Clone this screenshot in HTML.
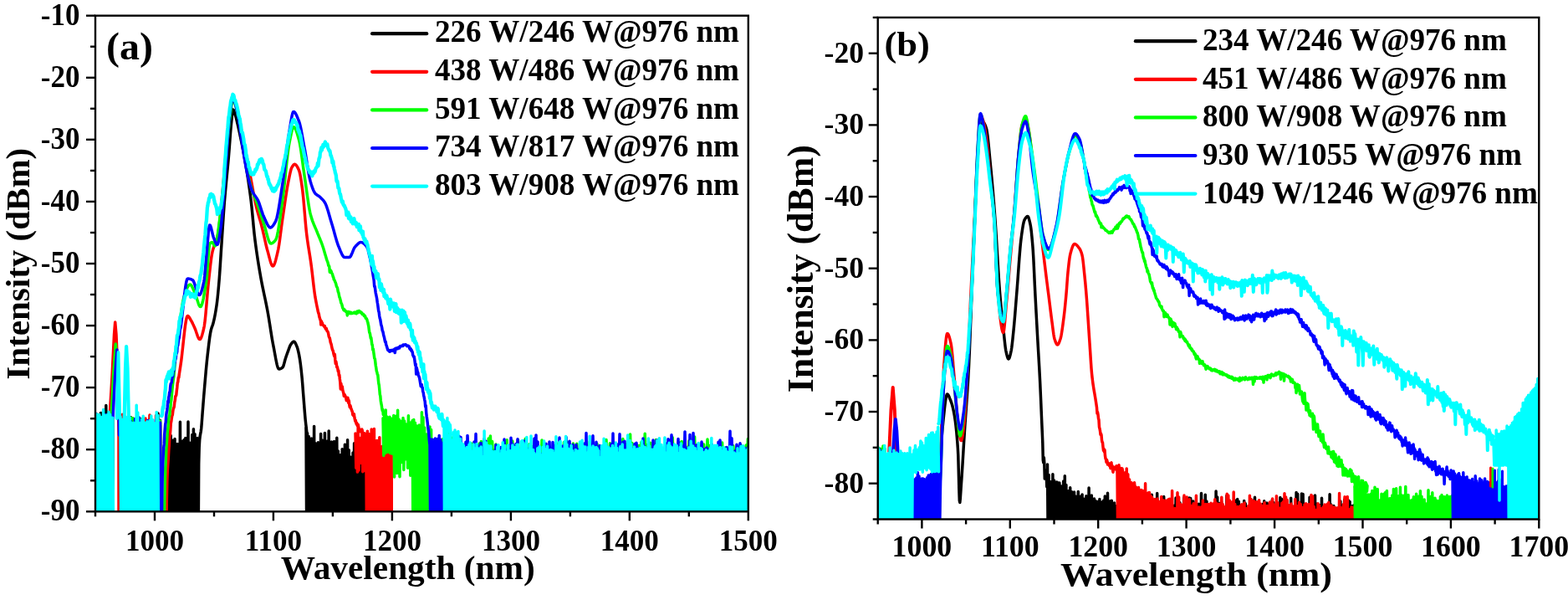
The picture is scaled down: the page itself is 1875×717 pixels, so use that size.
<!DOCTYPE html><html><head><meta charset="utf-8"><title>Spectra</title><style>html,body{margin:0;padding:0;background:#fff;width:1875px;height:717px;overflow:hidden}svg{display:block}</style></head><body><svg width="1875" height="717" viewBox="0 0 1875 717" font-family="'Liberation Serif','Times New Roman',serif" font-weight="bold">
<defs><clipPath id="ca"><rect x="114.0" y="18.7" width="780.8" height="592.5999999999999"/></clipPath><clipPath id="cb"><rect x="1049.7" y="20.9" width="790.5999999999999" height="599.6"/></clipPath></defs>
<rect width="1875" height="717" fill="#fff"/>
<g clip-path="url(#ca)"><polyline points="114.0,501.0 114.8,660.0 115.6,495.0 116.4,660.0 117.2,496.3 118.0,660.0 118.8,497.7 119.6,660.0 120.4,493.5 121.2,660.0 122.0,496.5 122.8,660.0 123.6,491.3 124.4,660.0 125.2,491.7 126.0,660.0 126.8,484.6 127.6,660.0 128.4,492.9 129.2,660.0 130.0,495.2 130.8,660.0 131.6,495.8 132.4,660.0 133.2,500.4 134.0,660.0 134.8,500.3 135.5,660.0" fill="none" stroke="#000000" stroke-width="3.5" stroke-linejoin="round" stroke-linecap="round"/>
<polyline points="144.0,502.7 145.2,660.0 146.5,510.0 147.8,660.0 149.0,501.8 150.2,660.0 151.5,500.3 152.8,660.0 154.0,506.1 155.2,660.0 156.5,498.8 157.8,660.0 159.0,506.2 160.2,660.0 161.5,511.3 162.8,660.0 164.0,500.4 165.2,660.0 166.5,502.2 167.8,660.0 169.0,501.1 170.2,660.0 171.5,506.0 172.8,535.2 174.0,503.0 175.2,660.0 176.5,513.2 177.8,660.0 179.0,500.7 180.2,660.0 181.5,506.1 182.8,536.9 184.0,513.0 185.2,660.0 186.5,509.0 187.8,660.0 189.0,494.0 190.2,660.0 191.5,502.2 192.0,660.0" fill="none" stroke="#000000" stroke-width="3.5" stroke-linejoin="round" stroke-linecap="round"/>
<polyline points="201.0,515.2 201.8,660.0 202.6,538.8 203.4,660.0 204.2,520.5 205.0,660.0 205.8,526.1 206.6,660.0 207.4,530.7 208.2,660.0 209.0,524.4 209.8,660.0 210.6,533.0 211.4,660.0 212.2,530.5 213.0,660.0 213.8,540.3 214.6,660.0 215.4,504.3 216.2,660.0 217.0,532.3 217.8,660.0 218.6,527.0 219.4,660.0 220.2,525.5 221.0,660.0 221.8,523.4 222.6,660.0 223.4,533.8 224.2,660.0 225.0,504.1 225.8,660.0 226.6,528.9 227.4,660.0 228.2,534.0 229.0,660.0 229.8,519.6 230.6,660.0 231.4,512.8 232.2,660.0 233.0,518.8 233.8,660.0 234.6,528.4 235.4,660.0 236.2,523.5 236.8,660.0" fill="none" stroke="#000000" stroke-width="3.5" stroke-linejoin="round" stroke-linecap="round"/>
<polyline points="237.2,640.0 237.7,554.1 238.2,534.4 238.7,525.8 239.2,521.3 239.7,518.4 240.2,515.7 240.7,512.0 241.2,506.1 241.7,499.1 242.2,492.4 242.7,486.0 243.2,479.7 243.7,473.4 244.2,467.4 244.7,461.5 245.2,455.7 245.7,449.9 246.2,444.2 246.7,438.7 247.2,433.5 247.7,428.6 248.2,424.1 248.7,419.8 249.2,415.5 249.7,411.3 250.2,407.3 250.7,403.6 251.2,400.3 251.7,397.3 252.2,394.8 252.7,392.9 253.2,391.3 253.7,389.9 254.2,388.6 254.7,387.1 255.2,385.2 255.7,383.2 256.2,381.0 256.7,378.6 257.2,376.0 257.7,373.3 258.2,370.3 258.7,367.1 259.2,363.7 259.7,359.8 260.2,355.4 260.7,350.4 261.2,345.1 261.7,339.3 262.2,333.3 262.7,326.5 263.2,319.0 263.7,311.2 264.2,303.2 264.7,295.5 265.2,288.0 265.7,280.2 266.2,272.5 266.7,264.8 267.2,257.4 267.7,250.3 268.2,243.7 268.7,237.6 269.2,231.8 269.7,226.3 270.2,221.0 270.7,215.8 271.2,210.7 271.7,205.5 272.2,200.3 272.7,195.0 273.2,189.5 273.7,183.7 274.2,177.4 274.7,170.6 275.2,163.7 275.7,157.0 276.2,151.1 276.7,146.0 277.2,140.8 277.7,136.0 278.2,132.4 278.7,131.0 279.2,131.4 279.7,132.3 280.2,133.7 280.7,135.4 281.2,137.0 281.7,138.6 282.2,140.4 282.7,142.3 283.2,144.3 283.7,146.5 284.2,148.7 284.7,150.9 285.2,153.1 285.7,155.3 286.2,157.6 286.7,159.9 287.2,162.3 287.7,164.6 288.2,167.1 288.7,169.5 289.2,172.0 289.7,174.5 290.2,177.1 290.7,179.7 291.2,182.4 291.7,185.1 292.2,187.8 292.7,190.6 293.2,193.5 293.7,196.3 294.2,199.3 294.7,202.2 295.2,205.2 295.7,208.3 296.2,211.5 296.7,214.7 297.2,218.0 297.7,221.4 298.2,224.9 298.7,228.5 299.2,232.2 299.7,236.1 300.2,240.1 300.7,244.6 301.2,249.4 301.7,254.6 302.2,260.0 302.7,265.4 303.2,270.8 303.7,275.9 304.2,280.6 304.7,284.8 305.2,288.7 305.7,292.5 306.2,296.2 306.7,299.8 307.2,303.2 307.7,306.6 308.2,309.9 308.7,313.0 309.2,316.2 309.7,319.2 310.2,322.2 310.7,325.1 311.2,328.0 311.7,330.9 312.2,333.6 312.7,336.3 313.2,338.8 313.7,341.4 314.2,343.8 314.7,346.2 315.2,348.6 315.7,351.0 316.2,353.3 316.7,355.7 317.2,358.0 317.7,360.4 318.2,362.9 318.7,365.3 319.2,367.9 319.7,370.5 320.2,373.2 320.7,376.0 321.2,379.0 321.7,382.0 322.2,385.2 322.7,388.3 323.2,391.6 323.7,394.8 324.2,397.9 324.7,401.1 325.2,404.1 325.7,407.0 326.2,409.8 326.7,412.4 327.2,414.9 327.7,417.5 328.2,420.2 328.7,423.0 329.2,425.8 329.7,428.5 330.2,431.0 330.7,433.4 331.2,435.6 331.7,437.5 332.2,439.0 332.7,440.2 333.2,440.8 333.7,441.0 334.2,441.0 334.7,440.9 335.2,440.7 335.7,440.5 336.2,440.2 336.7,439.9 337.2,439.6 337.7,439.2 338.2,438.8 338.7,437.8 339.2,436.4 339.7,434.6 340.2,432.7 340.7,430.8 341.2,429.0 341.7,427.4 342.2,425.9 342.7,424.5 343.2,423.1 343.7,421.7 344.2,420.3 344.7,419.0 345.2,417.6 345.7,416.2 346.2,414.8 346.7,413.5 347.2,412.5 347.7,411.7 348.2,411.0 348.7,410.3 349.2,409.7 349.7,409.1 350.2,408.7 350.7,408.4 351.2,408.2 351.7,408.3 352.2,408.6 352.7,409.2 353.2,410.0 353.7,411.0 354.2,412.1 354.7,413.3 355.2,414.5 355.7,416.0 356.2,417.8 356.7,419.8 357.2,422.1 357.7,424.7 358.2,427.4 358.7,430.5 359.2,434.0 359.7,438.0 360.2,442.4 360.7,447.1 361.2,452.1 361.7,458.2 362.2,464.8 362.7,471.3 363.2,477.7 363.7,484.1 364.2,490.5 364.7,496.6 365.2,502.1 365.7,506.6 366.2,510.6 366.7,515.1 367.2,521.1 367.7,531.0" fill="none" stroke="#000000" stroke-width="3.5" stroke-linejoin="round" stroke-linecap="round"/>
<polyline points="366.0,511.3 366.8,660.0 367.6,517.8 368.4,660.0 369.2,521.6 370.0,660.0 370.8,526.8 371.6,660.0 372.4,523.9 373.2,660.0 374.0,533.3 374.8,660.0 375.6,509.4 376.4,660.0 377.2,529.8 378.0,660.0 378.8,545.1 379.6,573.4 380.4,528.8 381.2,660.0 382.0,538.3 382.8,660.0 383.6,518.5 384.4,660.0 385.2,526.1 386.0,660.0 386.8,534.1 387.6,660.0 388.4,517.4 389.2,660.0 390.0,527.3 390.8,660.0 391.6,526.9 392.4,660.0 393.2,514.9 394.0,660.0 394.8,540.3 395.6,660.0 396.4,528.0 397.2,660.0 398.0,547.3 398.8,660.0 399.6,527.6 400.4,660.0 401.2,537.1 402.0,660.0 402.8,523.2 403.6,660.0 404.4,538.9 405.2,660.0 406.0,545.8 406.8,660.0 407.6,543.6 408.4,660.0 409.2,536.8 410.0,660.0 410.8,538.3 411.6,660.0 412.4,531.2 413.2,660.0 414.0,549.5 414.8,660.0 415.6,525.8 416.4,660.0 417.2,537.8 418.0,660.0 418.8,546.0 419.6,660.0 420.4,551.9 421.2,660.0 422.0,541.1 422.8,660.0 423.6,529.7 424.4,660.0 425.2,535.7 426.0,660.0 426.8,544.0 427.6,660.0 428.4,542.7 429.2,660.0 430.0,554.6 430.8,660.0 431.6,537.8 432.4,660.0 433.2,539.0 434.0,660.0 434.8,547.5 435.6,660.0 436.4,538.8 437.2,660.0 438.0,523.1 438.0,660.0" fill="none" stroke="#000000" stroke-width="3.5" stroke-linejoin="round" stroke-linecap="round"/>
<polyline points="114.0,499.7 115.2,660.0 116.5,502.6 117.8,660.0 119.0,500.0 120.2,660.0 121.5,501.7 122.8,660.0 124.0,496.5 125.2,660.0 126.5,498.8 127.8,660.0 129.0,507.0 130.0,660.0" fill="none" stroke="#ff0000" stroke-width="3.5" stroke-linejoin="round" stroke-linecap="round"/>
<polyline points="144.0,505.4 145.2,660.0 146.5,495.2 147.8,660.0 149.0,510.1 150.2,660.0 151.5,503.6 152.8,660.0 154.0,505.3 155.2,660.0 156.5,506.1 157.8,660.0 159.0,500.1 160.2,660.0 161.5,504.4 162.8,660.0 164.0,502.8 165.2,660.0 166.5,519.6 167.8,660.0 169.0,508.1 170.2,660.0 171.5,503.4 172.8,660.0 174.0,499.9 175.2,660.0 176.5,505.4 177.8,660.0 179.0,495.9 180.2,660.0 181.5,508.4 182.8,660.0 184.0,511.1 185.2,660.0 186.5,496.5 187.8,660.0 189.0,513.3 190.2,660.0 191.5,508.6 192.0,660.0" fill="none" stroke="#ff0000" stroke-width="3.5" stroke-linejoin="round" stroke-linecap="round"/>
<polyline points="131.0,500.0 134.0,450.0 136.5,400.0 137.7,385.0 139.0,400.0 141.0,450.0 142.0,520.0 142.0,640.0" fill="none" stroke="#ff0000" stroke-width="3.5" stroke-linejoin="round" stroke-linecap="round"/>
<polyline points="198.8,640.8 199.3,598.8 199.8,575.1 200.3,561.9 200.8,554.3 201.3,547.5 201.8,538.2 202.3,532.0 202.8,521.1 203.3,519.7 203.8,514.1 204.3,505.8 204.8,503.4 205.3,499.6 205.8,496.8 206.3,495.7 206.8,491.3 207.3,488.2 207.8,487.6 208.3,485.7 208.8,480.7 209.3,478.6 209.8,473.4 210.3,473.3 210.8,471.9 211.3,466.7 211.8,462.9 212.3,457.4 212.8,456.4 213.3,451.1 213.8,451.4 214.3,447.2 214.8,444.0 215.3,440.8 215.8,437.5 216.3,434.1 216.8,430.4 217.3,426.3 217.8,421.9 218.3,417.4 218.8,412.8 219.3,408.1 219.8,403.5 220.3,399.0 220.8,394.8 221.3,390.8 221.8,387.2 222.3,384.1 222.8,381.5 223.3,379.4 223.8,378.1 224.3,377.5 224.8,377.6 225.3,377.9 225.8,378.5 226.3,379.2 226.8,380.0 227.3,380.9 227.8,381.8 228.3,382.7 228.8,383.5 229.3,384.4 229.8,385.4 230.3,386.4 230.8,387.5 231.3,388.5 231.8,389.6 232.3,390.7 232.8,391.8 233.3,393.0 233.8,394.3 234.3,395.8 234.8,397.3 235.3,398.8 235.8,400.2 236.3,401.6 236.8,402.8 237.3,403.9 237.8,404.7 238.3,405.2 238.8,405.5 239.3,405.4 239.8,404.9 240.3,404.1 240.8,402.9 241.3,401.5 241.8,399.9 242.3,398.1 242.8,396.2 243.3,394.2 243.8,392.0 244.3,389.5 244.8,386.1 245.3,381.8 245.8,376.9 246.3,371.4 246.8,365.7 247.3,359.8 247.8,353.8 248.3,348.0 248.8,342.6 249.3,337.6 249.8,333.1 250.3,328.6 250.8,324.0 251.3,319.5 251.8,315.2 252.3,311.2 252.8,307.6 253.3,304.4 253.8,301.8 254.3,299.7 254.8,297.8 255.3,296.2 255.8,294.7 256.3,293.4 256.8,292.1 257.3,290.9 257.8,289.7 258.3,288.3 258.8,286.9 259.3,285.3 259.8,283.5 260.3,281.4 260.8,279.0 261.3,275.9 261.8,272.2 262.3,268.0 262.8,263.4 263.3,258.5 263.8,253.3 264.3,248.0 264.8,242.6 265.3,237.3 265.8,232.0 266.3,226.9 266.8,221.7 267.3,216.2 267.8,210.7 268.3,205.0 268.8,199.3 269.3,193.7 269.8,188.0 270.3,182.5 270.8,177.1 271.3,171.8 271.8,166.3 272.3,160.7 272.8,155.1 273.3,149.8 273.8,144.8 274.3,140.2 274.8,136.3 275.3,133.1 275.8,129.8 276.3,126.6 276.8,123.6 277.3,121.1 277.8,119.3 278.3,118.2 278.8,118.0 279.3,118.4 279.8,119.1 280.3,120.2 280.8,121.5 281.3,122.9 281.8,124.6 282.3,126.3 282.8,128.0 283.3,129.7 283.8,131.4 284.3,133.3 284.8,135.4 285.3,137.8 285.8,140.2 286.3,142.8 286.8,145.4 287.3,148.2 287.8,150.9 288.3,153.7 288.8,156.5 289.3,159.2 289.8,161.9 290.3,164.5 290.8,167.0 291.3,169.5 291.8,172.0 292.3,174.4 292.8,176.9 293.3,179.4 293.8,181.9 294.3,184.3 294.8,186.8 295.3,189.3 295.8,191.8 296.3,194.4 296.8,196.9 297.3,199.5 297.8,202.1 298.3,204.7 298.8,207.4 299.3,210.1 299.8,212.8 300.3,215.4 300.8,218.1 301.3,220.8 301.8,223.5 302.3,226.2 302.8,229.0 303.3,231.7 303.8,234.3 304.3,236.9 304.8,239.4 305.3,241.8 305.8,244.1 306.3,246.3 306.8,248.3 307.3,250.3 307.8,252.2 308.3,254.0 308.8,255.8 309.3,257.5 309.8,259.2 310.3,260.9 310.8,262.6 311.3,264.4 311.8,266.1 312.3,267.9 312.8,269.8 313.3,271.7 313.8,273.7 314.3,275.8 314.8,278.0 315.3,280.2 315.8,282.4 316.3,284.7 316.8,287.0 317.3,289.2 317.8,291.4 318.3,293.5 318.8,295.5 319.3,297.5 319.8,299.3 320.3,301.0 320.8,302.9 321.3,304.8 321.8,306.7 322.3,308.6 322.8,310.4 323.3,312.2 323.8,313.8 324.3,315.2 324.8,316.4 325.3,317.2 325.8,317.8 326.3,318.0 326.8,317.8 327.3,317.3 327.8,316.4 328.3,315.2 328.8,313.8 329.3,312.2 329.8,310.4 330.3,308.4 330.8,306.4 331.3,304.3 331.8,302.1 332.3,300.0 332.8,297.6 333.3,294.8 333.8,291.7 334.3,288.2 334.8,284.5 335.3,280.6 335.8,276.7 336.3,272.8 336.8,269.0 337.3,265.3 337.8,261.8 338.3,258.4 338.8,255.0 339.3,251.6 339.8,248.2 340.3,244.7 340.8,241.3 341.3,238.0 341.8,234.7 342.3,231.4 342.8,228.3 343.3,225.3 343.8,222.5 344.3,219.7 344.8,217.2 345.3,214.7 345.8,212.2 346.3,209.7 346.8,207.4 347.3,205.2 347.8,203.3 348.3,201.6 348.8,200.4 349.3,199.5 349.8,198.7 350.3,197.9 350.8,197.3 351.3,196.7 351.8,196.4 352.3,196.3 352.8,196.4 353.3,196.6 353.8,197.0 354.3,197.6 354.8,198.3 355.3,199.0 355.8,199.9 356.3,200.9 356.8,201.9 357.3,203.0 357.8,204.3 358.3,206.1 358.8,208.3 359.3,211.0 359.8,214.0 360.3,217.2 360.8,220.6 361.3,224.1 361.8,227.8 362.3,232.2 362.8,237.2 363.3,242.7 363.8,248.5 364.3,254.4 364.8,260.3 365.3,266.1 365.8,271.5 366.3,276.5 366.8,280.8 367.3,284.7 367.8,288.3 368.3,291.7 368.8,294.9 369.3,298.1 369.8,301.1 370.3,304.3 370.8,307.4 371.3,310.7 371.8,314.2 372.3,317.9 372.8,321.9 373.3,326.1 373.8,330.5 374.3,334.8 374.8,339.2 375.3,343.4 375.8,347.4 376.3,351.0 376.8,354.4 377.3,357.2 377.8,359.9 378.3,362.5 378.8,365.0 379.3,367.4 379.8,369.7 380.3,372.3 380.8,374.0 381.3,375.3 381.8,378.4 382.3,379.9 382.8,381.8 383.3,382.5 383.8,388.0 384.3,383.7 384.8,386.3 385.3,385.9 385.8,387.3 386.3,388.6 386.8,389.0 387.3,389.5 387.8,390.4 388.3,389.6 388.8,391.4 389.3,392.8 389.8,393.5 390.3,392.6 390.8,395.0 391.3,395.8 391.8,396.1 392.3,397.2 392.8,399.5 393.3,402.1 393.8,403.3 394.3,404.2 394.8,406.7 395.3,409.3 395.8,410.5 396.3,412.3 396.8,414.8 397.3,417.1 397.8,418.6 398.3,419.3 398.8,422.0 399.3,424.1 399.8,425.6 400.3,423.4 400.8,429.9 401.3,434.6 401.8,432.0 402.3,434.7 402.8,438.7 403.3,438.4 403.8,440.4 404.3,443.7 404.8,443.0 405.3,448.6 405.8,448.0 406.3,452.7 406.8,456.4 407.3,465.0 407.8,458.2 408.3,461.9 408.8,463.7 409.3,461.9 409.8,466.1 410.3,468.0 410.8,469.8 411.3,473.3 411.8,471.3 412.3,472.1 412.8,473.1 413.3,474.3 413.8,476.1 414.3,478.8 414.8,475.5 415.3,478.2 415.8,475.2 416.3,477.4 416.8,481.5 417.3,478.8 417.8,484.0 418.3,486.8 418.8,484.5 419.3,486.1 419.8,488.6 420.3,489.1 420.8,491.2 421.3,491.6 421.8,495.6 422.3,496.0 422.8,496.8 423.3,494.6 423.8,498.4 424.3,501.0 424.8,503.3 425.3,502.3 425.8,505.5 426.3,506.9 426.8,505.6 427.3,508.8 427.8,508.3 428.3,507.7 428.8,510.4 429.3,513.5 429.8,512.9 430.3,513.1 430.8,515.3 431.3,515.9 431.8,515.9 432.3,513.4 432.8,513.1 433.3,515.3 433.8,521.4 434.3,520.6 434.8,517.6 435.3,522.2 435.8,519.3" fill="none" stroke="#ff0000" stroke-width="3.5" stroke-linejoin="round" stroke-linecap="round"/>
<polyline points="425.0,518.1 425.8,559.3 426.6,524.4 427.4,564.1 428.2,508.1 429.0,562.0 429.8,523.3 430.6,552.1 431.4,525.0 432.2,553.4 433.0,514.5 433.8,563.7 434.6,519.6 435.4,548.1 436.2,517.9 437.0,562.8 437.8,524.4 438.6,660.0 439.4,515.3 440.2,660.0 441.0,518.6 441.8,660.0 442.6,530.2 443.4,660.0 444.2,513.1 445.0,660.0 445.8,529.9 446.6,660.0 447.4,512.6 448.2,660.0 449.0,526.8 449.8,660.0 450.6,526.5 451.4,660.0 452.2,526.6 453.0,660.0 453.8,522.8 454.6,660.0 455.4,534.4 456.2,660.0 457.0,533.6 457.8,660.0 458.6,531.2 459.4,660.0 460.2,516.3 461.0,660.0 461.8,540.9 462.6,660.0 463.4,540.6 464.2,660.0 465.0,529.1 465.8,660.0 466.6,524.9 467.4,660.0 468.2,537.6 468.3,660.0" fill="none" stroke="#ff0000" stroke-width="3.5" stroke-linejoin="round" stroke-linecap="round"/>
<polyline points="114.0,499.1 115.2,660.0 116.5,505.0 117.8,660.0 119.0,503.2 120.2,660.0 121.5,512.5 122.8,660.0 124.0,499.8 125.2,660.0 126.5,496.6 127.8,660.0 129.0,505.3 130.2,660.0 131.5,503.5 132.0,660.0" fill="none" stroke="#00ff00" stroke-width="3.5" stroke-linejoin="round" stroke-linecap="round"/>
<polyline points="144.0,508.4 145.2,660.0 146.5,510.8 147.8,660.0 149.0,511.0 150.2,660.0 151.5,512.6 152.8,660.0 154.0,504.4 155.2,660.0 156.5,499.2 157.8,660.0 159.0,499.8 160.2,660.0 161.5,501.2 162.8,660.0 164.0,500.4 165.2,660.0 166.5,510.1 167.8,660.0 169.0,501.0 170.2,660.0 171.5,510.1 172.8,660.0 174.0,505.7 175.2,660.0 176.5,509.6 177.8,660.0 179.0,507.6 180.2,660.0 181.5,506.9 182.8,660.0 184.0,505.6 185.2,660.0 186.5,506.8 187.8,660.0 189.0,506.6 190.2,660.0 191.5,502.9 192.0,660.0" fill="none" stroke="#00ff00" stroke-width="3.5" stroke-linejoin="round" stroke-linecap="round"/>
<polyline points="133.0,500.0 135.5,450.0 138.3,411.0 140.0,440.0 141.5,500.0" fill="none" stroke="#00ff00" stroke-width="3.5" stroke-linejoin="round" stroke-linecap="round"/>
<polyline points="196.3,641.3 196.8,600.2 197.3,577.0 197.8,559.2 198.3,550.3 198.8,537.5 199.3,530.1 199.8,523.0 200.3,514.8 200.8,512.7 201.3,504.6 201.8,500.2 202.3,496.7 202.8,496.9 203.3,488.2 203.8,487.5 204.3,481.0 204.8,478.3 205.3,472.8 205.8,467.4 206.3,461.6 206.8,457.4 207.3,453.4 207.8,450.2 208.3,443.8 208.8,439.2 209.3,431.1 209.8,428.8 210.3,424.5 210.8,422.2 211.3,417.7 211.8,411.7 212.3,408.2 212.8,403.5 213.3,398.6 213.8,395.3 214.3,391.2 214.8,387.1 215.3,383.1 215.8,379.3 216.3,375.5 216.8,371.9 217.3,368.5 217.8,365.4 218.3,362.5 218.8,359.9 219.3,357.6 219.8,355.7 220.3,354.1 220.8,352.5 221.3,350.9 221.8,349.4 222.3,348.0 222.8,346.6 223.3,345.4 223.8,344.2 224.3,343.1 224.8,342.2 225.3,341.4 225.8,340.8 226.3,340.3 226.8,340.1 227.3,340.0 227.8,340.2 228.3,340.6 228.8,341.2 229.3,342.0 229.8,342.9 230.3,344.0 230.8,345.1 231.3,346.2 231.8,347.4 232.3,348.5 232.8,349.6 233.3,350.6 233.8,351.9 234.3,353.3 234.8,354.9 235.3,356.5 235.8,358.2 236.3,359.8 236.8,361.3 237.3,362.8 237.8,364.1 238.3,365.1 238.8,365.9 239.3,366.4 239.8,366.5 240.3,366.2 240.8,365.4 241.3,364.2 241.8,362.7 242.3,360.8 242.8,358.7 243.3,356.3 243.8,353.6 244.3,350.8 244.8,347.8 245.3,344.8 245.8,341.6 246.3,338.4 246.8,335.1 247.3,330.6 247.8,324.6 248.3,317.8 248.8,310.7 249.3,303.9 249.8,298.1 250.3,293.7 250.8,291.4 251.3,290.8 251.8,290.3 252.3,290.0 252.8,289.7 253.3,289.5 253.8,289.5 254.3,289.9 254.8,290.7 255.3,291.6 255.8,292.6 256.3,293.5 256.8,294.0 257.3,293.9 257.8,293.0 258.3,291.5 258.8,289.4 259.3,286.7 259.8,283.7 260.3,280.3 260.8,276.7 261.3,272.9 261.8,269.1 262.3,265.2 262.8,261.5 263.3,257.8 263.8,253.8 264.3,249.4 264.8,244.8 265.3,239.9 265.8,234.8 266.3,229.6 266.8,224.2 267.3,218.8 267.8,213.3 268.3,207.9 268.8,202.5 269.3,197.2 269.8,192.0 270.3,187.0 270.8,181.7 271.3,176.3 271.8,170.9 272.3,165.5 272.8,160.2 273.3,155.1 273.8,150.2 274.3,145.6 274.8,141.5 275.3,137.7 275.8,133.7 276.3,129.7 276.8,125.9 277.3,122.7 277.8,120.4 278.3,119.1 278.8,119.1 279.3,119.5 279.8,120.3 280.3,121.5 280.8,122.9 281.3,124.5 281.8,126.3 282.3,128.3 282.8,130.5 283.3,132.6 283.8,134.8 284.3,137.0 284.8,139.2 285.3,141.3 285.8,143.6 286.3,146.0 286.8,148.7 287.3,151.5 287.8,154.3 288.3,157.3 288.8,160.4 289.3,163.5 289.8,166.6 290.3,169.7 290.8,172.8 291.3,175.9 291.8,178.8 292.3,181.8 292.8,184.8 293.3,187.9 293.8,191.0 294.3,194.2 294.8,197.4 295.3,200.5 295.8,203.5 296.3,206.4 296.8,209.2 297.3,211.8 297.8,214.1 298.3,216.3 298.8,218.3 299.3,220.2 299.8,222.0 300.3,223.7 300.8,225.4 301.3,227.0 301.8,228.5 302.3,230.0 302.8,231.4 303.3,232.8 303.8,234.1 304.3,235.4 304.8,236.5 305.3,237.7 305.8,238.8 306.3,240.0 306.8,241.3 307.3,242.6 307.8,243.9 308.3,245.4 308.8,246.8 309.3,248.3 309.8,249.8 310.3,251.3 310.8,252.9 311.3,254.4 311.8,256.0 312.3,257.6 312.8,259.2 313.3,260.7 313.8,262.3 314.3,263.8 314.8,265.3 315.3,266.8 315.8,268.3 316.3,269.9 316.8,271.6 317.3,273.4 317.8,275.3 318.3,277.1 318.8,279.0 319.3,280.8 319.8,282.6 320.3,284.3 320.8,285.8 321.3,287.2 321.8,288.5 322.3,289.5 322.8,290.3 323.3,290.8 323.8,291.0 324.3,291.0 324.8,290.9 325.3,290.7 325.8,290.4 326.3,290.1 326.8,289.7 327.3,289.3 327.8,288.8 328.3,288.3 328.8,287.7 329.3,287.1 329.8,286.4 330.3,285.3 330.8,283.8 331.3,281.9 331.8,279.6 332.3,277.1 332.8,274.2 333.3,271.2 333.8,267.9 334.3,264.5 334.8,261.0 335.3,257.4 335.8,253.8 336.3,250.1 336.8,246.5 337.3,242.9 337.8,239.5 338.3,235.9 338.8,232.0 339.3,227.8 339.8,223.4 340.3,218.8 340.8,214.1 341.3,209.3 341.8,204.5 342.3,199.7 342.8,195.1 343.3,190.5 343.8,186.2 344.3,182.1 344.8,178.3 345.3,174.8 345.8,171.8 346.3,169.2 346.8,166.7 347.3,164.2 347.8,161.8 348.3,159.4 348.8,157.2 349.3,155.3 349.8,153.8 350.3,152.6 350.8,151.9 351.3,151.7 351.8,151.9 352.3,152.4 352.8,153.1 353.3,154.1 353.8,155.2 354.3,156.6 354.8,158.0 355.3,159.6 355.8,161.3 356.3,163.0 356.8,164.8 357.3,166.5 357.8,168.4 358.3,170.7 358.8,173.4 359.3,176.3 359.8,179.5 360.3,182.9 360.8,186.4 361.3,190.0 361.8,193.8 362.3,197.5 362.8,201.2 363.3,204.8 363.8,208.3 364.3,211.6 364.8,214.9 365.3,218.3 365.8,221.9 366.3,225.4 366.8,229.1 367.3,232.7 367.8,236.2 368.3,239.6 368.8,243.0 369.3,246.1 369.8,249.0 370.3,251.7 370.8,254.1 371.3,256.2 371.8,258.0 372.3,259.7 372.8,261.4 373.3,262.9 373.8,264.3 374.3,265.6 374.8,266.9 375.3,268.2 375.8,269.3 376.3,270.5 376.8,271.7 377.3,272.8 377.8,273.9 378.3,275.1 378.8,276.3 379.3,277.5 379.8,278.8 380.3,280.0 380.8,281.2 381.3,282.5 381.8,283.6 382.3,284.8 382.8,286.0 383.3,287.3 383.8,288.5 384.3,289.8 384.8,291.1 385.3,292.5 385.8,294.0 386.3,295.5 386.8,297.1 387.3,298.8 387.8,300.5 388.3,302.2 388.8,303.9 389.3,305.6 389.8,307.3 390.3,309.0 390.8,310.6 391.3,311.9 391.8,313.2 392.3,314.8 392.8,317.3 393.3,317.4 393.8,318.8 394.3,325.2 394.8,322.4 395.3,323.1 395.8,323.5 396.3,325.4 396.8,326.7 397.3,327.1 397.8,328.8 398.3,330.7 398.8,331.5 399.3,334.1 399.8,334.6 400.3,335.4 400.8,337.0 401.3,337.9 401.8,339.5 402.3,341.9 402.8,343.0 403.3,343.6 403.8,345.7 404.3,348.7 404.8,349.6 405.3,352.0 405.8,354.7 406.3,355.8 406.8,357.6 407.3,359.4 407.8,362.0 408.3,362.6 408.8,363.8 409.3,366.0 409.8,368.2 410.3,368.6 410.8,370.2 411.3,370.8 411.8,369.9 412.3,371.0 412.8,371.2 413.3,371.6 413.8,372.6 414.3,373.0 414.8,372.9 415.3,376.9 415.8,372.6 416.3,373.6 416.8,372.7 417.3,373.3 417.8,372.9 418.3,374.6 418.8,373.7 419.3,374.5 419.8,373.3 420.3,374.3 420.8,374.6 421.3,374.2 421.8,374.2 422.3,374.1 422.8,373.9 423.3,373.6 423.8,373.2 424.3,374.2 424.8,373.5 425.3,373.4 425.8,373.4 426.3,374.8 426.8,372.1 427.3,372.0 427.8,373.8 428.3,372.5 428.8,373.0 429.3,371.5 429.8,372.3 430.3,372.7 430.8,372.5 431.3,373.7 431.8,373.1 432.3,373.6 432.8,374.7 433.3,375.5 433.8,375.2 434.3,375.3 434.8,376.0 435.3,377.5 435.8,376.8 436.3,377.6 436.8,378.3 437.3,380.3 437.8,380.7 438.3,380.8 438.8,381.9 439.3,383.8 439.8,385.1 440.3,387.8 440.8,389.7 441.3,394.1 441.8,397.5 442.3,398.1 442.8,400.9 443.3,404.2 443.8,403.6 444.3,407.6 444.8,411.8 445.3,412.3 445.8,418.2 446.3,417.0 446.8,421.0 447.3,424.4 447.8,428.2 448.3,428.8 448.8,432.7 449.3,437.0 449.8,439.7 450.3,443.6 450.8,444.7 451.3,447.5 451.8,448.0 452.3,453.5 452.8,458.1 453.3,460.3 453.8,465.7 454.3,471.4 454.8,473.2 455.3,479.0 455.8,482.2 456.3,484.4 456.8,488.2 457.3,490.9 457.8,489.3 458.3,495.6 458.8,492.1 459.3,496.8 459.8,496.8 460.3,498.1 460.8,500.3 461.3,500.2 461.8,504.3" fill="none" stroke="#00ff00" stroke-width="3.5" stroke-linejoin="round" stroke-linecap="round"/>
<polyline points="458.0,499.8 458.8,544.4 459.6,499.0 460.4,541.7 461.2,489.9 462.0,540.4 462.8,498.1 463.6,540.2 464.4,503.8 465.2,540.0 466.0,498.3 466.8,541.6 467.6,500.1 468.4,542.0 469.2,500.6 470.0,542.4 470.8,496.5 471.6,569.9 472.4,502.5 473.2,526.1 474.0,496.9 474.8,565.4 475.6,490.2 476.4,561.7 477.2,501.3 478.0,569.8 478.8,504.0 479.6,552.7 480.4,503.1 481.2,551.5 482.0,499.5 482.8,561.5 483.6,503.0 484.4,549.0 485.2,506.8 486.0,548.8 486.8,508.1 487.6,559.3 488.4,496.7 489.2,558.3 490.0,504.9 490.8,568.2 491.6,504.8 492.4,561.8 493.2,502.4 494.0,660.0 494.8,501.5 495.6,660.0 496.4,505.3 497.2,660.0 498.0,508.8 498.8,660.0 499.6,510.0 500.4,660.0 501.2,508.0 502.0,660.0 502.8,513.8 503.6,660.0 504.4,492.7 505.2,660.0 506.0,498.7 506.8,660.0 507.6,511.1 508.4,660.0 509.2,518.9 510.0,660.0 510.8,519.1 511.6,660.0 512.4,512.3 513.2,660.0 514.0,509.9 514.8,660.0 515.6,513.5 516.2,660.0" fill="none" stroke="#00ff00" stroke-width="3.5" stroke-linejoin="round" stroke-linecap="round"/>
<polyline points="516.0,532.4 517.1,557.9 518.2,542.2 519.3,574.3 520.4,530.9 521.5,557.4 522.6,531.8 523.7,551.2 524.8,534.9 525.9,545.3 527.0,539.4 528.1,549.8 529.2,524.8 530.3,562.3 531.4,537.3 532.5,550.0 533.6,537.5 534.7,554.2 535.8,516.9 536.9,545.1 538.0,532.9 539.1,565.8 540.2,523.0 541.3,548.9 542.4,541.4 543.5,551.7 544.6,539.1 545.7,567.0 546.8,536.4 547.9,557.7 549.0,540.0 550.1,566.2 551.2,533.9 552.3,561.0 553.4,532.1 554.5,563.5 555.6,539.2 556.7,547.3 557.8,540.5 558.9,558.5 560.0,536.1 561.1,557.7 562.2,529.5 563.3,566.8 564.4,530.2 565.5,554.0 566.6,537.0 567.7,560.0 568.8,547.3 569.9,546.5 571.0,544.2 572.1,554.7 573.2,530.1 574.3,553.1 575.4,527.6 576.5,548.8 577.6,535.9 578.7,565.4 579.8,539.8 580.9,554.5 582.0,550.4 583.1,569.5 584.2,524.0 585.3,559.7 586.4,520.9 587.5,560.1 588.6,527.6 589.7,560.9 590.8,538.0 591.9,561.9 593.0,531.0 594.1,548.8 595.2,533.9 596.3,556.0 597.4,539.2 598.5,551.0 599.6,538.6 600.7,555.1 601.8,529.3 602.9,547.4 604.0,529.9 605.1,561.3 606.2,525.8 607.3,569.2 608.4,537.9 609.5,550.4 610.6,549.6 611.7,561.8 612.8,527.1 613.9,552.5 615.0,532.8 616.1,566.9 617.2,534.5 618.3,561.6 619.4,525.7 620.5,548.3 621.6,540.2 622.7,566.1 623.8,528.7 624.9,568.6 626.0,535.5 627.1,567.6 628.2,524.2 629.3,559.2 630.4,531.9 631.5,548.6 632.6,531.0 633.7,549.8 634.8,536.5 635.9,568.2 637.0,533.5 638.1,558.8 639.2,538.4 640.3,549.5 641.4,536.1 642.5,567.1 643.6,543.1 644.7,561.0 645.8,535.9 646.9,559.2 648.0,526.1 649.1,554.4 650.2,544.6 651.3,555.3 652.4,538.0 653.5,551.0 654.6,543.1 655.7,546.0 656.8,534.4 657.9,566.9 659.0,545.3 660.1,556.7 661.2,544.5 662.3,558.7 663.4,532.2 664.5,553.1 665.6,532.5 666.7,563.8 667.8,529.5 668.9,547.1 670.0,536.0 671.1,545.6 672.2,534.0 673.3,554.3 674.4,528.6 675.5,545.8 676.6,533.7 677.7,548.1 678.8,528.2 679.9,569.2 681.0,541.4 682.1,561.4 683.2,533.9 684.3,555.7 685.4,530.1 686.5,558.1 687.6,532.4 688.7,566.8 689.8,530.2 690.9,553.6 692.0,537.4 693.1,559.8 694.2,537.2 695.3,562.1 696.4,541.8 697.5,553.9 698.6,537.8 699.7,558.0 700.8,533.8 701.9,564.1 703.0,538.2 704.1,567.7 705.2,527.8 706.3,548.8 707.4,537.0 708.5,568.3 709.6,543.9 710.7,545.1 711.8,540.4 712.9,563.8 714.0,530.5 715.1,565.3 716.2,533.6 717.3,548.4 718.4,542.9 719.5,555.5 720.6,540.0 721.7,565.4 722.8,540.2 723.9,545.4 725.0,525.5 726.1,560.7 727.2,535.8 728.3,564.8 729.4,529.7 730.5,557.8 731.6,537.0 732.7,563.1 733.8,529.0 734.9,550.7 736.0,542.0 737.1,550.0 738.2,537.6 739.3,554.1 740.4,530.7 741.5,549.5 742.6,533.4 743.7,553.7 744.8,524.5 745.9,568.7 747.0,549.3 748.1,559.3 749.2,530.7 750.3,553.5 751.4,527.8 752.5,551.8 753.6,519.1 754.7,568.8 755.8,529.4 756.9,556.1 758.0,534.7 759.1,556.6 760.2,534.9 761.3,569.5 762.4,532.2 763.5,557.9 764.6,532.5 765.7,558.0 766.8,528.6 767.9,567.4 769.0,537.9 770.1,563.6 771.2,518.2 772.3,559.5 773.4,531.8 774.5,555.7 775.6,536.7 776.7,567.0 777.8,529.3 778.9,555.3 780.0,538.6 781.1,568.1 782.2,535.7 783.3,546.7 784.4,525.4 785.5,555.7 786.6,529.6 787.7,558.0 788.8,533.1 789.9,568.8 791.0,539.7 792.1,551.3 793.2,540.9 794.3,565.2 795.4,541.2 796.5,561.9 797.6,536.3 798.7,562.9 799.8,533.0 800.9,560.7 802.0,528.9 803.1,569.3 804.2,522.8 805.3,553.3 806.4,552.9 807.5,555.0 808.6,536.6 809.7,550.1 810.8,529.1 811.9,546.3 813.0,529.1 814.1,550.3 815.2,527.4 816.3,567.9 817.4,543.7 818.5,566.0 819.6,532.5 820.7,547.8 821.8,535.0 822.9,560.1 824.0,526.8 825.1,557.0 826.2,534.8 827.3,559.9 828.4,532.1 829.5,553.3 830.6,521.9 831.7,561.5 832.8,540.9 833.9,552.7 835.0,533.3 836.1,569.0 837.2,544.1 838.3,556.6 839.4,530.2 840.5,560.7 841.6,530.9 842.7,560.9 843.8,536.2 844.9,549.6 846.0,525.1 847.1,546.5 848.2,532.4 849.3,555.3 850.4,534.7 851.5,564.1 852.6,539.1 853.7,565.4 854.8,538.1 855.9,563.2 857.0,539.2 858.1,547.8 859.2,536.0 860.3,567.8 861.4,537.6 862.5,561.3 863.6,529.0 864.7,565.1 865.8,536.0 866.9,566.9 868.0,534.7 869.1,558.1 870.2,537.8 871.3,567.9 872.4,535.6 873.5,546.2 874.6,534.2 875.7,545.8 876.8,532.8 877.9,545.5 879.0,541.9 880.1,551.3 881.2,533.5 882.3,552.2 883.4,537.3 884.5,551.2 885.6,531.5 886.7,549.7 887.8,538.5 888.9,559.2 890.0,539.9 891.1,546.0 892.2,532.0 893.3,559.8 894.4,524.5 895.0,549.2" fill="none" stroke="#00ff00" stroke-width="3.5" stroke-linejoin="round" stroke-linecap="round"/>
<polyline points="114.0,493.7 115.2,660.0 116.5,506.5 117.8,660.0 119.0,513.3 120.2,660.0 121.5,507.2 122.8,660.0 124.0,500.8 125.2,660.0 126.5,495.4 127.8,660.0 129.0,501.0 130.2,660.0 131.5,506.1 132.8,660.0 134.0,509.6 134.0,660.0" fill="none" stroke="#0000ff" stroke-width="3.5" stroke-linejoin="round" stroke-linecap="round"/>
<polyline points="144.0,507.3 145.2,660.0 146.5,511.3 147.8,660.0 149.0,501.3 150.2,660.0 151.5,509.1 152.8,660.0 154.0,508.1 155.2,660.0 156.5,503.5 157.8,660.0 159.0,510.1 160.2,660.0 161.5,500.6 162.8,660.0 164.0,508.7 165.2,660.0 166.5,499.0 167.8,660.0 169.0,507.4 170.2,660.0 171.5,512.0 172.8,660.0 174.0,511.0 175.2,660.0 176.5,502.4 177.8,660.0 179.0,507.7 180.2,660.0 181.5,502.8 182.8,660.0 184.0,507.0 185.2,660.0 186.5,501.6 187.8,660.0 189.0,506.4 190.2,660.0 191.5,504.9 192.0,660.0" fill="none" stroke="#0000ff" stroke-width="3.5" stroke-linejoin="round" stroke-linecap="round"/>
<polyline points="135.0,500.0 137.5,450.0 139.9,418.0 141.5,450.0 142.5,520.0" fill="none" stroke="#0000ff" stroke-width="3.5" stroke-linejoin="round" stroke-linecap="round"/>
<polyline points="193.2,641.0 193.7,599.6 194.2,568.9 194.7,554.8 195.2,543.6 195.7,534.9 196.2,530.9 196.7,519.3 197.2,513.0 197.7,507.0 198.2,504.5 198.7,497.0 199.2,493.0 199.7,490.5 200.2,486.4 200.7,479.5 201.2,481.1 201.7,474.9 202.2,472.9 202.7,468.8 203.2,468.3 203.7,461.8 204.2,458.7 204.7,457.9 205.2,457.1 205.7,452.0 206.2,451.0 206.7,449.6 207.2,441.5 207.7,443.7 208.2,440.5 208.7,434.7 209.2,432.6 209.7,428.9 210.2,428.4 210.7,422.9 211.2,422.2 211.7,420.6 212.2,412.0 212.7,412.9 213.2,409.0 213.7,405.2 214.2,403.8 214.7,399.7 215.2,393.9 215.7,392.5 216.2,390.3 216.7,386.7 217.2,382.7 217.7,378.4 218.2,373.9 218.7,369.3 219.2,364.7 219.7,360.1 220.2,355.5 220.7,351.2 221.2,347.2 221.7,343.5 222.2,340.2 222.7,337.5 223.2,335.3 223.7,333.8 224.2,333.1 224.7,333.0 225.2,333.0 225.7,333.1 226.2,333.2 226.7,333.3 227.2,333.4 227.7,333.5 228.2,333.7 228.7,333.9 229.2,334.1 229.7,334.3 230.2,334.5 230.7,335.0 231.2,335.8 231.7,336.8 232.2,338.0 232.7,339.4 233.2,340.9 233.7,342.5 234.2,344.1 234.7,345.6 235.2,347.1 235.7,348.5 236.2,349.8 236.7,350.8 237.2,351.7 237.7,352.2 238.2,352.5 238.7,352.4 239.2,351.9 239.7,351.2 240.2,350.1 240.7,348.8 241.2,347.2 241.7,345.5 242.2,343.5 242.7,341.4 243.2,339.1 243.7,336.8 244.2,334.0 244.7,329.9 245.2,324.7 245.7,318.9 246.2,313.2 246.7,307.9 247.2,302.6 247.7,296.5 248.2,290.2 248.7,284.1 249.2,278.4 249.7,273.8 250.2,270.5 250.7,269.0 251.2,269.2 251.7,270.1 252.2,271.5 252.7,273.3 253.2,275.3 253.7,277.5 254.2,279.6 254.7,281.6 255.2,283.3 255.7,284.6 256.2,285.9 256.7,287.3 257.2,288.6 257.7,289.8 258.2,290.9 258.7,291.7 259.2,292.3 259.7,292.5 260.2,292.1 260.7,290.9 261.2,289.0 261.7,286.7 262.2,283.9 262.7,280.8 263.2,277.5 263.7,274.2 264.2,270.8 264.7,266.7 265.2,261.8 265.7,256.4 266.2,250.5 266.7,244.2 267.2,237.7 267.7,230.9 268.2,224.0 268.7,217.1 269.2,210.4 269.7,203.8 270.2,197.5 270.7,190.7 271.2,183.5 271.7,176.0 272.2,168.5 272.7,161.2 273.2,154.2 273.7,147.8 274.2,142.1 274.7,137.3 275.2,133.6 275.7,130.0 276.2,126.6 276.7,123.5 277.2,120.8 277.7,118.8 278.2,117.7 278.7,117.5 279.2,117.9 279.7,118.8 280.2,119.9 280.7,121.4 281.2,123.1 281.7,125.0 282.2,127.1 282.7,129.3 283.2,131.5 283.7,133.7 284.2,135.9 284.7,138.4 285.2,141.3 285.7,144.4 286.2,147.9 286.7,151.4 287.2,155.1 287.7,158.9 288.2,162.6 288.7,166.3 289.2,169.8 289.7,173.1 290.2,176.2 290.7,179.3 291.2,182.4 291.7,185.5 292.2,188.5 292.7,191.5 293.2,194.4 293.7,197.3 294.2,200.0 294.7,202.7 295.2,205.1 295.7,207.5 296.2,209.7 296.7,211.8 297.2,213.8 297.7,215.8 298.2,217.8 298.7,219.6 299.2,221.4 299.7,223.1 300.2,224.6 300.7,226.1 301.2,227.4 301.7,228.5 302.2,229.6 302.7,230.5 303.2,231.4 303.7,232.1 304.2,232.9 304.7,233.6 305.2,234.3 305.7,235.0 306.2,235.6 306.7,236.4 307.2,237.1 307.7,238.0 308.2,238.9 308.7,239.9 309.2,241.1 309.7,242.4 310.2,243.7 310.7,245.2 311.2,246.7 311.7,248.3 312.2,249.8 312.7,251.4 313.2,252.9 313.7,254.4 314.2,255.8 314.7,257.1 315.2,258.3 315.7,259.4 316.2,260.5 316.7,261.6 317.2,262.8 317.7,263.9 318.2,265.0 318.7,266.1 319.2,267.1 319.7,268.1 320.2,269.0 320.7,269.8 321.2,270.5 321.7,271.1 322.2,271.6 322.7,271.9 323.2,272.0 323.7,272.0 324.2,271.8 324.7,271.5 325.2,271.1 325.7,270.6 326.2,270.0 326.7,269.4 327.2,268.6 327.7,267.8 328.2,267.0 328.7,266.1 329.2,265.2 329.7,264.2 330.2,262.9 330.7,261.3 331.2,259.5 331.7,257.3 332.2,254.9 332.7,252.3 333.2,249.5 333.7,246.6 334.2,243.5 334.7,240.3 335.2,237.1 335.7,233.8 336.2,230.4 336.7,227.1 337.2,223.8 337.7,220.6 338.2,217.4 338.7,213.9 339.2,210.2 339.7,206.3 340.2,202.3 340.7,198.2 341.2,194.0 341.7,189.8 342.2,185.5 342.7,181.3 343.2,177.2 343.7,173.2 344.2,169.3 344.7,165.5 345.2,162.0 345.7,158.8 346.2,155.8 346.7,152.9 347.2,149.8 347.7,146.6 348.2,143.6 348.7,140.7 349.2,138.2 349.7,136.1 350.2,134.5 350.7,133.7 351.2,133.5 351.7,133.7 352.2,134.1 352.7,134.6 353.2,135.3 353.7,136.1 354.2,137.0 354.7,138.0 355.2,139.2 355.7,140.3 356.2,141.6 356.7,142.8 357.2,144.1 357.7,145.4 358.2,147.0 358.7,148.9 359.2,150.9 359.7,153.2 360.2,155.7 360.7,158.3 361.2,161.0 361.7,163.7 362.2,166.5 362.7,169.4 363.2,172.2 363.7,174.9 364.2,177.6 364.7,180.2 365.2,183.1 365.7,186.1 366.2,189.1 366.7,192.3 367.2,195.5 367.7,198.6 368.2,201.7 368.7,204.7 369.2,207.6 369.7,210.2 370.2,212.7 370.7,214.9 371.2,216.9 371.7,218.5 372.2,220.2 372.7,221.7 373.2,223.2 373.7,224.6 374.2,226.0 374.7,227.2 375.2,228.3 375.7,229.3 376.2,230.1 376.7,230.9 377.2,231.4 377.7,231.9 378.2,232.3 378.7,232.7 379.2,233.1 379.7,233.4 380.2,233.7 380.7,234.0 381.2,234.3 381.7,234.7 382.2,235.0 382.7,235.5 383.2,235.9 383.7,236.4 384.2,236.9 384.7,237.4 385.2,237.9 385.7,238.4 386.2,239.0 386.7,239.6 387.2,240.2 387.7,240.9 388.2,241.7 388.7,242.5 389.2,243.5 389.7,244.6 390.2,245.9 390.7,247.2 391.2,248.7 391.7,250.2 392.2,251.8 392.7,253.5 393.2,255.2 393.7,256.9 394.2,258.7 394.7,260.5 395.2,262.2 395.7,263.9 396.2,265.6 396.7,267.2 397.2,268.8 397.7,270.5 398.2,272.2 398.7,274.0 399.2,275.8 399.7,277.6 400.2,279.5 400.7,281.3 401.2,283.1 401.7,284.8 402.2,286.6 402.7,288.2 403.2,289.8 403.7,291.3 404.2,292.7 404.7,294.0 405.2,295.2 405.7,296.4 406.2,297.6 406.7,298.8 407.2,300.1 407.7,301.3 408.2,302.4 408.7,303.5 409.2,304.5 409.7,305.3 410.2,306.1 410.7,306.7 411.2,307.2 411.7,307.4 412.2,307.5 412.7,307.5 413.2,307.5 413.7,307.5 414.2,307.5 414.7,307.5 415.2,307.5 415.7,307.5 416.2,307.5 416.7,307.5 417.2,307.5 417.7,307.5 418.2,307.3 418.7,306.9 419.2,306.3 419.7,305.4 420.2,304.4 420.7,303.3 421.2,302.1 421.7,300.8 422.2,299.6 422.7,298.4 423.2,297.3 423.7,296.3 424.2,295.5 424.7,294.9 425.2,294.3 425.7,293.8 426.2,293.2 426.7,292.7 427.2,292.2 427.7,291.7 428.2,291.2 428.7,290.8 429.2,290.4 429.7,290.1 430.2,289.8 430.7,289.6 431.2,289.5 431.7,289.5 432.2,289.6 432.7,289.7 433.2,289.9 433.7,290.1 434.2,290.4 434.7,290.8 435.2,291.2 435.7,291.6 436.2,292.1 436.7,292.6 437.2,293.2 437.7,293.8 438.2,294.5 438.7,295.1 439.2,296.1 439.7,297.4 440.2,298.0 440.7,301.6 441.2,302.9 441.7,305.6 442.2,307.6 442.7,309.3 443.2,312.4 443.7,313.4 444.2,317.9 444.7,320.0 445.2,322.9 445.7,325.9 446.2,329.4 446.7,332.1 447.2,335.6 447.7,342.4 448.2,342.3 448.7,346.1 449.2,349.8 449.7,352.1 450.2,354.5 450.7,357.2 451.2,361.3 451.7,364.0 452.2,368.0 452.7,371.7 453.2,373.1 453.7,377.5 454.2,380.3 454.7,381.6 455.2,384.7 455.7,388.1 456.2,389.4 456.7,391.6 457.2,394.9 457.7,395.8 458.2,397.7 458.7,400.6 459.2,402.2 459.7,404.2 460.2,407.0 460.7,408.8 461.2,408.5 461.7,412.1 462.2,413.0 462.7,414.7 463.2,416.4 463.7,418.3 464.2,418.6 464.7,418.7 465.2,419.7 465.7,418.6 466.2,420.2 466.7,419.9 467.2,418.8 467.7,418.5 468.2,418.4 468.7,418.6 469.2,419.3 469.7,418.6 470.2,418.0 470.7,418.0 471.2,418.8 471.7,417.4 472.2,421.6 472.7,418.6 473.2,416.2 473.7,416.9 474.2,416.9 474.7,416.2 475.2,415.7 475.7,416.6 476.2,415.5 476.7,415.7 477.2,415.0 477.7,415.9 478.2,413.9 478.7,413.4 479.2,413.5 479.7,413.7 480.2,413.4 480.7,413.5 481.2,412.8 481.7,413.4 482.2,411.9 482.7,411.9 483.2,412.4 483.7,412.0 484.2,411.8 484.7,411.9 485.2,411.8 485.7,412.5 486.2,413.0 486.7,413.6 487.2,413.2 487.7,413.0 488.2,413.2 488.7,413.7 489.2,414.0 489.7,416.2 490.2,417.2 490.7,416.3 491.2,416.9 491.7,419.0 492.2,418.3 492.7,420.1 493.2,420.7 493.7,424.3 494.2,425.4 494.7,426.3 495.2,426.2 495.7,429.1 496.2,433.0 496.7,436.6 497.2,435.2 497.7,447.1 498.2,439.4 498.7,441.4 499.2,444.4 499.7,444.8 500.2,447.6 500.7,449.5 501.2,450.4 501.7,452.3 502.2,455.3 502.7,458.1 503.2,461.4 503.7,460.1 504.2,459.6 504.7,463.0 505.2,463.3 505.7,468.0 506.2,469.1 506.7,473.0 507.2,474.6 507.7,477.6 508.2,479.9 508.7,486.1 509.2,484.6 509.7,493.1 510.2,497.4 510.7,501.0 511.2,505.0 511.7,509.7 512.2,513.0 512.7,516.8 513.2,524.7 513.7,529.7" fill="none" stroke="#0000ff" stroke-width="3.5" stroke-linejoin="round" stroke-linecap="round"/>
<polyline points="514.0,529.2 514.8,660.0 515.6,524.9 516.4,660.0 517.2,525.2 518.0,660.0 518.8,527.1 519.6,660.0 520.4,523.9 521.2,660.0 522.0,534.5 522.8,660.0 523.6,524.2 524.4,660.0 525.2,520.4 526.0,660.0 526.8,525.3 527.6,660.0 528.4,530.5 529.2,660.0 530.0,529.1 530.8,660.0" fill="none" stroke="#0000ff" stroke-width="3.5" stroke-linejoin="round" stroke-linecap="round"/>
<polyline points="531.0,541.6 532.0,570.3 533.0,527.4 534.0,550.6 535.0,532.7 536.0,559.3 537.0,533.7 538.0,578.2 539.0,540.6 540.0,566.2 541.0,538.5 542.0,574.3 543.0,535.1 544.0,569.7 545.0,541.6 546.0,568.3 547.0,531.3 548.0,555.7 549.0,521.3 550.0,567.2 551.0,522.5 552.0,551.2 553.0,545.8 554.0,574.0 555.0,536.0 556.0,578.8 557.0,528.2 558.0,575.6 559.0,520.4 560.0,539.5 561.0,530.1 562.0,551.5 563.0,538.3 564.0,560.2 565.0,541.9 566.0,559.5 567.0,528.0 568.0,553.4 569.0,518.5 570.0,568.8 571.0,532.1 572.0,573.9 573.0,535.5 574.0,559.4 575.0,529.4 576.0,575.9 577.0,542.4 578.0,573.9 579.0,524.6 580.0,553.9 581.0,527.2 582.0,573.0 583.0,535.6 584.0,576.5 585.0,539.3 586.0,555.9 587.0,538.2 588.0,567.2 589.0,539.3 590.0,569.2 591.0,540.5 592.0,568.3 593.0,531.7 594.0,552.9 595.0,548.7 596.0,569.8 597.0,544.9 598.0,569.0 599.0,534.5 600.0,574.7 601.0,537.5 602.0,574.1 603.0,525.0 604.0,559.8 605.0,537.5 606.0,571.7 607.0,536.3 608.0,576.0 609.0,538.1 610.0,576.8 611.0,523.2 612.0,554.8 613.0,531.1 614.0,550.8 615.0,533.8 616.0,569.5 617.0,530.6 618.0,556.4 619.0,524.7 620.0,566.9 621.0,537.6 622.0,578.3 623.0,547.4 624.0,561.4 625.0,542.5 626.0,557.6 627.0,527.0 628.0,563.7 629.0,534.1 630.0,568.2 631.0,537.3 632.0,569.7 633.0,535.5 634.0,553.0 635.0,537.4 636.0,561.4 637.0,537.7 638.0,554.0 639.0,524.0 640.0,569.9 641.0,519.9 642.0,574.9 643.0,527.9 644.0,561.3 645.0,537.7 646.0,561.2 647.0,542.5 648.0,566.2 649.0,542.4 650.0,556.5 651.0,530.7 652.0,557.4 653.0,530.2 654.0,559.9 655.0,548.1 656.0,563.7 657.0,527.9 658.0,552.4 659.0,540.2 660.0,572.6 661.0,528.5 662.0,567.4 663.0,532.7 664.0,559.0 665.0,534.9 666.0,552.3 667.0,533.7 668.0,572.9 669.0,523.1 670.0,553.9 671.0,533.6 672.0,554.0 673.0,533.1 674.0,553.9 675.0,532.3 676.0,552.4 677.0,522.5 678.0,577.2 679.0,533.4 680.0,558.1 681.0,527.2 682.0,559.2 683.0,536.7 684.0,575.0 685.0,531.6 686.0,568.6 687.0,541.5 688.0,555.6 689.0,531.6 690.0,563.0 691.0,536.9 692.0,576.5 693.0,537.4 694.0,561.3 695.0,533.9 696.0,571.3 697.0,543.9 698.0,552.9 699.0,529.9 700.0,571.8 701.0,517.6 702.0,573.3 703.0,538.5 704.0,574.8 705.0,533.0 706.0,570.2 707.0,531.4 708.0,561.1 709.0,520.7 710.0,551.9 711.0,539.7 712.0,565.6 713.0,528.2 714.0,572.7 715.0,539.4 716.0,555.7 717.0,532.6 718.0,558.0 719.0,534.8 720.0,566.1 721.0,532.9 722.0,572.4 723.0,535.3 724.0,576.9 725.0,539.8 726.0,553.8 727.0,542.9 728.0,555.5 729.0,537.0 730.0,574.0 731.0,530.8 732.0,569.3 733.0,518.1 734.0,571.6 735.0,540.2 736.0,579.9 737.0,544.5 738.0,578.2 739.0,531.1 740.0,556.6 741.0,518.7 742.0,575.3 743.0,533.7 744.0,573.3 745.0,528.3 746.0,561.9 747.0,527.2 748.0,569.2 749.0,535.2 750.0,555.5 751.0,535.5 752.0,572.8 753.0,530.2 754.0,572.7 755.0,538.5 756.0,571.6 757.0,535.8 758.0,563.3 759.0,530.4 760.0,561.3 761.0,529.3 762.0,562.6 763.0,535.5 764.0,551.0 765.0,546.1 766.0,575.3 767.0,546.0 768.0,566.3 769.0,524.0 770.0,561.6 771.0,533.6 772.0,566.4 773.0,540.5 774.0,571.6 775.0,542.7 776.0,565.8 777.0,540.8 778.0,561.4 779.0,544.4 780.0,574.9 781.0,526.1 782.0,577.6 783.0,539.4 784.0,561.6 785.0,526.3 786.0,554.1 787.0,526.0 788.0,551.3 789.0,533.6 790.0,572.8 791.0,545.6 792.0,579.8 793.0,541.5 794.0,554.4 795.0,543.0 796.0,571.4 797.0,530.1 798.0,574.8 799.0,524.8 800.0,577.6 801.0,526.0 802.0,553.7 803.0,519.8 804.0,552.8 805.0,531.9 806.0,579.6 807.0,534.6 808.0,553.5 809.0,544.7 810.0,555.3 811.0,524.5 812.0,567.2 813.0,530.0 814.0,563.4 815.0,543.1 816.0,572.5 817.0,532.7 818.0,555.7 819.0,515.9 820.0,577.4 821.0,537.6 822.0,556.5 823.0,535.0 824.0,573.1 825.0,519.5 826.0,552.0 827.0,540.1 828.0,564.2 829.0,517.5 830.0,551.0 831.0,537.6 832.0,559.4 833.0,531.8 834.0,559.4 835.0,538.4 836.0,571.6 837.0,537.4 838.0,563.7 839.0,528.1 840.0,551.7 841.0,536.6 842.0,579.9 843.0,537.2 844.0,576.7 845.0,535.1 846.0,577.5 847.0,537.0 848.0,557.4 849.0,541.1 850.0,561.8 851.0,530.8 852.0,556.8 853.0,535.8 854.0,553.7 855.0,541.5 856.0,551.0 857.0,537.8 858.0,565.1 859.0,528.3 860.0,553.7 861.0,526.0 862.0,555.3 863.0,538.3 864.0,575.8 865.0,536.6 866.0,564.5 867.0,538.3 868.0,555.5 869.0,534.6 870.0,570.1 871.0,536.5 872.0,558.0 873.0,515.3 874.0,565.8 875.0,523.8 876.0,558.5 877.0,542.4 878.0,565.5 879.0,539.1 880.0,568.9 881.0,531.3 882.0,566.1 883.0,534.5 884.0,561.9 885.0,529.7 886.0,573.7 887.0,534.4 888.0,576.2 889.0,538.7 890.0,555.4 891.0,535.4 892.0,554.1 893.0,539.2 894.0,553.4 895.0,534.0 895.0,579.4" fill="none" stroke="#0000ff" stroke-width="3.5" stroke-linejoin="round" stroke-linecap="round"/>
<polyline points="114.0,499.0 114.8,660.0 115.6,495.1 116.4,660.0 117.2,498.7 118.0,660.0 118.8,495.6 119.6,660.0 120.4,498.3 121.2,660.0 122.0,500.3 122.8,660.0 123.6,489.6 124.4,660.0 125.2,496.1 126.0,660.0 126.8,498.1 127.6,660.0 128.4,495.8 129.2,660.0 130.0,492.3 130.8,508.7 131.6,495.6 132.4,660.0 133.2,499.1 134.0,660.0 134.8,499.3 135.6,660.0" fill="none" stroke="#00ffff" stroke-width="3.5" stroke-linejoin="round" stroke-linecap="round"/>
<polyline points="139.6,500.0 141.5,421.0 143.3,500.0" fill="none" stroke="#00ffff" stroke-width="3.8" stroke-linejoin="round" stroke-linecap="round"/>
<polyline points="148.5,505.0 150.0,440.0 151.1,414.0 152.5,440.0 154.0,505.0" fill="none" stroke="#00ffff" stroke-width="4.2" stroke-linejoin="round" stroke-linecap="round"/>
<polyline points="144.0,498.0 144.8,660.0 145.6,503.7 146.4,660.0 147.2,501.3 148.0,660.0 148.8,510.8 149.6,660.0 150.4,498.2 151.2,660.0 152.0,505.1 152.8,660.0 153.6,504.2 154.4,660.0 155.2,498.9 156.0,515.0 156.8,504.9 157.6,660.0 158.4,511.8 159.2,660.0 160.0,505.3 160.8,660.0 161.6,511.9 162.4,660.0 163.2,484.2 164.0,660.0 164.8,493.0 165.6,660.0 166.4,509.3 167.2,660.0 168.0,505.3 168.8,660.0 169.6,501.4 170.4,660.0 171.2,497.2 172.0,660.0 172.8,505.1 173.6,660.0 174.4,509.7 175.2,660.0 176.0,503.7 176.8,660.0 177.6,507.3 178.4,660.0 179.2,502.4 180.0,660.0 180.8,496.9 181.6,660.0 182.4,501.6 183.2,660.0 184.0,505.6 184.8,660.0 185.6,510.9 186.4,660.0 187.2,492.5 188.0,660.0 188.8,496.6 189.5,660.0" fill="none" stroke="#00ffff" stroke-width="3.5" stroke-linejoin="round" stroke-linecap="round"/>
<polyline points="192.9,496.9 193.4,497.0 193.9,495.9 194.4,489.6 194.9,486.4 195.4,487.9 195.9,480.8 196.4,478.5 196.9,475.4 197.4,468.5 197.9,464.5 198.4,454.0 198.9,456.6 199.4,452.4 199.9,449.7 200.4,450.1 200.9,447.3 201.4,446.6 201.9,444.4 202.4,452.3 202.9,444.6 203.4,445.1 203.9,447.4 204.4,445.4 204.9,442.3 205.4,448.2 205.9,444.4 206.4,441.2 206.9,439.2 207.4,441.2 207.9,431.5 208.4,431.6 208.9,426.7 209.4,421.8 209.9,423.6 210.4,413.9 210.9,413.3 211.4,406.8 211.9,400.7 212.4,400.5 212.9,398.4 213.4,394.5 213.9,392.0 214.4,383.6 214.9,387.2 215.4,378.8 215.9,378.2 216.4,378.1 216.9,374.8 217.4,370.9 217.9,369.0 218.4,364.9 218.9,364.6 219.4,361.2 219.9,359.6 220.4,357.7 220.9,355.5 221.4,353.4 221.9,353.0 222.4,351.8 222.9,347.4 223.4,351.8 223.9,348.5 224.4,347.9 224.9,348.7 225.4,349.6 225.9,349.1 226.4,349.1 226.9,350.8 227.4,350.5 227.9,354.8 228.4,353.3 228.9,352.8 229.4,351.1 229.9,354.0 230.4,352.3 230.9,353.6 231.4,351.8 231.9,354.9 232.4,352.3 232.9,354.4 233.4,355.7 233.9,353.3 234.4,351.5 234.9,348.9 235.4,347.8 235.9,347.0 236.4,341.6 236.9,344.2 237.4,340.8 237.9,336.9 238.4,336.4 238.9,333.8 239.4,330.0 239.9,328.4 240.4,327.3 240.9,322.6 241.4,319.5 241.9,316.1 242.4,310.3 242.9,305.7 243.4,301.4 243.9,295.5 244.4,290.1 244.9,285.0 245.4,280.7 245.9,272.9 246.4,266.2 246.9,263.7 247.4,256.0 247.9,248.1 248.4,245.7 248.9,241.8 249.4,241.8 249.9,237.5 250.4,236.1 250.9,236.4 251.4,232.5 251.9,232.1 252.4,231.8 252.9,232.3 253.4,232.7 253.9,234.0 254.4,233.0 254.9,235.6 255.4,235.0 255.9,238.5 256.4,240.0 256.9,243.5 257.4,243.6 257.9,244.8 258.4,246.8 258.9,248.3 259.4,250.7 259.9,256.0 260.4,253.9 260.9,253.8 261.4,254.3 261.9,254.6 262.4,251.2 262.9,250.0 263.4,247.5 263.9,248.7 264.4,245.9 264.9,242.1 265.4,239.0 265.9,234.3 266.4,231.6 266.9,225.0 267.4,218.9 267.9,211.6 268.4,201.3 268.9,195.1 269.4,188.9 269.9,182.8 270.4,174.6 270.9,169.8 271.4,163.6 271.9,157.0 272.4,152.9 272.9,145.4 273.4,139.8 273.9,138.0 274.4,133.5 274.9,128.7 275.4,126.8 275.9,122.0 276.4,119.8 276.9,118.1 277.4,116.2 277.9,115.2 278.4,112.8 278.9,115.4 279.4,113.9 279.9,116.0 280.4,120.0 280.9,119.9 281.4,120.1 281.9,122.8 282.4,123.6 282.9,125.5 283.4,127.1 283.9,129.4 284.4,131.8 284.9,134.5 285.4,138.4 285.9,139.0 286.4,141.2 286.9,142.2 287.4,147.3 287.9,148.7 288.4,152.8 288.9,157.6 289.4,158.2 289.9,158.4 290.4,161.1 290.9,163.9 291.4,166.5 291.9,171.6 292.4,172.5 292.9,173.2 293.4,176.9 293.9,180.1 294.4,186.5 294.9,186.0 295.4,189.7 295.9,192.1 296.4,193.9 296.9,193.7 297.4,199.6 297.9,199.9 298.4,200.7 298.9,203.4 299.4,204.3 299.9,206.3 300.4,208.2 300.9,208.1 301.4,208.6 301.9,207.5 302.4,208.3 302.9,207.5 303.4,208.2 303.9,206.1 304.4,205.2 304.9,205.4 305.4,202.3 305.9,202.3 306.4,202.9 306.9,200.8 307.4,200.8 307.9,196.3 308.4,197.1 308.9,196.2 309.4,193.7 309.9,194.4 310.4,191.2 310.9,190.9 311.4,190.9 311.9,190.3 312.4,189.9 312.9,189.8 313.4,191.6 313.9,192.0 314.4,195.5 314.9,195.7 315.4,196.8 315.9,200.5 316.4,202.8 316.9,203.2 317.4,203.8 317.9,204.5 318.4,206.9 318.9,209.9 319.4,211.4 319.9,210.9 320.4,214.4 320.9,214.2 321.4,217.7 321.9,220.0 322.4,219.5 322.9,221.7 323.4,221.4 323.9,222.8 324.4,224.8 324.9,226.0 325.4,225.7 325.9,228.0 326.4,227.5 326.9,225.1 327.4,228.6 327.9,228.6 328.4,225.1 328.9,227.1 329.4,227.3 329.9,226.0 330.4,224.3 330.9,223.1 331.4,222.8 331.9,221.3 332.4,221.0 332.9,219.4 333.4,219.3 333.9,216.2 334.4,215.8 334.9,214.2 335.4,212.1 335.9,210.9 336.4,206.9 336.9,206.0 337.4,205.8 337.9,202.5 338.4,199.7 338.9,198.3 339.4,194.9 339.9,191.6 340.4,190.4 340.9,188.7 341.4,185.0 341.9,183.9 342.4,179.7 342.9,176.4 343.4,172.9 343.9,172.3 344.4,169.6 344.9,163.7 345.4,164.8 345.9,159.2 346.4,158.9 346.9,155.7 347.4,154.5 347.9,151.5 348.4,148.8 348.9,149.2 349.4,146.4 349.9,144.8 350.4,143.2 350.9,143.7 351.4,144.4 351.9,143.3 352.4,146.1 352.9,146.2 353.4,145.7 353.9,147.1 354.4,147.4 354.9,149.4 355.4,149.2 355.9,150.7 356.4,155.2 356.9,154.7 357.4,157.9 357.9,156.7 358.4,159.7 358.9,161.2 359.4,161.6 359.9,165.7 360.4,168.4 360.9,170.8 361.4,174.4 361.9,176.4 362.4,177.0 362.9,179.8 363.4,182.5 363.9,185.0 364.4,187.4 364.9,188.6 365.4,192.4 365.9,194.3 366.4,194.8 366.9,196.7 367.4,199.1 367.9,201.1 368.4,201.7 368.9,202.8 369.4,203.2 369.9,204.7 370.4,206.2 370.9,206.7 371.4,205.2 371.9,207.8 372.4,208.5 372.9,206.6 373.4,210.3 373.9,206.9 374.4,205.5 374.9,207.4 375.4,205.3 375.9,204.3 376.4,205.7 376.9,204.5 377.4,202.0 377.9,200.7 378.4,200.3 378.9,199.5 379.4,199.0 379.9,194.8 380.4,198.4 380.9,195.4 381.4,190.1 381.9,188.3 382.4,188.2 382.9,182.0 383.4,181.6 383.9,178.3 384.4,176.2 384.9,179.4 385.4,175.8 385.9,176.7 386.4,172.9 386.9,175.4 387.4,172.6 387.9,172.4 388.4,171.0 388.9,169.5 389.4,173.0 389.9,172.2 390.4,174.0 390.9,174.2 391.4,172.4 391.9,175.5 392.4,177.2 392.9,178.3 393.4,179.5 393.9,180.4 394.4,180.3 394.9,182.7 395.4,186.0 395.9,186.0 396.4,187.9 396.9,189.6 397.4,194.5 397.9,192.1 398.4,193.0 398.9,198.5 399.4,198.9 399.9,202.1 400.4,203.6 400.9,206.6 401.4,207.7 401.9,210.0 402.4,216.0 402.9,217.3 403.4,216.4 403.9,219.7 404.4,224.4 404.9,224.9 405.4,225.2 405.9,229.4 406.4,231.8 406.9,231.8 407.4,234.2 407.9,237.0 408.4,239.0 408.9,241.7 409.4,240.4 409.9,240.8 410.4,244.3 410.9,244.8 411.4,246.1 411.9,245.8 412.4,247.5 412.9,248.3 413.4,249.8 413.9,251.7 414.4,257.0 414.9,256.7 415.4,257.1 415.9,253.9 416.4,253.7 416.9,260.8 417.4,256.1 417.9,261.5 418.4,260.9 418.9,260.0 419.4,259.2 419.9,265.0 420.4,265.2 420.9,263.2 421.4,263.4 421.9,267.3 422.4,263.6 422.9,264.9 423.4,261.2 423.9,264.1 424.4,264.9 424.9,266.6 425.4,268.3 425.9,266.2 426.4,269.3 426.9,271.1 427.4,268.2 427.9,270.2 428.4,271.8 428.9,267.9 429.4,275.0 429.9,271.6 430.4,273.9 430.9,270.4 431.4,276.7 431.9,277.6 432.4,277.0 432.9,276.1 433.4,280.4 433.9,276.6 434.4,283.3 434.9,284.3 435.4,285.4 435.9,287.8 436.4,285.4 436.9,287.8 437.4,290.1 437.9,290.8 438.4,288.5 438.9,291.5 439.4,292.1 439.9,295.4 440.4,296.7 440.9,300.3 441.4,301.5 441.9,304.0 442.4,305.4 442.9,308.1 443.4,308.3 443.9,315.7 444.4,311.0 444.9,305.8 445.4,317.3 445.9,311.9 446.4,316.3 446.9,323.0 447.4,318.8 447.9,324.7 448.4,324.1 448.9,324.7 449.4,324.0 449.9,331.8 450.4,331.1 450.9,330.0 451.4,330.1 451.9,327.2 452.4,333.9 452.9,334.3 453.4,333.5 453.9,343.4 454.4,340.0 454.9,338.7 455.4,346.9 455.9,339.4 456.4,342.6 456.9,344.5 457.4,345.5 457.9,349.0 458.4,345.6 458.9,346.0 459.4,354.1 459.9,350.5 460.4,352.9 460.9,354.5 461.4,356.4 461.9,356.2 462.4,353.4 462.9,356.1 463.4,357.9 463.9,360.2 464.4,363.2 464.9,357.8 465.4,361.9 465.9,362.0 466.4,369.5 466.9,357.7 467.4,360.1 467.9,363.0 468.4,362.0 468.9,363.3 469.4,364.1 469.9,366.6 470.4,366.8 470.9,362.3 471.4,365.5 471.9,371.8 472.4,370.0 472.9,366.8 473.4,363.2 473.9,373.2 474.4,373.0 474.9,367.8 475.4,368.5 475.9,372.6 476.4,374.1 476.9,374.7 477.4,372.2 477.9,370.8 478.4,372.0 478.9,371.0 479.4,374.1 479.9,385.6 480.4,372.0 480.9,370.8 481.4,374.1 481.9,384.2 482.4,371.7 482.9,383.9 483.4,373.8 483.9,373.3 484.4,382.4 484.9,382.7 485.4,377.4 485.9,380.3 486.4,385.6 486.9,383.5 487.4,387.1 487.9,382.6 488.4,389.5 488.9,390.8 489.4,389.7 489.9,386.3 490.4,387.7 490.9,393.7 491.4,394.4 491.9,394.4 492.4,402.2 492.9,394.6 493.4,403.0 493.9,406.6 494.4,402.3 494.9,405.4 495.4,403.9 495.9,409.0 496.4,407.5 496.9,408.0 497.4,410.9 497.9,410.2 498.4,413.4 498.9,417.1 499.4,414.1 499.9,420.8 500.4,419.2 500.9,423.7 501.4,420.3 501.9,421.6 502.4,429.0 502.9,427.6 503.4,432.1 503.9,438.2 504.4,437.6 504.9,435.2 505.4,444.4 505.9,443.3 506.4,435.4 506.9,452.1 507.4,444.0 507.9,450.6 508.4,447.3 508.9,454.5 509.4,460.8 509.9,465.1 510.4,457.1 510.9,465.4 511.4,464.0 511.9,468.4 512.4,468.4 512.9,470.1 513.4,467.0 513.9,475.8 514.4,469.9 514.9,477.6 515.4,482.0 515.9,480.6 516.4,484.3 516.9,487.4 517.4,487.5 517.9,485.1 518.4,485.6 518.9,489.5 519.4,487.6 519.9,487.0 520.4,485.6 520.9,488.4 521.4,489.2 521.9,487.6 522.4,492.1 522.9,492.6 523.4,487.8 523.9,489.2 524.4,496.6 524.9,498.1 525.4,499.7 525.9,497.9 526.4,498.0 526.9,496.2 527.4,501.1 527.9,496.1 528.4,494.9 528.9,502.6 529.4,502.9 529.9,509.0 530.4,502.0 530.9,503.3 531.4,503.9 531.9,503.9 532.4,510.5 532.9,510.2 533.4,512.6 533.9,508.2 534.4,511.2 534.9,515.1 535.4,510.2 535.9,508.6 536.4,505.2 536.9,514.6 537.4,513.2 537.9,507.9 538.4,515.1 538.9,519.5" fill="none" stroke="#00ffff" stroke-width="4.3" stroke-linejoin="round" stroke-linecap="round"/>
<polyline points="531.0,505.6 531.6,660.0 532.3,515.1 532.9,660.0 533.6,515.3 534.2,537.3 534.9,499.5 535.5,660.0 536.2,520.3 536.8,660.0 537.5,524.9 538.1,660.0 538.8,516.5 539.4,660.0 540.1,533.0 540.7,660.0 541.4,525.9 542.0,660.0 542.7,516.3 543.3,660.0 544.0,513.9 544.6,660.0 545.3,516.7 545.9,660.0 546.6,524.7 547.2,660.0 547.9,515.5 548.5,660.0 549.2,525.1 549.8,660.0 550.5,524.4 551.1,660.0 551.8,529.8 552.4,660.0 553.1,530.2 553.7,660.0 554.4,532.6 555.0,660.0 555.7,536.2 556.3,660.0 557.0,535.9 557.6,660.0 558.3,534.4 558.9,549.3 559.6,539.4 560.2,660.0 560.9,531.5 561.5,660.0 562.2,528.9 562.8,660.0 563.5,542.0 564.1,660.0 564.8,538.9 565.4,660.0 566.1,530.9 566.7,560.9 567.4,536.1 568.0,660.0 568.7,542.0 569.3,660.0 570.0,530.6 570.6,660.0 571.3,549.3 571.9,660.0 572.6,536.1 573.2,660.0 573.9,547.2 574.5,660.0 575.2,533.9 575.8,660.0 576.5,547.5 577.1,660.0 577.8,545.5 578.4,660.0 579.1,515.1 579.7,660.0 580.4,531.0 581.0,660.0 581.7,529.0 582.3,660.0 583.0,538.4 583.6,660.0 584.3,532.7 584.9,660.0 585.6,537.0 586.2,660.0 586.9,532.9 587.5,660.0 588.2,539.3 588.8,660.0 589.5,539.7 590.1,660.0 590.8,542.5 591.4,660.0 592.1,539.5 592.7,660.0 593.4,543.9 594.0,660.0 594.7,534.3 595.3,660.0 596.0,531.7 596.6,660.0 597.3,542.2 597.9,660.0 598.6,544.6 599.2,660.0 599.9,538.3 600.5,660.0 601.2,528.7 601.8,660.0 602.5,534.1 603.1,660.0 603.8,532.4 604.4,660.0 605.1,548.3 605.7,660.0 606.4,540.3 607.0,660.0 607.7,531.9 608.3,660.0 609.0,541.1 609.6,660.0 610.3,538.8 610.9,660.0 611.6,542.4 612.2,660.0 612.9,531.9 613.5,660.0 614.2,539.8 614.8,660.0 615.5,534.5 616.1,660.0 616.8,540.3 617.4,660.0 618.1,531.3 618.7,660.0 619.4,531.2 620.0,660.0 620.7,537.3 621.3,660.0 622.0,543.7 622.6,660.0 623.3,527.5 623.9,660.0 624.6,526.4 625.2,660.0 625.9,528.9 626.5,660.0 627.2,540.5 627.8,660.0 628.5,531.3 629.1,660.0 629.8,522.6 630.4,660.0 631.1,538.0 631.7,660.0 632.4,540.3 633.0,660.0 633.7,531.4 634.3,660.0 635.0,521.0 635.6,660.0 636.3,544.9 636.9,660.0 637.6,537.6 638.2,660.0 638.9,541.5 639.5,660.0 640.2,544.4 640.8,568.0 641.5,543.3 642.1,660.0 642.8,535.8 643.4,660.0 644.1,535.0 644.7,660.0 645.4,533.4 646.0,660.0 646.7,544.0 647.3,660.0 648.0,543.4 648.6,660.0 649.3,534.2 649.9,660.0 650.6,527.0 651.2,660.0 651.9,541.6 652.5,660.0 653.2,536.8 653.8,660.0 654.5,533.3 655.1,660.0 655.8,540.7 656.4,660.0 657.1,538.0 657.7,660.0 658.4,537.6 659.0,660.0 659.7,537.9 660.3,660.0 661.0,538.4 661.6,660.0 662.3,541.9 662.9,660.0 663.6,541.8 664.2,660.0 664.9,521.7 665.5,660.0 666.2,542.9 666.8,660.0 667.5,533.1 668.1,660.0 668.8,528.4 669.4,660.0 670.1,527.3 670.7,660.0 671.4,538.0 672.0,660.0 672.7,536.6 673.3,660.0 674.0,542.7 674.6,660.0 675.3,527.4 675.9,660.0 676.6,521.4 677.2,660.0 677.9,531.3 678.5,660.0 679.2,535.9 679.8,660.0 680.5,539.3 681.1,660.0 681.8,536.8 682.4,660.0 683.1,532.6 683.7,660.0 684.4,538.6 685.0,660.0 685.7,541.6 686.3,660.0 687.0,541.2 687.6,660.0 688.3,537.6 688.9,660.0 689.6,547.5 690.2,660.0 690.9,539.0 691.5,660.0 692.2,543.2 692.8,660.0 693.5,528.0 694.1,660.0 694.8,534.0 695.4,550.2 696.1,526.2 696.7,660.0 697.4,533.2 698.0,660.0 698.7,541.1 699.3,660.0 700.0,534.1 700.6,660.0 701.3,541.0 701.9,660.0 702.6,543.6 703.2,573.8 703.9,534.1 704.5,660.0 705.2,521.2 705.8,660.0 706.5,535.3 707.1,660.0 707.8,535.7 708.4,660.0 709.1,533.1 709.7,660.0 710.4,534.8 711.0,660.0 711.7,538.2 712.3,557.2 713.0,534.6 713.6,660.0 714.3,536.0 714.9,660.0 715.6,538.4 716.2,660.0 716.9,546.8 717.5,660.0 718.2,547.5 718.8,660.0 719.5,532.7 720.1,660.0 720.8,543.5 721.4,660.0 722.1,524.2 722.7,660.0 723.4,532.4 724.0,660.0 724.7,530.1 725.3,660.0 726.0,540.9 726.6,660.0 727.3,534.2 727.9,660.0 728.6,540.6 729.2,660.0 729.9,536.1 730.5,660.0 731.2,540.5 731.8,660.0 732.5,532.5 733.1,660.0 733.8,535.6 734.4,660.0 735.1,543.1 735.7,660.0 736.4,528.9 737.0,660.0 737.7,535.5 738.3,660.0 739.0,548.1 739.6,660.0 740.3,541.2 740.9,660.0 741.6,533.7 742.2,660.0 742.9,544.2 743.5,660.0 744.2,531.0 744.8,660.0 745.5,548.8 746.1,660.0 746.8,537.9 747.4,660.0 748.1,538.0 748.7,660.0 749.4,549.1 750.0,660.0 750.7,520.1 751.3,660.0 752.0,544.6 752.6,660.0 753.3,526.6 753.9,559.1 754.6,530.7 755.2,660.0 755.9,537.1 756.5,660.0 757.2,544.4 757.8,660.0 758.5,534.1 759.1,660.0 759.8,537.0 760.4,660.0 761.1,540.5 761.7,660.0 762.4,536.4 763.0,660.0 763.7,545.7 764.3,660.0 765.0,535.4 765.6,660.0 766.3,540.6 766.9,660.0 767.6,527.1 768.2,660.0 768.9,532.8 769.5,660.0 770.2,542.6 770.8,660.0 771.5,534.5 772.1,660.0 772.8,537.0 773.4,660.0 774.1,540.8 774.7,557.5 775.4,524.0 776.0,660.0 776.7,533.1 777.3,660.0 778.0,542.6 778.6,660.0 779.3,537.3 779.9,660.0 780.6,550.1 781.2,660.0 781.9,536.8 782.5,660.0 783.2,533.8 783.8,660.0 784.5,532.2 785.1,660.0 785.8,526.6 786.4,660.0 787.1,541.9 787.7,660.0 788.4,523.7 789.0,660.0 789.7,538.0 790.3,660.0 791.0,531.4 791.6,660.0 792.3,538.4 792.9,660.0 793.6,534.9 794.2,660.0 794.9,522.9 795.5,660.0 796.2,541.1 796.8,562.5 797.5,544.8 798.1,660.0 798.8,531.9 799.4,660.0 800.1,529.2 800.7,660.0 801.4,533.1 802.0,660.0 802.7,534.8 803.3,660.0 804.0,540.7 804.6,555.1 805.3,534.8 805.9,660.0 806.6,531.1 807.2,660.0 807.9,533.6 808.5,660.0 809.2,532.6 809.8,660.0 810.5,541.6 811.1,660.0 811.8,542.3 812.4,660.0 813.1,534.6 813.7,660.0 814.4,530.0 815.0,660.0 815.7,536.5 816.3,660.0 817.0,552.1 817.6,660.0 818.3,537.2 818.9,660.0 819.6,541.5 820.2,660.0 820.9,538.8 821.5,660.0 822.2,539.1 822.8,660.0 823.5,535.1 824.1,660.0 824.8,548.5 825.4,660.0 826.1,527.2 826.7,539.9 827.4,534.6 828.0,660.0 828.7,533.0 829.3,660.0 830.0,544.3 830.6,660.0 831.3,535.8 831.9,660.0 832.6,539.4 833.2,660.0 833.9,540.0 834.5,660.0 835.2,529.5 835.8,660.0 836.5,544.5 837.1,660.0 837.8,535.6 838.4,660.0 839.1,536.2 839.7,660.0 840.4,541.9 841.0,660.0 841.7,540.8 842.3,660.0 843.0,539.9 843.6,660.0 844.3,537.7 844.9,660.0 845.6,539.5 846.2,660.0 846.9,539.9 847.5,660.0 848.2,537.9 848.8,660.0 849.5,535.8 850.1,660.0 850.8,523.4 851.4,660.0 852.1,542.7 852.7,660.0 853.4,533.0 854.0,660.0 854.7,532.2 855.3,660.0 856.0,540.9 856.6,660.0 857.3,532.3 857.9,660.0 858.6,535.3 859.2,660.0 859.9,541.7 860.5,660.0 861.2,534.4 861.8,560.0 862.5,538.9 863.1,660.0 863.8,538.7 864.4,660.0 865.1,534.3 865.7,660.0 866.4,539.6 867.0,660.0 867.7,536.4 868.3,660.0 869.0,539.4 869.6,660.0 870.3,540.6 870.9,660.0 871.6,541.9 872.2,660.0 872.9,533.8 873.5,660.0 874.2,538.1 874.8,660.0 875.5,534.3 876.1,660.0 876.8,542.2 877.4,660.0 878.1,540.9 878.7,660.0 879.4,552.7 880.0,660.0 880.7,542.5 881.3,660.0 882.0,535.7 882.6,660.0 883.3,541.7 883.9,660.0 884.6,549.3 885.2,660.0 885.9,533.6 886.5,660.0 887.2,549.1 887.8,660.0 888.5,532.7 889.1,660.0 889.8,535.6 890.4,660.0 891.1,539.0 891.7,660.0 892.4,538.5 893.0,560.7 893.7,537.4 894.3,660.0 895.0,535.4 895.6,660.0" fill="none" stroke="#00ffff" stroke-width="3.5" stroke-linejoin="round" stroke-linecap="round"/></g>
<g clip-path="url(#cb)"><polyline points="1122.3,640.0 1122.8,607.6 1123.3,580.0 1123.8,563.7 1124.3,552.0 1124.8,541.9 1125.3,533.4 1125.8,526.1 1126.3,519.7 1126.8,514.1 1127.3,509.0 1127.8,504.0 1128.3,499.1 1128.8,494.2 1129.3,489.5 1129.8,485.1 1130.3,481.1 1130.8,477.6 1131.3,474.7 1131.8,472.6 1132.3,471.3 1132.8,471.0 1133.3,471.3 1133.8,471.9 1134.3,472.7 1134.8,473.8 1135.3,475.0 1135.8,476.3 1136.3,477.5 1136.8,478.7 1137.3,480.1 1137.8,481.5 1138.3,483.1 1138.8,484.8 1139.3,486.7 1139.8,488.8 1140.3,491.1 1140.8,493.7 1141.3,496.5 1141.8,499.6 1142.3,503.1 1142.8,507.1 1143.3,511.5 1143.8,516.4 1144.3,522.0 1144.8,528.2 1145.3,535.0 1145.8,544.8 1146.3,563.1 1146.8,583.4 1147.3,598.1 1147.8,600.5 1148.3,595.9 1148.8,588.5 1149.3,580.6 1149.8,573.6 1150.3,566.1 1150.8,558.2 1151.3,550.1 1151.8,541.7 1152.3,533.4 1152.8,525.2 1153.3,517.3 1153.8,509.7 1154.3,502.5 1154.8,495.5 1155.3,488.6 1155.8,481.7 1156.3,474.5 1156.8,467.1 1157.3,459.3 1157.8,450.9 1158.3,441.9 1158.8,431.8 1159.3,420.4 1159.8,407.9 1160.3,394.8 1160.8,381.4 1161.3,368.0 1161.8,355.0 1162.3,342.6 1162.8,330.1 1163.3,317.7 1163.8,305.3 1164.3,293.0 1164.8,281.0 1165.3,269.2 1165.8,257.7 1166.3,246.2 1166.8,234.5 1167.3,223.0 1167.8,212.1 1168.3,202.1 1168.8,193.2 1169.3,185.4 1169.8,177.6 1170.3,170.1 1170.8,163.2 1171.3,157.4 1171.8,152.9 1172.3,150.3 1172.8,149.1 1173.3,148.1 1173.8,147.3 1174.3,146.7 1174.8,146.2 1175.3,146.0 1175.8,146.1 1176.3,146.4 1176.8,147.0 1177.3,147.9 1177.8,149.0 1178.3,150.2 1178.8,151.6 1179.3,153.0 1179.8,154.9 1180.3,157.7 1180.8,161.2 1181.3,165.3 1181.8,169.9 1182.3,174.9 1182.8,180.1 1183.3,185.4 1183.8,190.7 1184.3,195.9 1184.8,200.9 1185.3,206.1 1185.8,211.4 1186.3,216.9 1186.8,222.6 1187.3,228.5 1187.8,234.5 1188.3,240.6 1188.8,247.0 1189.3,253.4 1189.8,260.0 1190.3,267.0 1190.8,274.5 1191.3,282.4 1191.8,290.6 1192.3,299.0 1192.8,307.5 1193.3,315.9 1193.8,324.1 1194.3,331.9 1194.8,339.3 1195.3,346.2 1195.8,352.4 1196.3,358.2 1196.8,363.8 1197.3,369.1 1197.8,374.2 1198.3,379.1 1198.8,383.9 1199.3,388.6 1199.8,393.2 1200.3,397.8 1200.8,402.6 1201.3,407.4 1201.8,411.9 1202.3,415.9 1202.8,419.0 1203.3,421.3 1203.8,423.5 1204.3,425.4 1204.8,427.1 1205.3,428.3 1205.8,428.9 1206.3,428.9 1206.8,428.1 1207.3,426.8 1207.8,425.1 1208.3,423.1 1208.8,420.9 1209.3,418.5 1209.8,415.2 1210.3,411.2 1210.8,406.7 1211.3,401.9 1211.8,397.0 1212.3,392.0 1212.8,386.6 1213.3,380.9 1213.8,374.8 1214.3,368.6 1214.8,362.4 1215.3,356.1 1215.8,350.0 1216.3,343.7 1216.8,337.1 1217.3,330.3 1217.8,323.4 1218.3,316.5 1218.8,309.7 1219.3,303.3 1219.8,297.3 1220.3,291.9 1220.8,287.2 1221.3,283.3 1221.8,279.6 1222.3,276.0 1222.8,272.7 1223.3,269.7 1223.8,267.1 1224.3,265.0 1224.8,263.4 1225.3,262.4 1225.8,261.5 1226.3,260.7 1226.8,260.0 1227.3,259.4 1227.8,258.9 1228.3,258.6 1228.8,258.5 1229.3,258.8 1229.8,259.7 1230.3,261.1 1230.8,262.9 1231.3,264.9 1231.8,267.1 1232.3,269.5 1232.8,272.8 1233.3,276.8 1233.8,281.6 1234.3,287.0 1234.8,292.8 1235.3,299.5 1235.8,308.1 1236.3,318.2 1236.8,329.1 1237.3,339.9 1237.8,350.0 1238.3,359.4 1238.8,368.8 1239.3,378.0 1239.8,387.2 1240.3,396.4 1240.8,405.4 1241.3,414.1 1241.8,422.7 1242.3,431.3 1242.8,440.2 1243.3,449.5 1243.8,459.5 1244.3,470.6 1244.8,482.2 1245.3,494.1 1245.8,505.6 1246.3,516.9 1246.8,528.9 1247.3,549.9 1247.8,552.9 1248.3,546.7 1248.8,553.4 1249.3,572.1 1249.8,561.7 1250.3,562.9 1250.8,566.6 1251.3,569.2 1251.8,581.6 1252.3,579.6 1252.8,577.7" fill="none" stroke="#000000" stroke-width="3.5" stroke-linejoin="round" stroke-linecap="round"/>
<polyline points="1252.5,554.9 1253.3,660.0 1254.1,567.4 1254.9,660.0 1255.7,575.6 1256.5,660.0 1257.3,576.9 1258.1,660.0 1258.9,566.8 1259.7,660.0 1260.5,574.0 1261.3,660.0 1262.1,576.2 1262.9,660.0 1263.7,576.1 1264.5,660.0 1265.3,576.9 1266.1,660.0 1266.9,577.1 1267.7,660.0 1268.5,580.8 1269.3,660.0 1270.1,583.6 1270.9,660.0 1271.7,575.1 1272.5,660.0 1273.3,568.8 1274.1,660.0 1274.9,579.5 1275.7,660.0 1276.5,587.3 1277.3,660.0 1278.1,586.4 1278.9,660.0 1279.7,582.8 1280.5,660.0 1281.3,587.4 1282.1,660.0 1282.9,588.9 1283.7,660.0 1284.5,588.0 1285.3,660.0 1286.1,593.0 1286.9,660.0 1287.7,597.4 1288.5,660.0 1289.3,587.4 1290.1,660.0 1290.9,599.3 1291.7,660.0 1292.5,593.1 1293.3,660.0 1294.1,591.0 1294.9,660.0 1295.7,596.0 1296.5,660.0 1297.3,598.3 1298.1,660.0 1298.9,592.7 1299.7,660.0 1300.5,597.6 1301.3,660.0 1302.1,582.9 1302.9,660.0 1303.7,592.6 1304.5,626.4 1305.3,591.9 1306.1,660.0 1306.9,600.6 1307.7,660.0 1308.5,596.1 1309.3,626.7 1310.1,598.5 1310.9,660.0 1311.7,600.1 1312.5,660.0 1313.3,599.3 1314.1,660.0 1314.9,596.6 1315.7,660.0 1316.5,606.8 1317.3,660.0 1318.1,599.8 1318.9,660.0 1319.7,598.1 1320.5,660.0 1321.3,593.0 1322.1,626.0 1322.9,598.3 1323.7,660.0 1324.5,589.3 1325.3,660.0 1326.1,606.0 1326.9,660.0 1327.7,598.8 1328.5,660.0 1329.3,598.3 1330.1,660.0 1330.9,601.5 1331.7,660.0 1332.5,601.0 1333.3,660.0 1334.1,604.5 1334.9,660.0 1335.7,606.2 1336.5,660.0 1337.3,582.3 1338.1,660.0 1338.9,592.7 1339.7,660.0 1340.5,596.0 1341.3,660.0 1342.1,593.2 1342.9,660.0 1343.7,602.0 1344.5,660.0 1345.3,598.7 1346.1,660.0 1346.9,597.8 1347.7,660.0 1348.5,603.9 1349.3,660.0 1350.1,603.7 1350.9,660.0 1351.7,601.9 1352.5,660.0 1353.3,601.3 1354.1,660.0 1354.9,583.9 1355.7,660.0 1356.5,589.9 1357.3,660.0 1358.1,606.9 1358.9,660.0 1359.7,590.8 1360.5,660.0 1361.3,599.0 1362.1,660.0 1362.9,602.9 1363.7,660.0 1364.5,604.5 1365.3,660.0 1366.1,596.1 1366.9,660.0 1367.7,604.3 1368.5,660.0 1369.3,596.4 1370.1,660.0 1370.9,598.8 1371.7,660.0 1372.5,604.0 1373.3,660.0 1374.1,605.6 1374.9,660.0 1375.7,601.3 1376.5,660.0 1377.3,591.3 1378.1,660.0 1378.9,602.1 1379.7,660.0 1380.5,599.6 1381.3,660.0 1382.1,605.5 1382.9,660.0 1383.7,589.4 1384.5,660.0 1385.3,604.0 1386.1,660.0 1386.9,604.0 1387.7,660.0 1388.5,600.9 1389.3,660.0 1390.1,604.1 1390.9,660.0 1391.7,593.5 1392.5,660.0 1393.3,607.1 1394.1,660.0 1394.9,604.5 1395.7,660.0 1396.5,601.7 1397.3,660.0 1398.1,601.0 1398.9,660.0 1399.7,596.5 1400.5,660.0 1401.3,603.3 1402.1,660.0 1402.9,608.2 1403.7,636.5 1404.5,604.1 1405.3,660.0 1406.1,595.0 1406.9,660.0 1407.7,601.4 1408.5,660.0 1409.3,601.1 1410.1,660.0 1410.9,600.7 1411.7,660.0 1412.5,606.4 1413.3,660.0 1414.1,603.6 1414.9,660.0 1415.7,594.4 1416.5,660.0 1417.3,604.7 1418.1,660.0 1418.9,608.9 1419.7,660.0 1420.5,607.6 1421.3,660.0 1422.1,595.0 1422.9,660.0 1423.7,595.4 1424.5,660.0 1425.3,599.0 1426.1,660.0 1426.9,598.9 1427.7,613.1 1428.5,605.0 1429.3,660.0 1430.1,607.4 1430.9,660.0 1431.7,607.7 1432.5,660.0 1433.3,602.2 1434.1,660.0 1434.9,604.3 1435.7,660.0 1436.5,589.5 1437.3,660.0 1438.1,598.9 1438.9,660.0 1439.7,605.3 1440.5,660.0 1441.3,591.2 1442.1,660.0 1442.9,599.1 1443.7,660.0 1444.5,602.8 1445.3,660.0 1446.1,608.5 1446.9,660.0 1447.7,603.7 1448.5,660.0 1449.3,602.7 1450.1,660.0 1450.9,607.4 1451.7,660.0 1452.5,601.1 1453.3,660.0 1454.1,587.0 1454.9,660.0 1455.7,594.1 1456.5,660.0 1457.3,601.5 1458.1,660.0 1458.9,601.6 1459.7,660.0 1460.5,599.0 1461.3,660.0 1462.1,604.4 1462.9,660.0 1463.7,606.3 1464.5,660.0 1465.3,610.7 1466.1,660.0 1466.9,592.2 1467.7,660.0 1468.5,608.8 1469.3,660.0 1470.1,603.9 1470.9,660.0 1471.7,601.1 1472.5,660.0 1473.3,605.9 1474.1,660.0 1474.9,607.7 1475.7,660.0 1476.5,608.3 1477.3,660.0 1478.1,598.0 1478.9,660.0 1479.7,596.5 1480.5,660.0 1481.3,599.2 1482.1,660.0 1482.9,605.5 1483.7,660.0 1484.5,608.0 1485.3,660.0 1486.1,607.2 1486.9,660.0 1487.7,598.6 1488.5,660.0 1489.3,601.8 1490.1,660.0 1490.9,609.6 1491.7,660.0 1492.5,607.7 1493.3,660.0 1494.1,606.2 1494.9,660.0 1495.7,603.8 1496.5,660.0 1497.3,607.0 1498.1,660.0 1498.9,598.1 1499.7,660.0 1500.5,594.2 1501.3,660.0 1502.1,610.9 1502.9,660.0 1503.7,610.3 1504.5,631.6 1505.3,598.8 1506.1,660.0 1506.9,608.0 1507.7,660.0 1508.5,608.3 1509.3,660.0 1510.1,602.3 1510.9,660.0 1511.7,598.7 1512.5,660.0 1513.3,613.6 1514.1,660.0 1514.9,601.1 1515.7,660.0 1516.5,602.3 1517.3,660.0 1518.1,607.1 1518.9,660.0 1519.7,606.4 1520.5,660.0 1521.3,597.6 1522.1,660.0 1522.9,600.4 1523.7,630.9 1524.5,609.2 1525.3,660.0 1526.1,603.9 1526.9,660.0 1527.7,602.4 1528.5,660.0 1529.3,606.6 1530.1,660.0 1530.9,594.6 1531.7,660.0 1532.5,596.2 1533.3,660.0 1534.1,598.6 1534.9,660.0 1535.7,597.3 1536.5,660.0 1537.3,595.0 1538.1,660.0 1538.9,609.0 1539.7,660.0 1540.5,604.4 1541.3,660.0 1542.1,603.9 1542.9,660.0 1543.7,595.3 1544.5,660.0 1545.3,605.1 1546.1,660.0 1546.9,607.4 1547.7,660.0 1548.5,607.3 1549.3,660.0 1550.1,588.5 1550.9,660.0 1551.7,590.3 1552.5,660.0 1553.3,603.8 1554.1,660.0 1554.9,609.0 1555.7,660.0 1556.5,590.0 1557.3,660.0 1558.1,590.5 1558.9,660.0 1559.7,605.9 1560.5,660.0 1561.3,604.7 1562.1,660.0 1562.9,612.2 1563.7,660.0 1564.5,604.1 1565.3,660.0 1566.1,594.2 1566.9,660.0 1567.7,607.4 1568.5,660.0 1569.3,610.1 1570.1,660.0 1570.9,606.0 1571.7,660.0 1572.5,591.9 1573.3,660.0 1574.1,602.0 1574.9,660.0 1575.7,603.0 1576.5,660.0 1577.3,603.4 1578.1,629.7 1578.9,606.1 1579.7,660.0 1580.5,595.2 1581.3,660.0 1582.1,605.5 1582.9,660.0 1583.7,607.8 1584.5,660.0 1585.3,607.9 1586.1,660.0 1586.9,604.3 1587.7,660.0 1588.5,609.2 1589.3,660.0 1590.1,590.8 1590.9,660.0 1591.7,603.0 1592.5,660.0 1593.3,604.9 1594.1,660.0 1594.9,604.5 1595.7,660.0 1596.5,607.0 1597.3,660.0 1598.1,609.3 1598.9,660.0 1599.7,607.5 1600.5,660.0 1601.3,606.7 1602.1,660.0 1602.9,599.1 1603.7,660.0 1604.5,603.4 1605.3,660.0 1606.1,610.7 1606.9,632.8 1607.7,597.0 1608.5,660.0 1609.3,607.7 1610.1,660.0 1610.9,602.8 1611.7,660.0 1612.5,598.0 1613.3,660.0 1614.1,599.5 1614.9,660.0 1615.7,606.7 1616.5,660.0 1617.3,604.5 1618.1,660.0 1618.9,603.9 1619.7,660.0 1620.5,604.9 1621.3,660.0 1622.1,599.8 1622.9,660.0 1623.7,610.2 1624.5,660.0" fill="none" stroke="#000000" stroke-width="3.5" stroke-linejoin="round" stroke-linecap="round"/>
<polyline points="1063.0,545.0 1065.5,490.0 1067.7,463.0 1069.8,490.0 1072.0,545.0" fill="none" stroke="#ff0000" stroke-width="4" stroke-linejoin="round" stroke-linecap="round"/>
<polyline points="1123.0,640.0 1123.5,607.2 1124.0,580.0 1124.5,558.4 1125.0,540.0 1125.5,522.3 1126.0,504.7 1126.5,488.0 1127.0,472.8 1127.5,459.9 1128.0,450.0 1128.5,441.9 1129.0,433.9 1129.5,426.4 1130.0,419.5 1130.5,413.2 1131.0,407.9 1131.5,403.6 1132.0,400.5 1132.5,398.8 1133.0,398.5 1133.5,398.9 1134.0,399.7 1134.5,400.9 1135.0,402.3 1135.5,404.0 1136.0,405.8 1136.5,407.9 1137.0,410.0 1137.5,412.8 1138.0,416.6 1138.5,421.3 1139.0,426.6 1139.5,432.4 1140.0,438.3 1140.5,444.3 1141.0,450.0 1141.5,456.0 1142.0,462.5 1142.5,469.5 1143.0,476.5 1143.5,483.3 1144.0,489.7 1144.5,495.3 1145.0,500.0 1145.5,504.2 1146.0,508.4 1146.5,512.5 1147.0,516.3 1147.5,519.8 1148.0,522.6 1148.5,524.8 1149.0,526.2 1149.5,526.5 1150.0,525.6 1150.5,523.7 1151.0,521.0 1151.5,517.5 1152.0,513.6 1152.5,509.3 1153.0,505.0 1153.5,499.9 1154.0,493.5 1154.5,486.0 1155.0,477.6 1155.5,468.6 1156.0,459.1 1156.5,449.5 1157.0,440.0 1157.5,430.1 1158.0,419.3 1158.5,408.0 1159.0,396.2 1159.5,384.3 1160.0,372.5 1160.5,361.0 1161.0,350.0 1161.5,339.5 1162.0,329.2 1162.5,319.1 1163.0,309.1 1163.5,299.2 1164.0,289.3 1164.5,279.3 1165.0,269.3 1165.5,259.1 1166.0,248.6 1166.5,237.6 1167.0,226.3 1167.5,215.1 1168.0,204.2 1168.5,194.1 1169.0,185.0 1169.5,176.1 1170.0,166.7 1170.5,157.5 1171.0,149.3 1171.5,142.8 1172.0,138.6 1172.5,137.5 1173.0,137.8 1173.5,138.4 1174.0,139.4 1174.5,140.6 1175.0,142.0 1175.5,143.5 1176.0,145.0 1176.5,146.8 1177.0,149.2 1177.5,152.0 1178.0,155.1 1178.5,158.6 1179.0,162.3 1179.5,166.1 1180.0,170.0 1180.5,174.2 1181.0,179.0 1181.5,184.2 1182.0,189.7 1182.5,195.4 1183.0,201.1 1183.5,206.7 1184.0,212.0 1184.5,217.0 1185.0,221.7 1185.5,226.3 1186.0,230.9 1186.5,235.5 1187.0,240.4 1187.5,245.6 1188.0,251.2 1188.5,257.3 1189.0,264.5 1189.5,273.6 1190.0,284.2 1190.5,295.7 1191.0,307.6 1191.5,319.3 1192.0,330.3 1192.5,339.9 1193.0,347.6 1193.5,353.3 1194.0,358.8 1194.5,364.1 1195.0,369.3 1195.5,374.2 1196.0,378.8 1196.5,383.1 1197.0,386.9 1197.5,390.3 1198.0,393.1 1198.5,395.2 1199.0,396.7 1199.5,397.4 1200.0,397.1 1200.5,394.8 1201.0,390.8 1201.5,385.6 1202.0,379.5 1202.5,373.2 1203.0,366.9 1203.5,361.1 1204.0,355.8 1204.5,350.3 1205.0,344.7 1205.5,339.0 1206.0,333.2 1206.5,327.4 1207.0,321.6 1207.5,315.7 1208.0,310.0 1208.5,304.3 1209.0,298.7 1209.5,293.1 1210.0,287.6 1210.5,281.9 1211.0,276.3 1211.5,270.5 1212.0,264.7 1212.5,258.7 1213.0,252.5 1213.5,245.9 1214.0,239.0 1214.5,231.9 1215.0,224.6 1215.5,217.3 1216.0,210.2 1216.5,203.3 1217.0,196.7 1217.5,190.6 1218.0,185.0 1218.5,179.6 1219.0,174.2 1219.5,168.9 1220.0,163.8 1220.5,159.3 1221.0,155.3 1221.5,152.2 1222.0,150.0 1222.5,148.4 1223.0,147.0 1223.5,145.6 1224.0,144.4 1224.5,143.4 1225.0,142.6 1225.5,142.0 1226.0,141.6 1226.5,141.5 1227.0,142.1 1227.5,143.3 1228.0,145.1 1228.5,147.4 1229.0,149.8 1229.5,152.4 1230.0,155.0 1230.5,157.8 1231.0,161.2 1231.5,164.9 1232.0,169.0 1232.5,173.2 1233.0,177.5 1233.5,181.7 1234.0,185.7 1234.5,189.9 1235.0,194.1 1235.5,198.4 1236.0,202.7 1236.5,207.0 1237.0,211.4 1237.5,215.7 1238.0,220.0 1238.5,224.3 1239.0,228.5 1239.5,232.8 1240.0,237.1 1240.5,241.3 1241.0,245.6 1241.5,249.9 1242.0,254.1 1242.5,258.4 1243.0,262.7 1243.5,267.0 1244.0,271.3 1244.5,275.7 1245.0,280.0 1245.5,284.3 1246.0,288.5 1246.5,292.8 1247.0,297.0 1247.5,301.2 1248.0,305.4 1248.5,309.6 1249.0,313.7 1249.5,317.8 1250.0,321.9 1250.5,326.0 1251.0,330.0 1251.5,334.0 1252.0,337.9 1252.5,341.8 1253.0,345.7 1253.5,349.5 1254.0,353.4 1254.5,357.4 1255.0,361.4 1255.5,365.4 1256.0,369.5 1256.5,373.5 1257.0,377.5 1257.5,381.3 1258.0,385.0 1258.5,388.8 1259.0,392.7 1259.5,396.5 1260.0,400.0 1260.5,402.9 1261.0,405.0 1261.5,406.5 1262.0,408.0 1262.5,409.3 1263.0,410.4 1263.5,411.2 1264.0,411.8 1264.5,412.0 1265.0,411.8 1265.5,411.2 1266.0,410.3 1266.5,409.2 1267.0,407.9 1267.5,406.5 1268.0,405.0 1268.5,403.2 1269.0,400.8 1269.5,398.0 1270.0,394.8 1270.5,391.3 1271.0,387.7 1271.5,383.8 1272.0,380.0 1272.5,376.0 1273.0,371.6 1273.5,366.9 1274.0,361.9 1274.5,356.6 1275.0,351.1 1275.5,345.0 1276.0,338.0 1276.5,331.2 1277.0,325.6 1277.5,320.8 1278.0,316.2 1278.5,312.0 1279.0,308.3 1279.5,305.3 1280.0,303.0 1280.5,301.2 1281.0,299.4 1281.5,297.7 1282.0,296.2 1282.5,294.8 1283.0,293.7 1283.5,292.7 1284.0,292.0 1284.5,291.6 1285.0,291.5 1285.5,291.6 1286.0,291.8 1286.5,292.0 1287.0,292.4 1287.5,292.9 1288.0,293.4 1288.5,293.9 1289.0,294.5 1289.5,295.2 1290.0,295.9 1290.5,296.6 1291.0,297.3 1291.5,298.1 1292.0,299.1 1292.5,300.3 1293.0,301.6 1293.5,303.2 1294.0,305.0 1294.5,307.5 1295.0,311.1 1295.5,315.4 1296.0,320.1 1296.5,325.1 1297.0,330.0 1297.5,335.0 1298.0,340.2 1298.5,345.9 1299.0,351.8 1299.5,358.2 1300.0,365.2 1300.5,372.6 1301.0,380.0 1301.5,387.4 1302.0,395.0 1302.5,402.6 1303.0,410.0 1303.5,417.6 1304.0,425.4 1304.5,433.1 1305.0,440.1 1305.5,446.1 1306.0,450.8 1306.5,454.9 1307.0,458.7 1307.5,462.0 1308.0,465.2 1308.5,468.1 1309.0,471.0 1309.5,474.0 1310.0,477.0 1310.5,480.2 1311.0,483.6 1311.5,487.0 1312.0,494.1 1312.5,492.5 1313.0,495.2 1313.5,500.0 1314.0,501.8 1314.5,510.4 1315.0,512.2 1315.5,514.8 1316.0,519.3 1316.5,518.2 1317.0,519.7 1317.5,525.8 1318.0,528.5 1318.5,528.8 1319.0,534.1 1319.5,538.3 1320.0,536.5 1320.5,540.0 1321.0,537.8 1321.5,544.8 1322.0,547.9 1322.5,548.9 1323.0,552.3 1323.5,549.4 1324.0,551.4 1324.5,555.0 1325.0,553.2 1325.5,553.6 1326.0,555.1 1326.5,556.4 1327.0,555.1 1327.5,557.7 1328.0,559.6 1328.5,553.6 1329.0,552.9 1329.5,559.3 1330.0,556.4 1330.5,561.2 1331.0,564.3 1331.5,558.5 1332.0,558.3 1332.5,559.3 1333.0,560.1 1333.5,559.7 1334.0,558.3 1334.5,561.3 1335.0,556.7 1335.5,561.9 1336.0,561.6 1336.5,564.3 1337.0,562.3 1337.5,563.2 1338.0,555.8 1338.5,563.2 1339.0,564.7 1339.5,565.5 1340.0,564.0 1340.5,567.2 1341.0,566.9 1341.5,563.4 1342.0,560.1 1342.5,563.2 1343.0,566.0 1343.5,566.6 1344.0,566.1 1344.5,566.4 1345.0,569.1 1345.5,567.3 1346.0,565.0 1346.5,569.5 1347.0,573.1 1347.5,570.4 1348.0,574.4 1348.5,575.3 1349.0,575.1 1349.5,577.0 1350.0,575.4 1350.5,573.0 1351.0,582.1 1351.5,576.5 1352.0,578.6 1352.5,584.4 1353.0,576.7 1353.5,586.0 1354.0,583.2 1354.5,584.7 1355.0,584.5 1355.5,584.2 1356.0,586.6 1356.5,576.7 1357.0,583.5 1357.5,585.6 1358.0,582.4 1358.5,585.9 1359.0,583.0 1359.5,586.9 1360.0,588.6 1360.5,588.7 1361.0,587.4 1361.5,582.6 1362.0,587.4 1362.5,591.1 1363.0,587.6 1363.5,590.2 1364.0,588.0 1364.5,592.8 1365.0,585.6 1365.5,589.0 1366.0,589.5 1366.5,591.5 1367.0,590.8 1367.5,591.2 1368.0,586.5 1368.5,595.2 1369.0,591.8 1369.5,590.3 1370.0,594.5 1370.5,589.6 1371.0,592.7 1371.5,594.1 1372.0,593.7 1372.5,592.8 1373.0,588.9 1373.5,590.4 1374.0,593.2 1374.5,590.0 1375.0,594.7 1375.5,594.3 1376.0,592.7" fill="none" stroke="#ff0000" stroke-width="3.5" stroke-linejoin="round" stroke-linecap="round"/>
<polyline points="1336.0,563.2 1336.8,660.0 1337.6,563.4 1338.4,660.0 1339.2,568.0 1340.0,660.0 1340.8,559.5 1341.6,660.0 1342.4,568.9 1343.2,660.0 1344.0,567.0 1344.8,660.0 1345.6,564.7 1346.4,660.0 1347.2,560.1 1348.0,660.0 1348.8,566.7 1349.6,660.0 1350.4,573.7 1351.2,660.0 1352.0,581.7 1352.8,660.0 1353.6,583.4 1354.4,660.0 1355.2,584.2 1356.0,660.0 1356.8,580.3 1357.6,660.0 1358.4,582.2 1359.2,660.0 1360.0,586.3 1360.8,660.0 1361.6,591.8 1362.4,660.0 1363.2,586.3 1364.0,660.0 1364.8,594.2 1365.6,660.0 1366.4,591.6 1367.2,660.0 1368.0,592.1 1368.8,660.0 1369.6,577.8 1370.4,660.0 1371.2,595.3 1372.0,625.5 1372.8,589.4 1373.6,621.9 1374.4,588.5 1375.2,660.0 1376.0,595.6 1376.8,660.0 1377.6,594.3 1378.4,660.0 1379.2,602.7 1380.0,660.0 1380.8,596.6 1381.6,660.0 1382.4,600.1 1383.2,660.0 1384.0,595.9 1384.8,660.0 1385.6,599.3 1386.4,660.0 1387.2,602.4 1388.0,660.0 1388.8,593.6 1389.6,660.0 1390.4,597.4 1391.2,660.0 1392.0,605.8 1392.8,660.0 1393.6,598.0 1394.4,660.0 1395.2,600.2 1396.0,660.0 1396.8,597.0 1397.6,660.0 1398.4,596.2 1399.2,660.0 1400.0,601.6 1400.8,660.0 1401.6,586.6 1402.4,660.0 1403.2,612.3 1404.0,660.0 1404.8,607.5 1405.6,660.0 1406.4,609.0 1407.2,660.0 1408.0,588.7 1408.8,660.0 1409.6,594.1 1410.4,660.0 1411.2,602.3 1412.0,660.0 1412.8,607.0 1413.6,660.0 1414.4,603.0 1415.2,660.0 1416.0,591.9 1416.8,660.0 1417.6,605.7 1418.4,660.0 1419.2,593.9 1420.0,660.0 1420.8,605.5 1421.6,660.0 1422.4,596.8 1423.2,660.0 1424.0,605.5 1424.8,660.0 1425.6,604.2 1426.4,660.0 1427.2,601.8 1428.0,660.0 1428.8,609.9 1429.6,660.0 1430.4,592.2 1431.2,660.0 1432.0,609.1 1432.8,660.0 1433.6,605.9 1434.4,660.0 1435.2,609.4 1436.0,660.0 1436.8,605.8 1437.6,660.0 1438.4,598.0 1439.2,660.0 1440.0,605.8 1440.8,660.0 1441.6,602.6 1442.4,660.0 1443.2,602.7 1444.0,660.0 1444.8,602.4 1445.6,660.0 1446.4,605.4 1447.2,660.0 1448.0,601.2 1448.8,660.0 1449.6,606.6 1450.4,660.0 1451.2,601.8 1452.0,660.0 1452.8,596.7 1453.6,660.0 1454.4,600.9 1455.2,660.0 1456.0,605.2 1456.8,660.0 1457.6,602.2 1458.4,660.0 1459.2,604.7 1460.0,660.0 1460.8,594.3 1461.6,660.0 1462.4,602.7 1463.2,660.0 1464.0,605.8 1464.8,660.0 1465.6,605.6 1466.4,660.0 1467.2,590.2 1468.0,660.0 1468.8,592.0 1469.6,660.0 1470.4,598.0 1471.2,660.0 1472.0,605.9 1472.8,660.0 1473.6,599.8 1474.4,660.0 1475.2,588.0 1476.0,660.0 1476.8,602.4 1477.6,660.0 1478.4,607.8 1479.2,660.0 1480.0,605.4 1480.8,660.0 1481.6,606.2 1482.4,660.0 1483.2,604.5 1484.0,660.0 1484.8,602.7 1485.6,660.0 1486.4,603.2 1487.2,660.0 1488.0,601.1 1488.8,660.0 1489.6,607.5 1490.4,660.0 1491.2,607.4 1492.0,660.0 1492.8,604.6 1493.6,660.0 1494.4,592.2 1495.2,660.0 1496.0,596.4 1496.8,660.0 1497.6,599.0 1498.4,660.0 1499.2,598.4 1500.0,660.0 1500.8,600.8 1501.6,660.0 1502.4,599.8 1503.2,660.0 1504.0,604.5 1504.8,660.0 1505.6,597.7 1506.4,660.0 1507.2,602.0 1508.0,660.0 1508.8,604.2 1509.6,660.0 1510.4,604.7 1511.2,660.0 1512.0,600.7 1512.8,660.0 1513.6,610.6 1514.4,660.0 1515.2,604.6 1516.0,660.0 1516.8,606.6 1517.6,660.0 1518.4,600.0 1519.2,660.0 1520.0,603.0 1520.8,660.0 1521.6,596.1 1522.4,660.0 1523.2,603.0 1524.0,660.0 1524.8,608.6 1525.6,660.0 1526.4,592.8 1527.2,660.0 1528.0,600.7 1528.8,660.0 1529.6,607.1 1530.4,660.0 1531.2,608.6 1532.0,660.0 1532.8,601.3 1533.6,660.0 1534.4,599.7 1535.2,660.0 1536.0,589.7 1536.8,660.0 1537.6,594.0 1538.4,660.0 1539.2,597.6 1540.0,660.0 1540.8,606.0 1541.6,660.0 1542.4,603.8 1543.2,660.0 1544.0,602.0 1544.8,660.0 1545.6,604.9 1546.4,660.0 1547.2,607.3 1548.0,660.0 1548.8,596.5 1549.6,614.0 1550.4,604.4 1551.2,638.8 1552.0,611.8 1552.8,660.0 1553.6,600.3 1554.4,660.0 1555.2,602.5 1556.0,660.0 1556.8,606.2 1557.6,660.0 1558.4,608.3 1559.2,641.6 1560.0,603.1 1560.8,660.0 1561.6,601.8 1562.4,660.0 1563.2,609.1 1564.0,660.0 1564.8,602.5 1565.6,660.0 1566.4,605.4 1567.2,660.0 1568.0,591.6 1568.8,660.0 1569.6,593.1 1570.4,660.0 1571.2,605.6 1572.0,660.0 1572.8,610.9 1573.6,660.0 1574.4,609.2 1575.2,660.0 1576.0,601.8 1576.8,660.0 1577.6,604.1 1578.4,660.0 1579.2,607.4 1580.0,660.0 1580.8,608.1 1581.6,660.0 1582.4,605.8 1583.2,660.0 1584.0,603.0 1584.8,660.0 1585.6,607.4 1586.4,660.0 1587.2,602.2 1588.0,660.0 1588.8,600.5 1589.6,660.0 1590.4,611.6 1591.2,660.0 1592.0,603.9 1592.8,660.0 1593.6,613.6 1594.4,660.0 1595.2,606.1 1596.0,660.0 1596.8,608.0 1597.6,660.0 1598.4,607.1 1599.2,660.0 1600.0,606.7 1600.8,660.0 1601.6,589.5 1602.4,660.0 1603.2,606.6 1604.0,660.0 1604.8,611.6 1605.6,660.0 1606.4,602.8 1607.2,660.0 1608.0,593.7 1608.8,660.0 1609.6,609.2 1610.4,660.0 1611.2,593.5 1612.0,660.0 1612.8,611.2 1613.6,660.0 1614.4,608.4 1615.2,660.0 1616.0,605.9 1616.8,660.0 1617.6,606.6 1618.4,660.0 1619.2,606.9 1620.0,660.0 1620.8,610.1 1621.6,660.0 1622.4,613.5 1623.0,660.0" fill="none" stroke="#ff0000" stroke-width="3.5" stroke-linejoin="round" stroke-linecap="round"/>
<polyline points="1123.0,640.0 1123.5,603.8 1124.0,580.0 1124.5,569.2 1125.0,560.0 1125.5,546.5 1126.0,530.2 1126.5,512.9 1127.0,495.9 1127.5,481.1 1128.0,470.0 1128.5,461.3 1129.0,452.7 1129.5,444.5 1130.0,436.8 1130.5,429.9 1131.0,424.0 1131.5,419.2 1132.0,415.7 1132.5,413.8 1133.0,413.5 1133.5,413.9 1134.0,414.8 1134.5,415.9 1135.0,417.4 1135.5,419.1 1136.0,420.9 1136.5,422.9 1137.0,425.0 1137.5,427.6 1138.0,431.1 1138.5,435.2 1139.0,439.9 1139.5,444.9 1140.0,450.1 1140.5,455.2 1141.0,460.0 1141.5,464.9 1142.0,470.0 1142.5,475.3 1143.0,480.7 1143.5,485.9 1144.0,491.0 1144.5,495.7 1145.0,500.0 1145.5,504.3 1146.0,508.8 1146.5,513.2 1147.0,517.0 1147.5,519.7 1148.0,521.0 1148.5,520.7 1149.0,519.3 1149.5,517.2 1150.0,514.4 1150.5,511.1 1151.0,507.5 1151.5,503.7 1152.0,500.0 1152.5,496.0 1153.0,491.4 1153.5,486.3 1154.0,480.6 1154.5,474.6 1155.0,468.2 1155.5,461.4 1156.0,454.4 1156.5,447.3 1157.0,440.0 1157.5,432.4 1158.0,424.2 1158.5,415.5 1159.0,406.4 1159.5,396.9 1160.0,387.0 1160.5,377.0 1161.0,366.7 1161.5,356.3 1162.0,345.8 1162.5,334.7 1163.0,323.2 1163.5,311.3 1164.0,299.2 1164.5,287.0 1165.0,274.8 1165.5,262.7 1166.0,250.7 1166.5,238.1 1167.0,225.1 1167.5,212.3 1168.0,200.2 1168.5,189.3 1169.0,180.0 1169.5,171.4 1170.0,162.6 1170.5,154.3 1171.0,146.9 1171.5,141.1 1172.0,137.5 1172.5,136.5 1173.0,137.1 1173.5,138.4 1174.0,140.2 1174.5,142.4 1175.0,144.9 1175.5,147.4 1176.0,150.0 1176.5,152.8 1177.0,156.0 1177.5,159.6 1178.0,163.5 1178.5,167.6 1179.0,171.8 1179.5,175.9 1180.0,180.0 1180.5,184.0 1181.0,188.1 1181.5,192.2 1182.0,196.4 1182.5,200.7 1183.0,205.1 1183.5,209.5 1184.0,214.0 1184.5,218.5 1185.0,222.8 1185.5,227.1 1186.0,231.5 1186.5,236.0 1187.0,240.7 1187.5,245.8 1188.0,251.4 1188.5,257.4 1189.0,264.4 1189.5,273.7 1190.0,284.6 1190.5,296.6 1191.0,308.9 1191.5,320.9 1192.0,331.9 1192.5,341.2 1193.0,348.1 1193.5,352.5 1194.0,356.5 1194.5,360.4 1195.0,364.1 1195.5,367.5 1196.0,370.7 1196.5,373.6 1197.0,376.2 1197.5,378.4 1198.0,380.2 1198.5,381.6 1199.0,382.5 1199.5,383.0 1200.0,382.7 1200.5,380.7 1201.0,377.2 1201.5,372.7 1202.0,367.5 1202.5,361.9 1203.0,356.3 1203.5,351.0 1204.0,346.0 1204.5,340.6 1205.0,334.9 1205.5,328.9 1206.0,322.9 1206.5,316.9 1207.0,311.0 1207.5,305.3 1208.0,300.0 1208.5,295.0 1209.0,290.3 1209.5,285.8 1210.0,281.4 1210.5,277.1 1211.0,272.7 1211.5,268.1 1212.0,263.3 1212.5,258.2 1213.0,252.7 1213.5,246.6 1214.0,239.9 1214.5,232.9 1215.0,225.6 1215.5,218.2 1216.0,210.8 1216.5,203.7 1217.0,196.9 1217.5,190.6 1218.0,185.0 1218.5,179.7 1219.0,174.4 1219.5,169.2 1220.0,164.2 1220.5,159.7 1221.0,155.8 1221.5,152.5 1222.0,150.0 1222.5,148.0 1223.0,146.1 1223.5,144.3 1224.0,142.7 1224.5,141.3 1225.0,140.2 1225.5,139.3 1226.0,138.8 1226.5,138.7 1227.0,139.5 1227.5,141.1 1228.0,143.4 1228.5,146.1 1229.0,149.1 1229.5,152.1 1230.0,155.0 1230.5,157.9 1231.0,161.0 1231.5,164.3 1232.0,167.8 1232.5,171.4 1233.0,175.0 1233.5,178.6 1234.0,182.1 1234.5,185.7 1235.0,189.3 1235.5,193.0 1236.0,196.7 1236.5,200.5 1237.0,204.3 1237.5,208.1 1238.0,212.0 1238.5,216.0 1239.0,220.1 1239.5,224.4 1240.0,228.6 1240.5,232.9 1241.0,237.1 1241.5,241.1 1242.0,245.0 1242.5,248.8 1243.0,252.8 1243.5,256.8 1244.0,260.7 1244.5,264.5 1245.0,268.2 1245.5,271.7 1246.0,274.9 1246.5,277.7 1247.0,280.2 1247.5,282.2 1248.0,284.2 1248.5,286.2 1249.0,288.2 1249.5,290.0 1250.0,291.8 1250.5,293.4 1251.0,294.8 1251.5,296.1 1252.0,297.1 1252.5,297.9 1253.0,298.3 1253.5,298.5 1254.0,298.4 1254.5,298.0 1255.0,297.5 1255.5,296.7 1256.0,295.8 1256.5,294.7 1257.0,293.5 1257.5,292.1 1258.0,290.5 1258.5,288.9 1259.0,287.2 1259.5,285.4 1260.0,283.5 1260.5,281.6 1261.0,279.6 1261.5,277.6 1262.0,275.6 1262.5,273.6 1263.0,271.6 1263.5,269.4 1264.0,266.8 1264.5,264.0 1265.0,260.9 1265.5,257.7 1266.0,254.2 1266.5,250.7 1267.0,247.0 1267.5,243.2 1268.0,239.5 1268.5,235.7 1269.0,232.0 1269.5,228.4 1270.0,224.9 1270.5,221.6 1271.0,218.5 1271.5,215.6 1272.0,212.8 1272.5,210.1 1273.0,207.5 1273.5,204.9 1274.0,202.3 1274.5,199.8 1275.0,197.3 1275.5,194.9 1276.0,192.6 1276.5,190.4 1277.0,188.2 1277.5,186.2 1278.0,184.2 1278.5,182.4 1279.0,180.5 1279.5,178.7 1280.0,176.7 1280.5,174.8 1281.0,172.9 1281.5,171.0 1282.0,169.2 1282.5,167.6 1283.0,166.1 1283.5,164.8 1284.0,163.7 1284.5,162.8 1285.0,162.2 1285.5,162.0 1286.0,162.0 1286.5,162.2 1287.0,162.6 1287.5,163.0 1288.0,163.6 1288.5,164.2 1289.0,164.9 1289.5,165.7 1290.0,166.6 1290.5,167.5 1291.0,168.4 1291.5,169.7 1292.0,171.3 1292.5,173.2 1293.0,175.4 1293.5,177.9 1294.0,180.4 1294.5,183.1 1295.0,185.9 1295.5,188.6 1296.0,191.0 1296.5,193.8 1297.0,197.3 1297.5,200.6 1298.0,202.0 1298.5,207.0 1299.0,209.4 1299.5,213.7 1300.0,214.4 1300.5,217.7 1301.0,220.1 1301.5,222.1 1302.0,224.4 1302.5,228.5 1303.0,229.9 1303.5,233.7 1304.0,236.3 1304.5,236.8 1305.0,240.0 1305.5,240.9 1306.0,244.4 1306.5,245.5 1307.0,245.7 1307.5,248.1 1308.0,249.8 1308.5,251.6 1309.0,253.7 1309.5,252.9 1310.0,255.3 1310.5,258.2 1311.0,257.3 1311.5,258.2 1312.0,259.7 1312.5,259.9 1313.0,262.2 1313.5,262.8 1314.0,264.3 1314.5,265.4 1315.0,266.8 1315.5,266.2 1316.0,267.5 1316.5,267.0 1317.0,271.8 1317.5,269.7 1318.0,270.5 1318.5,270.6 1319.0,271.4 1319.5,272.6 1320.0,272.5 1320.5,273.2 1321.0,273.6 1321.5,274.2 1322.0,275.3 1322.5,275.0 1323.0,275.5 1323.5,275.8 1324.0,276.5 1324.5,277.0 1325.0,277.0 1325.5,277.4 1326.0,278.3 1326.5,277.5 1327.0,277.6 1327.5,278.5 1328.0,277.8 1328.5,277.9 1329.0,276.6 1329.5,276.8 1330.0,278.1 1330.5,276.7 1331.0,275.8 1331.5,275.5 1332.0,274.1 1332.5,273.7 1333.0,273.6 1333.5,273.5 1334.0,271.2 1334.5,273.4 1335.0,271.0 1335.5,270.7 1336.0,269.1 1336.5,273.1 1337.0,269.5 1337.5,270.5 1338.0,267.4 1338.5,266.7 1339.0,266.3 1339.5,267.2 1340.0,265.2 1340.5,265.5 1341.0,264.4 1341.5,264.5 1342.0,263.3 1342.5,261.9 1343.0,261.2 1343.5,261.7 1344.0,260.7 1344.5,260.4 1345.0,260.5 1345.5,259.4 1346.0,259.4 1346.5,258.4 1347.0,257.9 1347.5,257.9 1348.0,258.2 1348.5,259.5 1349.0,259.0 1349.5,259.1 1350.0,258.9 1350.5,260.0 1351.0,261.5 1351.5,261.8 1352.0,262.0 1352.5,262.5 1353.0,263.8 1353.5,264.3 1354.0,265.7 1354.5,266.6 1355.0,267.6 1355.5,267.6 1356.0,268.4 1356.5,271.0 1357.0,270.5 1357.5,271.6 1358.0,273.1 1358.5,274.5 1359.0,275.3 1359.5,277.4 1360.0,277.7 1360.5,279.6 1361.0,281.6 1361.5,285.4 1362.0,285.9 1362.5,286.0 1363.0,289.7 1363.5,291.4 1364.0,295.1 1364.5,296.0 1365.0,298.7 1365.5,300.2 1366.0,302.1 1366.5,301.9 1367.0,306.4 1367.5,309.0 1368.0,308.6 1368.5,312.2 1369.0,311.3 1369.5,314.4 1370.0,316.3 1370.5,318.7 1371.0,320.3 1371.5,320.7 1372.0,324.7 1372.5,323.3 1373.0,325.6 1373.5,327.4 1374.0,327.7 1374.5,330.2 1375.0,332.8 1375.5,336.1 1376.0,337.2 1376.5,337.4 1377.0,339.4 1377.5,338.0 1378.0,342.1 1378.5,344.6 1379.0,344.0 1379.5,347.2 1380.0,346.6 1380.5,349.2 1381.0,350.7 1381.5,352.5 1382.0,353.9 1382.5,356.1 1383.0,356.8 1383.5,357.3 1384.0,358.3 1384.5,358.8 1385.0,360.3 1385.5,360.2 1386.0,361.2 1386.5,364.3 1387.0,365.2 1387.5,366.1 1388.0,365.8 1388.5,367.5 1389.0,366.2 1389.5,369.4 1390.0,370.1 1390.5,371.4 1391.0,371.2 1391.5,371.7 1392.0,378.7 1392.5,374.1 1393.0,373.7 1393.5,373.8 1394.0,375.2 1394.5,376.9 1395.0,378.4 1395.5,376.8 1396.0,376.2 1396.5,377.8 1397.0,378.8 1397.5,379.2 1398.0,380.5 1398.5,380.5 1399.0,388.0 1399.5,382.8 1400.0,381.1 1400.5,383.4 1401.0,384.7 1401.5,384.2 1402.0,390.4 1402.5,386.6 1403.0,388.4 1403.5,385.8 1404.0,388.6 1404.5,388.8 1405.0,386.7 1405.5,390.4 1406.0,389.8 1406.5,393.4 1407.0,393.7 1407.5,391.5 1408.0,394.2 1408.5,393.3 1409.0,394.7 1409.5,396.4 1410.0,396.3 1410.5,397.0 1411.0,402.8 1411.5,396.5 1412.0,397.6 1412.5,400.1 1413.0,401.1 1413.5,401.3 1414.0,402.1 1414.5,401.8 1415.0,403.9 1415.5,404.9 1416.0,404.2 1416.5,405.5 1417.0,407.4 1417.5,405.8 1418.0,406.9 1418.5,408.4 1419.0,408.7 1419.5,408.5 1420.0,410.2 1420.5,410.9 1421.0,412.4 1421.5,413.7 1422.0,412.1 1422.5,413.1 1423.0,416.0 1423.5,415.5 1424.0,415.9 1424.5,416.4 1425.0,418.3 1425.5,417.7 1426.0,419.7 1426.5,419.5 1427.0,420.3 1427.5,420.3 1428.0,422.9 1428.5,423.7 1429.0,422.5 1429.5,424.3 1430.0,427.6 1430.5,428.9 1431.0,425.3 1431.5,427.0 1432.0,425.9 1432.5,428.1 1433.0,429.2 1433.5,429.6 1434.0,429.4 1434.5,434.3 1435.0,430.6 1435.5,431.4 1436.0,431.7 1436.5,432.0 1437.0,434.5 1437.5,433.5 1438.0,431.8 1438.5,434.5 1439.0,435.2 1439.5,436.6 1440.0,435.4 1440.5,435.8 1441.0,436.9 1441.5,438.2 1442.0,441.3 1442.5,437.6 1443.0,439.1 1443.5,438.3 1444.0,437.7 1444.5,438.4 1445.0,439.9 1445.5,439.4 1446.0,440.7 1446.5,440.1 1447.0,440.7 1447.5,440.1 1448.0,442.1 1448.5,441.5 1449.0,442.8 1449.5,442.5 1450.0,441.8 1450.5,442.8 1451.0,441.7 1451.5,442.1 1452.0,442.2 1452.5,441.3 1453.0,441.7 1453.5,443.4 1454.0,442.7 1454.5,443.6 1455.0,442.3 1455.5,443.8 1456.0,444.3 1456.5,443.5 1457.0,444.6 1457.5,444.4 1458.0,444.5 1458.5,443.8 1459.0,446.8 1459.5,444.5 1460.0,445.7 1460.5,445.0 1461.0,444.7 1461.5,445.8 1462.0,447.7 1462.5,445.7 1463.0,447.8 1463.5,447.2 1464.0,446.7 1464.5,447.8 1465.0,447.5 1465.5,447.8 1466.0,448.4 1466.5,448.7 1467.0,447.9 1467.5,449.6 1468.0,449.6 1468.5,450.4 1469.0,449.4 1469.5,450.8 1470.0,449.6 1470.5,451.3 1471.0,450.3 1471.5,451.6 1472.0,451.5 1472.5,450.3 1473.0,452.2 1473.5,450.6 1474.0,451.3 1474.5,452.9 1475.0,453.1 1475.5,454.2 1476.0,452.6 1476.5,453.7 1477.0,454.0 1477.5,452.1 1478.0,453.5 1478.5,453.4 1479.0,453.0 1479.5,452.6 1480.0,454.0 1480.5,453.3 1481.0,453.5 1481.5,453.4 1482.0,455.5 1482.5,451.2 1483.0,455.0 1483.5,452.4 1484.0,453.3 1484.5,453.0 1485.0,453.9 1485.5,452.0 1486.0,451.4 1486.5,451.7 1487.0,452.5 1487.5,452.7 1488.0,451.8 1488.5,453.7 1489.0,452.9 1489.5,450.7 1490.0,452.9 1490.5,452.6 1491.0,452.4 1491.5,452.5 1492.0,453.6 1492.5,452.5 1493.0,452.7 1493.5,452.7 1494.0,451.4 1494.5,452.9 1495.0,452.1 1495.5,452.4 1496.0,452.7 1496.5,451.4 1497.0,451.9 1497.5,453.0 1498.0,451.3 1498.5,459.3 1499.0,452.7 1499.5,451.3 1500.0,456.0 1500.5,450.6 1501.0,450.8 1501.5,452.3 1502.0,452.2 1502.5,450.9 1503.0,451.6 1503.5,452.3 1504.0,451.7 1504.5,452.0 1505.0,452.0 1505.5,451.3 1506.0,452.2 1506.5,451.1 1507.0,451.9 1507.5,450.7 1508.0,451.1 1508.5,451.9 1509.0,452.9 1509.5,450.5 1510.0,450.3 1510.5,451.5 1511.0,457.1 1511.5,450.9 1512.0,451.1 1512.5,451.2 1513.0,449.7 1513.5,449.7 1514.0,450.7 1514.5,451.9 1515.0,453.7 1515.5,449.2 1516.0,448.5 1516.5,450.8 1517.0,448.6 1517.5,449.3 1518.0,448.7 1518.5,449.3 1519.0,451.6 1519.5,450.1 1520.0,447.8 1520.5,447.0 1521.0,448.4 1521.5,447.9 1522.0,448.9 1522.5,449.0 1523.0,448.2 1523.5,448.8 1524.0,448.3 1524.5,447.4 1525.0,447.5 1525.5,445.9 1526.0,448.3 1526.5,447.6 1527.0,445.7 1527.5,445.9 1528.0,446.1 1528.5,446.7 1529.0,444.9 1529.5,444.3 1530.0,444.9 1530.5,445.7 1531.0,445.6 1531.5,453.2 1532.0,448.1 1532.5,447.5 1533.0,446.2 1533.5,446.8 1534.0,447.8 1534.5,449.6 1535.0,446.7 1535.5,455.1 1536.0,447.8 1536.5,449.1 1537.0,448.9 1537.5,448.2 1538.0,449.3 1538.5,449.4 1539.0,449.3 1539.5,450.0 1540.0,450.0 1540.5,449.3 1541.0,450.7 1541.5,450.3 1542.0,451.9 1542.5,451.1 1543.0,452.2 1543.5,455.9 1544.0,452.8 1544.5,454.1 1545.0,453.3 1545.5,453.7 1546.0,457.2 1546.5,457.3 1547.0,456.9 1547.5,456.9 1548.0,458.2 1548.5,458.1 1549.0,463.6 1549.5,459.9 1550.0,469.5 1550.5,464.1 1551.0,461.6 1551.5,459.3 1552.0,464.6 1552.5,466.4 1553.0,465.5 1553.5,460.6 1554.0,465.5 1554.5,471.0 1555.0,469.5 1555.5,470.2 1556.0,468.5 1556.5,468.0 1557.0,473.1 1557.5,478.1 1558.0,480.2 1558.5,472.0 1559.0,482.2 1559.5,480.7 1560.0,469.7 1560.5,477.9 1561.0,480.7 1561.5,483.1 1562.0,490.1 1562.5,488.2 1563.0,481.8 1563.5,484.9 1564.0,482.8 1564.5,488.0 1565.0,492.7 1565.5,490.4 1566.0,496.3 1566.5,490.8 1567.0,495.7 1567.5,497.6 1568.0,495.7 1568.5,497.2 1569.0,497.7 1569.5,494.3 1570.0,500.8 1570.5,513.1 1571.0,496.7 1571.5,498.2 1572.0,508.2 1572.5,505.0 1573.0,511.7 1573.5,507.2 1574.0,516.4 1574.5,513.2 1575.0,510.5 1575.5,506.9 1576.0,512.3 1576.5,518.0 1577.0,521.6 1577.5,517.7 1578.0,515.6 1578.5,515.0 1579.0,522.0 1579.5,526.6 1580.0,526.1 1580.5,526.1 1581.0,524.4 1581.5,528.6 1582.0,519.0 1582.5,524.0 1583.0,530.8 1583.5,534.6 1584.0,528.9 1584.5,529.6 1585.0,531.9 1585.5,532.8 1586.0,536.4 1586.5,536.6 1587.0,535.4 1587.5,535.9 1588.0,541.8 1588.5,534.0 1589.0,539.7 1589.5,539.7 1590.0,542.3 1590.5,540.2 1591.0,542.3 1591.5,542.1 1592.0,546.4 1592.5,541.0 1593.0,540.1 1593.5,547.1 1594.0,548.2 1594.5,539.5 1595.0,541.4 1595.5,551.9 1596.0,547.1 1596.5,551.7 1597.0,543.1 1597.5,553.6 1598.0,551.2 1598.5,549.5 1599.0,556.8 1599.5,547.9 1600.0,550.1 1600.5,557.6 1601.0,546.1 1601.5,554.2 1602.0,555.1 1602.5,553.8 1603.0,555.6 1603.5,557.4 1604.0,549.7 1604.5,558.0 1605.0,558.4 1605.5,555.5 1606.0,567.9 1606.5,563.8 1607.0,561.6 1607.5,559.1 1608.0,565.6 1608.5,568.1 1609.0,560.4 1609.5,560.6 1610.0,561.8 1610.5,562.7 1611.0,563.7 1611.5,569.0 1612.0,568.0 1612.5,563.4 1613.0,566.9 1613.5,563.4 1614.0,568.7 1614.5,561.1 1615.0,563.1 1615.5,566.6 1616.0,562.2 1616.5,575.4 1617.0,568.7 1617.5,566.0 1618.0,571.4 1618.5,568.7 1619.0,568.8 1619.5,576.3 1620.0,572.8 1620.5,582.3 1621.0,569.6 1621.5,571.4 1622.0,573.9 1622.5,579.3 1623.0,575.6 1623.5,575.4 1624.0,579.3 1624.5,569.7 1625.0,580.0 1625.5,579.7 1626.0,581.7 1626.5,577.8 1627.0,580.4 1627.5,578.8 1628.0,584.1 1628.5,575.6 1629.0,587.1 1629.5,575.3 1630.0,580.0 1630.5,586.2 1631.0,579.1 1631.5,581.7 1632.0,583.9 1632.5,586.2 1633.0,576.6 1633.5,577.6 1634.0,578.5 1634.5,587.2 1635.0,580.5" fill="none" stroke="#00ff00" stroke-width="3.5" stroke-linejoin="round" stroke-linecap="round"/>
<polyline points="1620.0,581.4 1620.8,660.0 1621.6,581.3 1622.4,660.0 1623.2,581.9 1624.0,660.0 1624.8,584.3 1625.6,660.0 1626.4,588.0 1627.2,617.8 1628.0,574.2 1628.8,660.0 1629.6,574.5 1630.4,660.0 1631.2,590.7 1632.0,660.0 1632.8,587.9 1633.6,660.0 1634.4,591.2 1635.2,660.0 1636.0,590.9 1636.8,660.0 1637.6,595.3 1638.4,660.0 1639.2,590.2 1640.0,660.0 1640.8,586.6 1641.6,660.0 1642.4,590.5 1643.2,660.0 1644.0,582.2 1644.8,660.0 1645.6,597.1 1646.4,660.0 1647.2,584.4 1648.0,660.0 1648.8,598.7 1649.6,660.0 1650.4,597.7 1651.2,660.0 1652.0,590.3 1652.8,660.0 1653.6,593.0 1654.4,660.0 1655.2,589.9 1656.0,616.8 1656.8,588.2 1657.6,660.0 1658.4,586.6 1659.2,660.0 1660.0,600.4 1660.8,660.0 1661.6,595.7 1662.4,660.0 1663.2,595.6 1664.0,660.0 1664.8,592.0 1665.6,660.0 1666.4,584.5 1667.2,660.0 1668.0,590.4 1668.8,660.0 1669.6,583.8 1670.4,660.0 1671.2,593.8 1672.0,660.0 1672.8,592.6 1673.6,660.0 1674.4,582.2 1675.2,660.0 1676.0,591.7 1676.8,660.0 1677.6,594.1 1678.4,660.0 1679.2,592.0 1680.0,660.0 1680.8,581.5 1681.6,660.0 1682.4,595.4 1683.2,660.0 1684.0,591.5 1684.8,660.0 1685.6,597.9 1686.4,660.0 1687.2,600.5 1688.0,660.0 1688.8,597.2 1689.6,660.0 1690.4,593.7 1691.2,660.0 1692.0,595.2 1692.8,660.0 1693.6,590.3 1694.4,660.0 1695.2,598.9 1696.0,660.0 1696.8,593.0 1697.6,660.0 1698.4,586.7 1699.2,660.0 1700.0,593.3 1700.8,660.0 1701.6,600.6 1702.4,660.0 1703.2,597.1 1704.0,660.0 1704.8,602.4 1705.6,660.0 1706.4,601.7 1707.2,660.0 1708.0,585.7 1708.8,660.0 1709.6,599.2 1710.4,660.0 1711.2,593.3 1712.0,660.0 1712.8,588.8 1713.6,660.0 1714.4,601.7 1715.2,660.0 1716.0,595.3 1716.8,660.0 1717.6,598.1 1718.4,660.0 1719.2,605.5 1720.0,660.0 1720.8,598.3 1721.6,660.0 1722.4,593.6 1723.2,660.0 1724.0,591.5 1724.8,660.0 1725.6,593.5 1726.4,660.0 1727.2,593.8 1728.0,660.0 1728.8,603.8 1729.6,660.0 1730.4,591.9 1731.2,660.0 1732.0,598.4 1732.8,660.0 1733.6,593.6 1734.4,660.0 1735.2,593.5 1736.0,660.0 1736.8,592.1 1737.6,660.0 1738.4,601.4 1738.4,660.0" fill="none" stroke="#00ff00" stroke-width="3.5" stroke-linejoin="round" stroke-linecap="round"/>
<polyline points="1050.0,535.0 1051.0,555.0 1052.0,536.1 1053.0,555.0 1054.0,536.5 1055.0,555.0 1056.0,532.9 1057.0,549.8 1058.0,536.3 1058.0,555.0" fill="none" stroke="#00ff00" stroke-width="3.5" stroke-linejoin="round" stroke-linecap="round"/>
<polyline points="1067.5,548.0 1069.5,515.0 1070.8,501.0 1072.3,515.0 1074.0,548.0" fill="none" stroke="#0000ff" stroke-width="4" stroke-linejoin="round" stroke-linecap="round"/>
<line x1="1070.8" y1="590" x2="1070.8" y2="625" stroke="#0000ff" stroke-width="1.2"/>
<line x1="1086.3" y1="590" x2="1086.3" y2="625" stroke="#0000ff" stroke-width="1.2"/>
<polyline points="1091.0,572.9 1091.8,660.0 1092.6,574.0 1093.4,660.0 1094.2,572.8 1095.0,660.0 1095.8,571.0 1096.6,660.0 1097.4,564.8 1098.2,660.0 1099.0,568.9 1099.8,660.0 1100.6,574.2 1101.4,660.0 1102.2,571.9 1103.0,660.0 1103.8,572.0 1104.6,660.0 1105.4,572.7 1106.2,660.0 1107.0,573.8 1107.8,660.0 1108.6,570.7 1109.4,660.0 1110.2,568.1 1111.0,593.9 1111.8,568.0 1112.6,660.0 1113.4,566.4 1114.2,660.0 1115.0,566.3 1115.8,660.0 1116.6,557.4 1117.4,660.0 1118.2,562.5 1119.0,660.0 1119.8,562.7 1120.6,590.1 1121.4,554.3 1122.2,660.0 1123.0,542.4 1123.0,660.0" fill="none" stroke="#0000ff" stroke-width="3.5" stroke-linejoin="round" stroke-linecap="round"/>
<polyline points="1123.6,640.0 1124.1,601.9 1124.6,576.1 1125.1,561.0 1125.6,546.8 1126.1,529.5 1126.6,511.1 1127.1,493.4 1127.6,478.6 1128.1,468.3 1128.6,460.1 1129.1,452.3 1129.6,444.9 1130.1,438.2 1130.6,432.3 1131.1,427.4 1131.6,423.4 1132.1,420.8 1132.6,419.4 1133.1,419.4 1133.6,419.7 1134.1,420.4 1134.6,421.3 1135.1,422.4 1135.6,423.7 1136.1,425.2 1136.6,426.7 1137.1,428.3 1137.6,430.6 1138.1,433.6 1138.6,437.2 1139.1,441.2 1139.6,445.6 1140.1,450.1 1140.6,454.5 1141.1,458.9 1141.6,463.5 1142.1,468.6 1142.6,474.0 1143.1,479.4 1143.6,484.7 1144.1,489.6 1144.6,494.0 1145.1,497.7 1145.6,501.2 1146.1,504.8 1146.6,508.1 1147.1,510.8 1147.6,512.6 1148.1,513.3 1148.6,512.8 1149.1,511.5 1149.6,509.6 1150.1,507.0 1150.6,504.1 1151.1,500.9 1151.6,497.6 1152.1,494.3 1152.6,490.7 1153.1,486.5 1153.6,481.8 1154.1,476.6 1154.6,471.0 1155.1,465.0 1155.6,458.8 1156.1,452.3 1156.6,445.5 1157.1,438.6 1157.6,431.1 1158.1,422.9 1158.6,414.2 1159.1,404.9 1159.6,395.2 1160.1,385.2 1160.6,375.0 1161.1,364.6 1161.6,354.2 1162.1,343.7 1162.6,332.8 1163.1,321.5 1163.6,309.9 1164.1,298.1 1164.6,286.2 1165.1,274.3 1165.6,262.4 1166.1,250.2 1166.6,237.2 1167.1,223.9 1167.6,210.8 1168.1,198.5 1168.6,187.5 1169.1,178.3 1169.6,169.4 1170.1,160.5 1170.6,152.1 1171.1,144.9 1171.6,139.4 1172.1,136.2 1172.6,135.7 1173.1,136.5 1173.6,137.9 1174.1,140.0 1174.6,142.4 1175.1,145.1 1175.6,147.9 1176.1,150.5 1176.6,153.5 1177.1,156.8 1177.6,160.5 1178.1,164.4 1178.6,168.5 1179.1,172.6 1179.6,176.8 1180.1,180.8 1180.6,184.8 1181.1,188.9 1181.6,193.1 1182.1,197.3 1182.6,201.6 1183.1,206.0 1183.6,210.4 1184.1,214.9 1184.6,219.3 1185.1,223.6 1185.6,228.0 1186.1,232.3 1186.6,236.9 1187.1,241.7 1187.6,246.9 1188.1,252.5 1188.6,258.7 1189.1,266.1 1189.6,275.7 1190.1,286.9 1190.6,299.0 1191.1,311.4 1191.6,323.2 1192.1,333.9 1192.6,342.8 1193.1,349.1 1193.6,353.3 1194.1,357.3 1194.6,361.2 1195.1,364.8 1195.6,368.2 1196.1,371.3 1196.6,374.1 1197.1,376.6 1197.6,378.8 1198.1,380.5 1198.6,381.8 1199.1,382.6 1199.6,383.0 1200.1,382.4 1200.6,380.1 1201.1,376.4 1201.6,371.7 1202.1,366.4 1202.6,360.7 1203.1,355.2 1203.6,350.0 1204.1,344.9 1204.6,339.5 1205.1,333.7 1205.6,327.7 1206.1,321.7 1206.6,315.7 1207.1,309.9 1207.6,304.2 1208.1,299.0 1208.6,294.1 1209.1,289.4 1209.6,284.9 1210.1,280.6 1210.6,276.2 1211.1,271.8 1211.6,267.2 1212.1,262.3 1212.6,257.2 1213.1,251.5 1213.6,245.2 1214.1,238.3 1214.6,231.0 1215.1,223.5 1215.6,216.0 1216.1,208.6 1216.6,201.6 1217.1,195.0 1217.6,189.1 1218.1,184.0 1218.6,179.3 1219.1,174.7 1219.6,170.3 1220.1,166.2 1220.6,162.5 1221.1,159.3 1221.6,156.6 1222.1,154.6 1222.6,152.9 1223.1,151.3 1223.6,149.7 1224.1,148.3 1224.6,147.1 1225.1,146.2 1225.6,145.5 1226.1,145.1 1226.6,145.1 1227.1,145.9 1227.6,147.4 1228.1,149.5 1228.6,152.0 1229.1,154.8 1229.6,157.7 1230.1,160.6 1230.6,163.9 1231.1,167.9 1231.6,172.4 1232.1,177.2 1232.6,182.3 1233.1,187.4 1233.6,192.4 1234.1,197.1 1234.6,201.5 1235.1,205.3 1235.6,208.8 1236.1,212.1 1236.6,215.3 1237.1,218.3 1237.6,221.2 1238.1,224.0 1238.6,226.8 1239.1,229.6 1239.6,232.4 1240.1,235.2 1240.6,238.0 1241.1,240.9 1241.6,243.9 1242.1,247.0 1242.6,250.4 1243.1,254.1 1243.6,258.0 1244.1,261.8 1244.6,265.7 1245.1,269.4 1245.6,272.9 1246.1,276.1 1246.6,278.8 1247.1,280.9 1247.6,282.7 1248.1,284.4 1248.6,286.1 1249.1,287.7 1249.6,289.2 1250.1,290.7 1250.6,292.0 1251.1,293.3 1251.6,294.4 1252.1,295.3 1252.6,296.1 1253.1,296.7 1253.6,297.0 1254.1,297.2 1254.6,297.1 1255.1,296.8 1255.6,296.1 1256.1,295.3 1256.6,294.3 1257.1,293.0 1257.6,291.6 1258.1,290.0 1258.6,288.3 1259.1,286.5 1259.6,284.6 1260.1,282.5 1260.6,280.5 1261.1,278.4 1261.6,276.3 1262.1,274.1 1262.6,272.0 1263.1,270.0 1263.6,267.6 1264.1,265.0 1264.6,262.2 1265.1,259.2 1265.6,255.9 1266.1,252.6 1266.6,249.1 1267.1,245.6 1267.6,242.0 1268.1,238.3 1268.6,234.7 1269.1,231.1 1269.6,227.6 1270.1,224.3 1270.6,221.0 1271.1,217.9 1271.6,215.0 1272.1,212.2 1272.6,209.4 1273.1,206.7 1273.6,203.9 1274.1,201.2 1274.6,198.6 1275.1,196.0 1275.6,193.4 1276.1,191.0 1276.6,188.6 1277.1,186.3 1277.6,184.2 1278.1,182.1 1278.6,180.2 1279.1,178.3 1279.6,176.3 1280.1,174.3 1280.6,172.3 1281.1,170.4 1281.6,168.5 1282.1,166.7 1282.6,165.0 1283.1,163.5 1283.6,162.2 1284.1,161.1 1284.6,160.3 1285.1,159.8 1285.6,159.6 1286.1,159.7 1286.6,159.9 1287.1,160.3 1287.6,160.8 1288.1,161.5 1288.6,162.2 1289.1,163.0 1289.6,163.9 1290.1,164.8 1290.6,165.8 1291.1,166.9 1291.6,168.4 1292.1,170.4 1292.6,172.7 1293.1,175.2 1293.6,178.0 1294.1,180.8 1294.6,183.7 1295.1,186.6 1295.6,189.3 1296.1,192.5 1296.6,194.3 1297.1,201.6 1297.6,199.2 1298.1,200.6 1298.6,202.0 1299.1,204.0 1299.6,206.8 1300.1,207.2 1300.6,210.6 1301.1,211.6 1301.6,213.8 1302.1,216.1 1302.6,219.1 1303.1,220.6 1303.6,223.4 1304.1,224.9 1304.6,226.0 1305.1,228.9 1305.6,230.2 1306.1,233.7 1306.6,232.4 1307.1,234.2 1307.6,233.9 1308.1,235.7 1308.6,237.1 1309.1,237.4 1309.6,238.1 1310.1,238.9 1310.6,238.1 1311.1,238.6 1311.6,239.1 1312.1,239.9 1312.6,239.7 1313.1,239.2 1313.6,240.8 1314.1,240.3 1314.6,241.4 1315.1,240.7 1315.6,240.0 1316.1,241.6 1316.6,241.8 1317.1,241.0 1317.6,240.7 1318.1,240.0 1318.6,242.0 1319.1,240.0 1319.6,241.3 1320.1,242.3 1320.6,240.8 1321.1,239.4 1321.6,241.3 1322.1,241.2 1322.6,241.9 1323.1,239.9 1323.6,241.2 1324.1,239.2 1324.6,240.4 1325.1,241.0 1325.6,240.4 1326.1,238.9 1326.6,238.1 1327.1,237.8 1327.6,236.7 1328.1,236.2 1328.6,235.7 1329.1,234.0 1329.6,233.8 1330.1,233.8 1330.6,231.8 1331.1,232.6 1331.6,232.3 1332.1,230.6 1332.6,230.8 1333.1,230.1 1333.6,228.3 1334.1,229.9 1334.6,229.2 1335.1,227.5 1335.6,227.6 1336.1,226.7 1336.6,227.6 1337.1,226.1 1337.6,226.5 1338.1,225.7 1338.6,223.8 1339.1,225.3 1339.6,224.2 1340.1,224.6 1340.6,225.2 1341.1,227.1 1341.6,223.3 1342.1,223.5 1342.6,223.1 1343.1,224.1 1343.6,224.4 1344.1,221.5 1344.6,222.9 1345.1,223.1 1345.6,224.2 1346.1,223.4 1346.6,224.4 1347.1,224.4 1347.6,222.8 1348.1,223.5 1348.6,223.7 1349.1,222.8 1349.6,223.2 1350.1,222.8 1350.6,224.2 1351.1,228.0 1351.6,225.7 1352.1,231.4 1352.6,226.9 1353.1,228.0 1353.6,228.3 1354.1,230.9 1354.6,231.5 1355.1,232.0 1355.6,232.7 1356.1,234.4 1356.6,235.3 1357.1,237.9 1357.6,238.1 1358.1,238.3 1358.6,239.8 1359.1,240.6 1359.6,242.7 1360.1,244.0 1360.6,245.6 1361.1,246.6 1361.6,248.5 1362.1,247.8 1362.6,252.7 1363.1,251.7 1363.6,252.7 1364.1,256.6 1364.6,259.8 1365.1,259.8 1365.6,258.5 1366.1,263.5 1366.6,269.9 1367.1,265.3 1367.6,269.3 1368.1,269.6 1368.6,272.2 1369.1,274.0 1369.6,273.3 1370.1,275.0 1370.6,277.0 1371.1,278.7 1371.6,278.1 1372.1,280.1 1372.6,282.9 1373.1,285.0 1373.6,282.3 1374.1,286.4 1374.6,289.7 1375.1,292.0 1375.6,289.0 1376.1,290.6 1376.6,292.7 1377.1,295.0 1377.6,296.3 1378.1,304.5 1378.6,297.8 1379.1,299.1 1379.6,301.0 1380.1,303.4 1380.6,306.3 1381.1,305.8 1381.6,306.4 1382.1,306.2 1382.6,308.2 1383.1,305.9 1383.6,310.3 1384.1,311.8 1384.6,311.0 1385.1,311.9 1385.6,313.2 1386.1,313.6 1386.6,314.5 1387.1,315.9 1387.6,315.9 1388.1,315.9 1388.6,316.5 1389.1,315.4 1389.6,316.6 1390.1,318.7 1390.6,318.8 1391.1,317.6 1391.6,319.4 1392.1,316.4 1392.6,319.6 1393.1,318.9 1393.6,319.4 1394.1,320.7 1394.6,321.4 1395.1,318.8 1395.6,319.7 1396.1,320.4 1396.6,322.8 1397.1,323.7 1397.6,324.1 1398.1,329.5 1398.6,324.3 1399.1,324.8 1399.6,323.0 1400.1,323.6 1400.6,326.5 1401.1,324.8 1401.6,326.6 1402.1,324.9 1402.6,326.2 1403.1,326.2 1403.6,328.2 1404.1,327.7 1404.6,330.4 1405.1,328.8 1405.6,329.1 1406.1,327.7 1406.6,330.4 1407.1,333.5 1407.6,332.2 1408.1,330.9 1408.6,329.6 1409.1,331.2 1409.6,327.8 1410.1,333.9 1410.6,333.1 1411.1,334.7 1411.6,332.7 1412.1,336.6 1412.6,338.3 1413.1,336.6 1413.6,332.3 1414.1,336.8 1414.6,343.5 1415.1,336.8 1415.6,335.8 1416.1,337.7 1416.6,337.8 1417.1,335.1 1417.6,337.3 1418.1,337.8 1418.6,338.4 1419.1,340.4 1419.6,342.4 1420.1,342.5 1420.6,343.8 1421.1,343.2 1421.6,340.5 1422.1,353.5 1422.6,346.0 1423.1,347.6 1423.6,344.7 1424.1,346.4 1424.6,348.4 1425.1,348.9 1425.6,349.2 1426.1,349.6 1426.6,348.7 1427.1,350.7 1427.6,353.3 1428.1,354.2 1428.6,353.4 1429.1,353.1 1429.6,354.3 1430.1,354.3 1430.6,356.6 1431.1,356.7 1431.6,356.9 1432.1,355.6 1432.6,364.1 1433.1,359.5 1433.6,357.6 1434.1,358.0 1434.6,362.6 1435.1,358.0 1435.6,357.1 1436.1,360.2 1436.6,359.8 1437.1,362.0 1437.6,360.1 1438.1,361.6 1438.6,362.1 1439.1,361.7 1439.6,359.5 1440.1,362.1 1440.6,362.6 1441.1,363.0 1441.6,363.0 1442.1,359.2 1442.6,364.7 1443.1,364.2 1443.6,365.4 1444.1,363.0 1444.6,364.9 1445.1,365.5 1445.6,364.6 1446.1,366.0 1446.6,364.3 1447.1,367.4 1447.6,368.4 1448.1,367.3 1448.6,367.2 1449.1,364.3 1449.6,366.6 1450.1,367.7 1450.6,367.4 1451.1,368.1 1451.6,367.1 1452.1,368.5 1452.6,369.3 1453.1,368.7 1453.6,369.3 1454.1,370.3 1454.6,367.5 1455.1,367.2 1455.6,369.4 1456.1,369.9 1456.6,368.5 1457.1,372.2 1457.6,368.5 1458.1,369.1 1458.6,371.1 1459.1,370.9 1459.6,370.8 1460.1,370.9 1460.6,371.9 1461.1,371.7 1461.6,373.6 1462.1,374.0 1462.6,371.9 1463.1,371.8 1463.6,373.0 1464.1,381.3 1464.6,370.1 1465.1,380.6 1465.6,375.5 1466.1,374.0 1466.6,374.1 1467.1,379.1 1467.6,375.0 1468.1,375.6 1468.6,376.8 1469.1,378.9 1469.6,375.6 1470.1,379.4 1470.6,378.1 1471.1,377.3 1471.6,376.1 1472.1,381.5 1472.6,378.3 1473.1,378.6 1473.6,380.6 1474.1,377.3 1474.6,379.9 1475.1,378.3 1475.6,381.1 1476.1,380.4 1476.6,382.8 1477.1,380.9 1477.6,381.8 1478.1,380.6 1478.6,381.4 1479.1,380.9 1479.6,380.2 1480.1,382.6 1480.6,381.0 1481.1,381.4 1481.6,381.9 1482.1,380.1 1482.6,381.5 1483.1,381.0 1483.6,379.0 1484.1,379.6 1484.6,381.5 1485.1,380.7 1485.6,380.0 1486.1,380.4 1486.6,377.2 1487.1,381.1 1487.6,379.0 1488.1,382.9 1488.6,379.2 1489.1,377.8 1489.6,377.2 1490.1,379.6 1490.6,379.7 1491.1,381.0 1491.6,378.9 1492.1,377.6 1492.6,378.8 1493.1,376.1 1493.6,378.6 1494.1,376.7 1494.6,378.9 1495.1,382.4 1495.6,377.9 1496.1,379.2 1496.6,384.7 1497.1,378.7 1497.6,378.5 1498.1,378.6 1498.6,376.3 1499.1,378.7 1499.6,382.1 1500.1,376.9 1500.6,377.1 1501.1,378.1 1501.6,374.7 1502.1,374.3 1502.6,377.5 1503.1,377.2 1503.6,377.5 1504.1,377.8 1504.6,375.2 1505.1,375.6 1505.6,376.5 1506.1,376.0 1506.6,377.6 1507.1,378.7 1507.6,377.9 1508.1,375.5 1508.6,374.2 1509.1,376.9 1509.6,377.9 1510.1,377.2 1510.6,375.5 1511.1,378.6 1511.6,377.7 1512.1,383.6 1512.6,377.0 1513.1,375.2 1513.6,375.6 1514.1,381.2 1514.6,374.8 1515.1,374.8 1515.6,373.6 1516.1,375.7 1516.6,378.2 1517.1,374.4 1517.6,373.9 1518.1,375.5 1518.6,376.3 1519.1,375.5 1519.6,372.1 1520.1,375.9 1520.6,371.9 1521.1,377.7 1521.6,374.9 1522.1,377.6 1522.6,374.2 1523.1,374.6 1523.6,374.8 1524.1,372.8 1524.6,372.3 1525.1,373.7 1525.6,370.1 1526.1,376.1 1526.6,375.4 1527.1,374.5 1527.6,371.5 1528.1,372.9 1528.6,372.7 1529.1,371.5 1529.6,374.5 1530.1,372.8 1530.6,372.9 1531.1,370.2 1531.6,371.5 1532.1,373.5 1532.6,373.9 1533.1,370.3 1533.6,372.2 1534.1,373.0 1534.6,372.7 1535.1,371.6 1535.6,371.7 1536.1,372.9 1536.6,373.0 1537.1,369.9 1537.6,373.1 1538.1,371.2 1538.6,371.9 1539.1,370.4 1539.6,370.1 1540.1,371.0 1540.6,374.5 1541.1,373.9 1541.6,371.6 1542.1,371.8 1542.6,373.6 1543.1,369.6 1543.6,371.0 1544.1,370.5 1544.6,373.3 1545.1,371.2 1545.6,370.1 1546.1,372.2 1546.6,371.0 1547.1,371.9 1547.6,373.6 1548.1,373.1 1548.6,373.5 1549.1,372.8 1549.6,374.4 1550.1,375.6 1550.6,374.5 1551.1,376.6 1551.6,375.0 1552.1,378.6 1552.6,375.8 1553.1,380.1 1553.6,381.7 1554.1,381.4 1554.6,384.9 1555.1,384.0 1555.6,383.7 1556.1,381.7 1556.6,386.3 1557.1,387.0 1557.6,390.3 1558.1,388.9 1558.6,385.4 1559.1,390.0 1559.6,388.8 1560.1,391.3 1560.6,391.3 1561.1,388.7 1561.6,393.0 1562.1,388.9 1562.6,390.3 1563.1,392.9 1563.6,394.5 1564.1,395.5 1564.6,392.2 1565.1,394.2 1565.6,395.2 1566.1,395.4 1566.6,396.3 1567.1,399.9 1567.6,398.8 1568.1,398.7 1568.6,400.3 1569.1,401.7 1569.6,400.4 1570.1,403.0 1570.6,406.0 1571.1,408.2 1571.6,401.5 1572.1,405.4 1572.6,406.0 1573.1,409.1 1573.6,405.7 1574.1,412.1 1574.6,412.5 1575.1,413.5 1575.6,412.9 1576.1,415.3 1576.6,417.0 1577.1,416.8 1577.6,414.2 1578.1,415.0 1578.6,418.1 1579.1,418.8 1579.6,418.4 1580.1,422.3 1580.6,419.8 1581.1,420.4 1581.6,427.7 1582.1,426.2 1582.6,425.7 1583.1,426.2 1583.6,429.0 1584.1,436.0 1584.6,428.6 1585.1,429.1 1585.6,431.0 1586.1,431.4 1586.6,431.0 1587.1,431.3 1587.6,434.5 1588.1,433.6 1588.6,437.8 1589.1,442.4 1589.6,436.0 1590.1,435.8 1590.6,438.7 1591.1,438.9 1591.6,440.4 1592.1,443.8 1592.6,443.1 1593.1,447.1 1593.6,442.4 1594.1,449.9 1594.6,445.3 1595.1,445.1 1595.6,452.3 1596.1,446.7 1596.6,447.9 1597.1,448.8 1597.6,447.7 1598.1,447.4 1598.6,452.1 1599.1,451.0 1599.6,450.4 1600.1,452.1 1600.6,453.3 1601.1,454.6 1601.6,455.8 1602.1,453.9 1602.6,456.5 1603.1,457.7 1603.6,460.0 1604.1,457.0 1604.6,460.5 1605.1,462.2 1605.6,461.6 1606.1,458.5 1606.6,461.8 1607.1,465.1 1607.6,466.4 1608.1,459.8 1608.6,464.7 1609.1,464.3 1609.6,469.1 1610.1,470.6 1610.6,467.6 1611.1,463.6 1611.6,466.8 1612.1,468.5 1612.6,467.5 1613.1,467.7 1613.6,470.3 1614.1,474.0 1614.6,471.2 1615.1,470.0 1615.6,467.7 1616.1,476.9 1616.6,466.6 1617.1,472.1 1617.6,466.7 1618.1,474.1 1618.6,477.9 1619.1,476.8 1619.6,472.8 1620.1,478.9 1620.6,476.5 1621.1,473.2 1621.6,478.9 1622.1,478.0 1622.6,480.2 1623.1,479.4 1623.6,478.6 1624.1,478.3 1624.6,474.7 1625.1,480.8 1625.6,482.5 1626.1,481.5 1626.6,481.1 1627.1,481.9 1627.6,482.9 1628.1,480.0 1628.6,486.4 1629.1,479.8 1629.6,486.6 1630.1,482.4 1630.6,482.7 1631.1,485.6 1631.6,486.3 1632.1,487.0 1632.6,487.9 1633.1,485.9 1633.6,485.8 1634.1,487.5 1634.6,487.7 1635.1,488.8 1635.6,486.9 1636.1,495.6 1636.6,491.2 1637.1,487.4 1637.6,486.4 1638.1,489.2 1638.6,490.4 1639.1,498.0 1639.6,495.8 1640.1,489.1 1640.6,492.6 1641.1,495.4 1641.6,491.4 1642.1,497.3 1642.6,493.2 1643.1,493.1 1643.6,496.6 1644.1,495.6 1644.6,500.4 1645.1,493.7 1645.6,502.1 1646.1,500.1 1646.6,499.7 1647.1,492.6 1647.6,498.0 1648.1,495.2 1648.6,500.9 1649.1,499.6 1649.6,501.5 1650.1,495.5 1650.6,504.5 1651.1,506.1 1651.6,506.6 1652.1,499.2 1652.6,505.4 1653.1,505.3 1653.6,504.3 1654.1,499.4 1654.6,505.2 1655.1,507.4 1655.6,502.1 1656.1,506.5 1656.6,507.8 1657.1,503.5 1657.6,509.8 1658.1,511.2 1658.6,508.5 1659.1,509.0 1659.6,514.1 1660.1,507.8 1660.6,508.9 1661.1,510.1 1661.6,505.1 1662.1,505.3 1662.6,513.3 1663.1,514.4 1663.6,515.6 1664.1,512.2 1664.6,508.7 1665.1,513.5 1665.6,514.7 1666.1,513.0 1666.6,514.0 1667.1,515.3 1667.6,514.8 1668.1,522.7 1668.6,521.7 1669.1,516.9 1669.6,517.0 1670.1,514.2 1670.6,517.5 1671.1,518.9 1671.6,517.2 1672.1,522.5 1672.6,521.6 1673.1,524.3 1673.6,522.8 1674.1,521.1 1674.6,525.4 1675.1,525.4 1675.6,523.0 1676.1,528.1 1676.6,526.3 1677.1,532.9 1677.6,525.9 1678.1,527.8 1678.6,529.2 1679.1,529.7 1679.6,528.2 1680.1,532.1 1680.6,523.1 1681.1,532.2 1681.6,527.4 1682.1,530.9 1682.6,530.1 1683.1,536.0 1683.6,540.8 1684.1,531.8 1684.6,532.8 1685.1,529.0 1685.6,536.0 1686.1,534.4 1686.6,536.4 1687.1,542.3 1687.6,532.3 1688.1,535.2 1688.6,538.9 1689.1,540.9 1689.6,541.1 1690.1,531.0 1690.6,538.5 1691.1,535.6 1691.6,548.5 1692.1,537.5 1692.6,542.6 1693.1,542.8 1693.6,540.3 1694.1,544.7 1694.6,540.9 1695.1,543.9 1695.6,540.3 1696.1,549.7 1696.6,544.2 1697.1,544.3 1697.6,537.1 1698.1,540.9 1698.6,540.4 1699.1,549.4 1699.6,550.1 1700.1,547.6 1700.6,546.5 1701.1,543.2 1701.6,550.2 1702.1,547.9 1702.6,553.9 1703.1,549.4 1703.6,549.8 1704.1,549.5 1704.6,550.2 1705.1,549.2 1705.6,548.7 1706.1,553.9 1706.6,549.6 1707.1,547.0 1707.6,555.8 1708.1,548.8 1708.6,553.5 1709.1,557.8 1709.6,553.4 1710.1,551.9 1710.6,557.2 1711.1,557.7 1711.6,551.5 1712.1,558.8 1712.6,561.2 1713.1,552.5 1713.6,554.6 1714.1,558.5 1714.6,558.8 1715.1,557.7 1715.6,560.4 1716.1,551.5 1716.6,562.9 1717.1,559.5 1717.6,567.5 1718.1,558.2 1718.6,563.4 1719.1,567.0 1719.6,564.8 1720.1,563.0 1720.6,559.9 1721.1,557.3 1721.6,560.2 1722.1,564.2 1722.6,565.5 1723.1,562.6 1723.6,566.7 1724.1,560.8 1724.6,561.4 1725.1,560.4 1725.6,564.7 1726.1,568.0 1726.6,563.5 1727.1,578.5 1727.6,567.0 1728.1,564.9 1728.6,565.0 1729.1,564.3 1729.6,562.2 1730.1,558.0 1730.6,567.5 1731.1,562.6 1731.6,568.2 1732.1,569.1 1732.6,565.2 1733.1,565.9 1733.6,568.5 1734.1,572.5 1734.6,572.5 1735.1,562.1 1735.6,564.2 1736.1,567.1 1736.6,569.3 1737.1,571.5 1737.6,570.5 1738.1,562.9 1738.6,573.1 1739.1,571.4 1739.6,566.1 1740.1,570.5 1740.6,568.7 1741.1,569.9 1741.6,576.2 1742.1,585.4 1742.6,571.1 1743.1,573.5 1743.6,566.7 1744.1,567.8 1744.6,565.7 1745.1,574.7 1745.6,569.1 1746.1,574.0 1746.6,573.1 1747.1,570.6 1747.6,572.6 1748.1,573.9 1748.6,573.7 1749.1,570.1 1749.6,570.5 1750.1,579.7 1750.6,573.9 1751.1,570.4 1751.6,577.7 1752.1,574.3 1752.6,577.0 1753.1,572.2 1753.6,571.3 1754.1,570.0 1754.6,586.9 1755.1,574.8 1755.6,582.1 1756.1,576.3 1756.6,573.9 1757.1,574.9 1757.6,577.0 1758.1,581.0 1758.6,575.3 1759.1,581.4 1759.6,577.0 1760.1,574.1 1760.6,572.5 1761.1,578.7 1761.6,581.4 1762.1,582.6 1762.6,582.6 1763.1,580.4 1763.6,580.1 1764.1,575.9 1764.6,577.8 1765.1,577.1 1765.6,577.2 1766.1,578.0 1766.6,589.7 1767.1,585.6 1767.6,577.9 1768.1,581.4 1768.6,579.9 1769.1,588.2 1769.6,572.1 1770.1,577.5 1770.6,577.3 1771.1,579.8 1771.6,573.7 1772.1,577.4 1772.6,581.4 1773.1,583.0 1773.6,580.9 1774.1,580.6 1774.6,583.4 1775.1,579.3 1775.6,572.0 1776.1,582.7 1776.6,580.6 1777.1,577.4 1777.6,585.4 1778.1,584.3 1778.6,575.5 1779.1,586.8 1779.6,576.4 1780.1,581.5 1780.6,584.1 1781.1,581.1 1781.6,577.9 1782.1,580.5 1782.6,581.9 1783.1,581.9 1783.6,586.4 1784.1,580.2 1784.6,578.3 1785.1,582.7 1785.6,575.5 1786.1,587.3 1786.6,582.3 1787.1,589.2 1787.6,582.6 1788.1,582.1 1788.6,577.7 1789.1,578.5 1789.6,586.9" fill="none" stroke="#0000ff" stroke-width="3.5" stroke-linejoin="round" stroke-linecap="round"/>
<polyline points="1737.0,568.6 1737.8,660.0 1738.6,572.0 1739.4,660.0 1740.2,572.9 1741.0,660.0 1741.8,571.8 1742.6,660.0 1743.4,571.2 1744.2,660.0 1745.0,569.6 1745.8,660.0 1746.6,573.1 1747.4,660.0 1748.2,575.4 1749.0,660.0 1749.8,564.8 1750.6,660.0 1751.4,576.8 1752.2,660.0 1753.0,574.4 1753.8,660.0 1754.6,578.8 1755.4,660.0 1756.2,582.8 1757.0,660.0 1757.8,574.6 1758.6,660.0 1759.4,580.8 1760.2,660.0 1761.0,581.0 1761.8,660.0 1762.6,576.6 1763.4,660.0 1764.2,568.7 1765.0,660.0 1765.8,574.7 1766.6,660.0 1767.4,582.1 1768.2,660.0 1769.0,578.7 1769.8,660.0 1770.6,580.0 1771.4,660.0 1772.2,581.9 1773.0,600.5 1773.8,579.9 1774.6,660.0 1775.4,583.3 1776.2,660.0 1777.0,580.4 1777.8,660.0 1778.6,585.7 1779.4,660.0 1780.2,579.3 1781.0,660.0 1781.8,579.5 1782.6,660.0 1783.4,579.8 1784.2,660.0 1785.0,577.7 1785.8,660.0 1786.6,582.0 1787.4,660.0 1788.2,576.5 1789.0,660.0 1789.8,580.0 1790.6,660.0 1791.4,575.1 1792.2,660.0 1793.0,572.8 1793.8,660.0 1794.6,587.6 1795.4,660.0 1796.2,578.8 1797.0,660.0 1797.8,581.4 1798.6,660.0 1799.4,584.3 1800.2,660.0 1801.0,581.1 1801.8,660.0 1802.6,580.7 1803.4,660.0" fill="none" stroke="#0000ff" stroke-width="3.5" stroke-linejoin="round" stroke-linecap="round"/>
<line x1="1782.5" y1="559" x2="1782.5" y2="581" stroke="#ff0000" stroke-width="3" stroke-linecap="round"/>
<line x1="1785" y1="560" x2="1785" y2="582" stroke="#00ff00" stroke-width="3" stroke-linecap="round"/>
<line x1="1787.5" y1="562" x2="1787.5" y2="584" stroke="#0000ff" stroke-width="3" stroke-linecap="round"/>
<line x1="1792" y1="561" x2="1792" y2="583" stroke="#0000ff" stroke-width="3" stroke-linecap="round"/>
<line x1="1796.5" y1="563" x2="1796.5" y2="585" stroke="#0000ff" stroke-width="3" stroke-linecap="round"/>
<polyline points="1050.0,536.9 1051.0,560.0 1052.0,537.3 1053.0,560.0 1054.0,542.9 1055.0,560.0 1056.0,548.2 1057.0,560.0 1058.0,546.2 1059.0,560.0 1060.0,545.1 1060.0,560.0" fill="none" stroke="#0000ff" stroke-width="3.5" stroke-linejoin="round" stroke-linecap="round"/>
<polyline points="1049.7,534.1 1050.5,660.0 1051.3,537.7 1052.1,660.0 1052.9,540.4 1053.7,660.0 1054.5,540.3 1055.3,660.0 1056.1,538.4 1056.9,660.0 1057.7,532.4 1058.5,660.0 1059.3,541.9 1060.1,660.0 1060.9,542.8 1061.7,660.0 1062.5,541.4 1063.3,660.0 1064.1,535.0 1064.9,660.0 1065.7,544.0 1066.5,576.2 1067.3,542.6 1068.1,660.0 1068.9,538.3 1069.7,660.0 1070.5,546.5 1071.3,660.0 1072.1,541.1 1072.9,660.0 1073.7,542.4 1074.5,660.0 1075.3,548.3 1076.1,660.0 1076.9,539.0 1077.7,660.0 1078.5,541.6 1079.3,570.0 1080.1,543.5 1080.9,660.0 1081.7,541.7 1082.5,660.0 1083.3,546.0 1084.1,660.0 1084.9,541.8 1085.7,660.0 1086.5,545.4 1087.3,660.0 1088.1,534.9 1088.9,660.0 1089.7,544.6 1090.5,660.0 1091.3,543.0 1092.1,564.5 1092.9,538.1 1093.7,558.8 1094.5,532.6 1095.3,564.8 1096.1,537.3 1096.9,558.7 1097.7,542.4 1098.5,561.1 1099.3,534.8 1100.1,561.0 1100.9,526.9 1101.7,541.9 1102.5,529.0 1103.3,564.3 1104.1,532.5 1104.9,557.3 1105.7,533.6 1106.5,559.5 1107.3,523.4 1108.1,561.8 1108.9,526.0 1109.7,557.5 1110.5,519.6 1111.3,558.9 1112.1,526.2 1112.9,560.7 1113.7,517.3 1114.5,564.0 1115.3,517.0 1116.1,563.1 1116.9,522.5 1117.7,563.6 1118.5,519.6 1119.3,563.1 1120.1,516.1 1120.9,562.7 1121.7,510.4 1122.5,563.8" fill="none" stroke="#00ffff" stroke-width="3.5" stroke-linejoin="round" stroke-linecap="round"/>
<polyline points="1122.3,506.3 1122.8,505.7 1123.3,500.8 1123.8,493.1 1124.3,487.8 1124.8,481.9 1125.3,478.2 1125.8,473.6 1126.3,466.0 1126.8,463.3 1127.3,460.1 1127.8,455.9 1128.3,444.5 1128.8,453.8 1129.3,441.5 1129.8,441.2 1130.3,435.0 1130.8,438.8 1131.3,431.8 1131.8,427.1 1132.3,427.7 1132.8,429.3 1133.3,426.9 1133.8,431.4 1134.3,430.8 1134.8,427.6 1135.3,431.4 1135.8,434.2 1136.3,437.4 1136.8,439.2 1137.3,439.8 1137.8,440.8 1138.3,444.4 1138.8,449.7 1139.3,449.7 1139.8,451.4 1140.3,454.6 1140.8,460.6 1141.3,459.6 1141.8,456.2 1142.3,464.3 1142.8,465.2 1143.3,464.9 1143.8,464.4 1144.3,468.0 1144.8,462.4 1145.3,471.3 1145.8,469.1 1146.3,470.9 1146.8,474.2 1147.3,473.2 1147.8,472.3 1148.3,470.8 1148.8,473.5 1149.3,469.0 1149.8,468.6 1150.3,464.4 1150.8,464.2 1151.3,458.4 1151.8,459.7 1152.3,450.9 1152.8,450.7 1153.3,445.6 1153.8,444.7 1154.3,442.5 1154.8,436.9 1155.3,437.0 1155.8,431.9 1156.3,428.0 1156.8,421.2 1157.3,421.9 1157.8,411.8 1158.3,405.4 1158.8,395.5 1159.3,388.6 1159.8,384.6 1160.3,374.1 1160.8,368.2 1161.3,358.9 1161.8,351.6 1162.3,340.7 1162.8,330.5 1163.3,319.6 1163.8,308.3 1164.3,296.7 1164.8,285.1 1165.3,273.8 1165.8,262.8 1166.3,251.7 1166.8,240.3 1167.3,229.0 1167.8,218.0 1168.3,207.7 1168.8,198.4 1169.3,190.0 1169.8,181.1 1170.3,172.3 1170.8,164.1 1171.3,157.3 1171.8,152.5 1172.3,150.3 1172.8,150.4 1173.3,151.1 1173.8,152.2 1174.3,153.7 1174.8,155.5 1175.3,157.3 1175.8,159.2 1176.3,161.2 1176.8,163.6 1177.3,166.4 1177.8,169.5 1178.3,172.8 1178.8,176.3 1179.3,179.9 1179.8,183.6 1180.3,187.2 1180.8,191.2 1181.3,195.3 1181.8,199.6 1182.3,204.0 1182.8,208.5 1183.3,212.9 1183.8,217.1 1184.3,221.1 1184.8,225.0 1185.3,228.8 1185.8,232.6 1186.3,236.5 1186.8,240.6 1187.3,245.1 1187.8,249.9 1188.3,255.3 1188.8,261.3 1189.3,269.1 1189.8,278.9 1190.3,290.1 1190.8,302.0 1191.3,314.0 1191.8,325.5 1192.3,336.0 1192.8,344.7 1193.3,351.1 1193.8,356.6 1194.3,361.7 1194.8,366.4 1195.3,370.7 1195.8,374.3 1196.3,377.3 1196.8,379.4 1197.3,380.8 1197.8,382.0 1198.3,383.1 1198.8,383.9 1199.3,384.4 1199.8,384.5 1200.3,383.1 1200.8,380.0 1201.3,375.7 1201.8,370.4 1202.3,364.7 1202.8,358.8 1203.3,353.1 1203.8,348.0 1204.3,342.6 1204.8,336.9 1205.3,330.9 1205.8,324.8 1206.3,318.8 1206.8,312.9 1207.3,307.2 1207.8,302.0 1208.3,297.2 1208.8,292.8 1209.3,288.6 1209.8,284.6 1210.3,280.8 1210.8,276.9 1211.3,273.0 1211.8,268.9 1212.3,264.6 1212.8,260.0 1213.3,254.9 1213.8,249.3 1214.3,243.3 1214.8,237.2 1215.3,230.8 1215.8,224.5 1216.3,218.4 1216.8,212.5 1217.3,206.9 1217.8,201.9 1218.3,197.3 1218.8,192.8 1219.3,188.3 1219.8,184.1 1220.3,180.1 1220.8,176.5 1221.3,173.4 1221.8,170.8 1222.3,168.8 1222.8,166.9 1223.3,165.1 1223.8,163.4 1224.3,161.9 1224.8,160.6 1225.3,159.6 1225.8,158.9 1226.3,158.6 1226.8,158.8 1227.3,159.5 1227.8,160.7 1228.3,162.2 1228.8,163.9 1229.3,165.6 1229.8,167.3 1230.3,169.0 1230.8,170.7 1231.3,172.5 1231.8,174.4 1232.3,176.5 1232.8,178.7 1233.3,181.2 1233.8,183.9 1234.3,187.0 1234.8,190.7 1235.3,194.8 1235.8,199.3 1236.3,203.9 1236.8,208.7 1237.3,213.5 1237.8,218.2 1238.3,222.8 1238.8,227.7 1239.3,232.9 1239.8,238.2 1240.3,243.4 1240.8,248.5 1241.3,253.2 1241.8,257.6 1242.3,261.5 1242.8,265.2 1243.3,268.8 1243.8,272.3 1244.3,275.7 1244.8,278.8 1245.3,281.8 1245.8,284.5 1246.3,287.0 1246.8,289.2 1247.3,291.2 1247.8,293.1 1248.3,295.0 1248.8,296.9 1249.3,298.8 1249.8,300.5 1250.3,302.1 1250.8,303.6 1251.3,304.9 1251.8,306.0 1252.3,306.8 1252.8,307.4 1253.3,307.7 1253.8,307.6 1254.3,307.0 1254.8,306.0 1255.3,304.7 1255.8,303.0 1256.3,301.1 1256.8,299.1 1257.3,297.0 1257.8,294.8 1258.3,292.7 1258.8,290.7 1259.3,288.9 1259.8,287.1 1260.3,285.3 1260.8,283.5 1261.3,281.6 1261.8,279.7 1262.3,277.8 1262.8,275.8 1263.3,273.7 1263.8,271.6 1264.3,269.4 1264.8,267.1 1265.3,264.6 1265.8,262.1 1266.3,259.5 1266.8,256.5 1267.3,253.1 1267.8,249.4 1268.3,245.4 1268.8,241.3 1269.3,237.0 1269.8,232.7 1270.3,228.3 1270.8,224.0 1271.3,219.8 1271.8,215.7 1272.3,212.0 1272.8,208.5 1273.3,205.3 1273.8,202.6 1274.3,199.9 1274.8,197.2 1275.3,194.7 1275.8,192.3 1276.3,190.0 1276.8,187.8 1277.3,185.7 1277.8,183.8 1278.3,182.1 1278.8,180.6 1279.3,179.2 1279.8,177.8 1280.3,176.4 1280.8,175.0 1281.3,173.7 1281.8,172.4 1282.3,171.2 1282.8,170.2 1283.3,169.2 1283.8,168.4 1284.3,167.7 1284.8,167.3 1285.3,167.0 1285.8,167.0 1286.3,167.2 1286.8,167.6 1287.3,168.2 1287.8,169.0 1288.3,169.8 1288.8,170.8 1289.3,171.8 1289.8,172.9 1290.3,173.7 1290.8,176.0 1291.3,177.0 1291.8,176.5 1292.3,177.5 1292.8,182.0 1293.3,181.8 1293.8,185.3 1294.3,184.8 1294.8,186.0 1295.3,189.1 1295.8,189.9 1296.3,192.3 1296.8,194.8 1297.3,199.8 1297.8,201.2 1298.3,207.6 1298.8,208.9 1299.3,213.0 1299.8,217.5 1300.3,221.1 1300.8,220.9 1301.3,222.7 1301.8,223.8 1302.3,226.5 1302.8,225.5 1303.3,227.0 1303.8,230.7 1304.3,230.7 1304.8,230.0 1305.3,230.0 1305.8,230.1 1306.3,229.7 1306.8,229.2 1307.3,229.8 1307.8,231.2 1308.3,231.2 1308.8,232.2 1309.3,230.4 1309.8,229.6 1310.3,231.1 1310.8,231.8 1311.3,228.6 1311.8,230.6 1312.3,231.6 1312.8,230.4 1313.3,228.7 1313.8,232.0 1314.3,228.4 1314.8,230.3 1315.3,231.9 1315.8,230.1 1316.3,233.0 1316.8,231.6 1317.3,230.9 1317.8,229.4 1318.3,232.0 1318.8,231.0 1319.3,232.5 1319.8,229.3 1320.3,232.1 1320.8,231.0 1321.3,229.5 1321.8,230.6 1322.3,229.3 1322.8,227.8 1323.3,229.1 1323.8,230.5 1324.3,226.0 1324.8,228.0 1325.3,227.6 1325.8,226.9 1326.3,228.1 1326.8,226.4 1327.3,226.8 1327.8,225.3 1328.3,225.5 1328.8,225.0 1329.3,223.3 1329.8,222.4 1330.3,222.5 1330.8,222.6 1331.3,220.9 1331.8,220.0 1332.3,220.8 1332.8,225.8 1333.3,217.7 1333.8,218.0 1334.3,217.9 1334.8,217.9 1335.3,215.8 1335.8,214.6 1336.3,216.7 1336.8,215.4 1337.3,215.2 1337.8,214.9 1338.3,215.0 1338.8,214.3 1339.3,212.8 1339.8,213.8 1340.3,212.7 1340.8,214.1 1341.3,212.4 1341.8,212.1 1342.3,211.2 1342.8,211.3 1343.3,212.4 1343.8,212.2 1344.3,212.7 1344.8,211.6 1345.3,210.1 1345.8,212.5 1346.3,214.7 1346.8,211.1 1347.3,219.2 1347.8,221.8 1348.3,212.5 1348.8,210.4 1349.3,212.7 1349.8,213.5 1350.3,209.8 1350.8,215.3 1351.3,216.2 1351.8,218.6 1352.3,214.5 1352.8,215.8 1353.3,215.7 1353.8,218.9 1354.3,218.3 1354.8,221.9 1355.3,223.4 1355.8,219.3 1356.3,226.2 1356.8,225.0 1357.3,228.5 1357.8,226.9 1358.3,230.0 1358.8,232.9 1359.3,233.1 1359.8,237.6 1360.3,236.1 1360.8,236.1 1361.3,237.8 1361.8,238.9 1362.3,243.7 1362.8,243.0 1363.3,246.6 1363.8,247.3 1364.3,246.1 1364.8,251.9 1365.3,245.9 1365.8,250.6 1366.3,248.3 1366.8,248.9 1367.3,250.7 1367.8,261.5 1368.3,256.0 1368.8,256.9 1369.3,262.1 1369.8,266.1 1370.3,260.1 1370.8,259.9 1371.3,263.5 1371.8,267.8 1372.3,274.1 1372.8,270.9 1373.3,270.0 1373.8,271.0 1374.3,271.4 1374.8,273.5 1375.3,275.2 1375.8,269.4 1376.3,273.6 1376.8,273.6 1377.3,275.4 1377.8,278.1 1378.3,273.4 1378.8,279.3 1379.3,279.1 1379.8,275.8 1380.3,293.4 1380.8,284.3 1381.3,284.2 1381.8,285.3 1382.3,282.7 1382.8,282.5 1383.3,302.4 1383.8,285.5 1384.3,291.0 1384.8,286.1 1385.3,283.8 1385.8,286.2 1386.3,290.8 1386.8,285.4 1387.3,290.8 1387.8,290.5 1388.3,292.9 1388.8,294.4 1389.3,293.5 1389.8,287.4 1390.3,292.0 1390.8,288.9 1391.3,289.1 1391.8,295.3 1392.3,288.9 1392.8,291.0 1393.3,290.2 1393.8,295.6 1394.3,308.5 1394.8,297.3 1395.3,299.2 1395.8,297.5 1396.3,299.0 1396.8,292.5 1397.3,295.6 1397.8,296.9 1398.3,296.3 1398.8,296.1 1399.3,297.3 1399.8,294.3 1400.3,296.1 1400.8,298.1 1401.3,295.5 1401.8,297.8 1402.3,299.7 1402.8,313.0 1403.3,296.2 1403.8,301.7 1404.3,299.5 1404.8,298.5 1405.3,303.7 1405.8,301.6 1406.3,299.1 1406.8,304.1 1407.3,301.4 1407.8,301.6 1408.3,305.2 1408.8,302.5 1409.3,307.3 1409.8,303.2 1410.3,306.5 1410.8,304.0 1411.3,301.8 1411.8,303.8 1412.3,305.2 1412.8,310.4 1413.3,305.3 1413.8,305.8 1414.3,307.5 1414.8,303.6 1415.3,310.0 1415.8,325.3 1416.3,311.2 1416.8,314.8 1417.3,308.8 1417.8,309.8 1418.3,310.2 1418.8,313.8 1419.3,313.1 1419.8,313.3 1420.3,312.3 1420.8,314.7 1421.3,313.4 1421.8,312.5 1422.3,313.8 1422.8,312.0 1423.3,318.9 1423.8,315.1 1424.3,314.4 1424.8,318.8 1425.3,314.4 1425.8,317.9 1426.3,319.5 1426.8,336.5 1427.3,315.7 1427.8,321.3 1428.3,321.4 1428.8,319.8 1429.3,322.7 1429.8,316.3 1430.3,317.0 1430.8,318.9 1431.3,323.0 1431.8,321.3 1432.3,326.4 1432.8,324.4 1433.3,322.7 1433.8,326.1 1434.3,323.1 1434.8,320.7 1435.3,322.6 1435.8,323.1 1436.3,322.3 1436.8,321.9 1437.3,328.4 1437.8,326.0 1438.3,322.2 1438.8,324.6 1439.3,326.6 1439.8,331.5 1440.3,327.9 1440.8,325.4 1441.3,336.5 1441.8,323.5 1442.3,333.0 1442.8,329.0 1443.3,329.3 1443.8,330.9 1444.3,327.1 1444.8,328.0 1445.3,330.6 1445.8,331.8 1446.3,329.5 1446.8,332.5 1447.3,346.1 1447.8,330.4 1448.3,329.7 1448.8,328.2 1449.3,336.6 1449.8,351.8 1450.3,334.0 1450.8,332.6 1451.3,331.0 1451.8,331.6 1452.3,336.2 1452.8,333.0 1453.3,333.7 1453.8,334.9 1454.3,333.1 1454.8,332.1 1455.3,332.5 1455.8,333.0 1456.3,337.7 1456.8,337.7 1457.3,332.6 1457.8,332.5 1458.3,345.7 1458.8,334.8 1459.3,335.3 1459.8,337.9 1460.3,335.6 1460.8,333.4 1461.3,331.3 1461.8,336.7 1462.3,340.6 1462.8,338.1 1463.3,338.0 1463.8,333.2 1464.3,338.0 1464.8,335.0 1465.3,333.0 1465.8,336.9 1466.3,337.6 1466.8,334.7 1467.3,334.8 1467.8,339.6 1468.3,337.9 1468.8,334.1 1469.3,338.6 1469.8,335.5 1470.3,337.9 1470.8,336.2 1471.3,344.2 1471.8,341.8 1472.3,336.7 1472.8,341.6 1473.3,338.1 1473.8,337.2 1474.3,338.4 1474.8,336.7 1475.3,343.6 1475.8,337.2 1476.3,339.2 1476.8,340.8 1477.3,338.9 1477.8,337.2 1478.3,339.1 1478.8,340.3 1479.3,337.9 1479.8,342.1 1480.3,340.2 1480.8,340.0 1481.3,338.2 1481.8,341.6 1482.3,338.8 1482.8,338.3 1483.3,337.7 1483.8,337.1 1484.3,341.1 1484.8,353.8 1485.3,335.0 1485.8,337.6 1486.3,339.1 1486.8,339.4 1487.3,339.6 1487.8,348.8 1488.3,336.4 1488.8,334.6 1489.3,339.3 1489.8,337.7 1490.3,336.9 1490.8,335.9 1491.3,337.7 1491.8,341.3 1492.3,336.7 1492.8,339.6 1493.3,337.1 1493.8,334.3 1494.3,338.5 1494.8,336.1 1495.3,334.0 1495.8,339.1 1496.3,337.3 1496.8,337.8 1497.3,336.8 1497.8,328.8 1498.3,337.4 1498.8,349.0 1499.3,340.2 1499.8,332.7 1500.3,337.4 1500.8,334.1 1501.3,338.1 1501.8,338.9 1502.3,340.2 1502.8,338.8 1503.3,336.3 1503.8,334.4 1504.3,333.1 1504.8,335.7 1505.3,335.3 1505.8,334.6 1506.3,333.0 1506.8,338.1 1507.3,337.6 1507.8,333.5 1508.3,334.5 1508.8,333.9 1509.3,335.4 1509.8,349.9 1510.3,333.5 1510.8,335.8 1511.3,334.6 1511.8,332.4 1512.3,332.9 1512.8,332.7 1513.3,334.7 1513.8,332.1 1514.3,337.8 1514.8,328.9 1515.3,349.8 1515.8,346.8 1516.3,332.2 1516.8,329.3 1517.3,334.7 1517.8,334.0 1518.3,330.3 1518.8,333.3 1519.3,334.5 1519.8,328.9 1520.3,330.8 1520.8,335.1 1521.3,323.5 1521.8,330.6 1522.3,327.0 1522.8,329.3 1523.3,333.1 1523.8,328.4 1524.3,329.8 1524.8,330.2 1525.3,331.0 1525.8,328.9 1526.3,330.6 1526.8,330.8 1527.3,331.7 1527.8,330.8 1528.3,331.4 1528.8,332.7 1529.3,328.6 1529.8,329.6 1530.3,328.6 1530.8,332.0 1531.3,332.3 1531.8,332.8 1532.3,327.2 1532.8,330.2 1533.3,329.0 1533.8,331.4 1534.3,328.1 1534.8,326.3 1535.3,328.7 1535.8,330.9 1536.3,330.2 1536.8,332.3 1537.3,326.0 1537.8,330.2 1538.3,328.4 1538.8,328.9 1539.3,331.8 1539.8,328.8 1540.3,329.3 1540.8,329.6 1541.3,327.5 1541.8,327.5 1542.3,330.8 1542.8,329.9 1543.3,327.5 1543.8,328.0 1544.3,331.6 1544.8,337.6 1545.3,334.3 1545.8,330.7 1546.3,330.2 1546.8,335.1 1547.3,329.4 1547.8,331.2 1548.3,334.6 1548.8,335.7 1549.3,329.9 1549.8,330.3 1550.3,330.6 1550.8,332.0 1551.3,335.7 1551.8,341.1 1552.3,329.6 1552.8,332.9 1553.3,332.7 1553.8,335.8 1554.3,334.8 1554.8,332.0 1555.3,339.9 1555.8,353.1 1556.3,338.6 1556.8,336.0 1557.3,336.9 1557.8,336.4 1558.3,334.6 1558.8,331.6 1559.3,340.8 1559.8,344.9 1560.3,338.7 1560.8,338.4 1561.3,343.4 1561.8,336.2 1562.3,342.5 1562.8,338.6 1563.3,341.1 1563.8,347.6 1564.3,341.3 1564.8,348.6 1565.3,343.0 1565.8,343.4 1566.3,347.3 1566.8,342.7 1567.3,348.7 1567.8,352.6 1568.3,351.5 1568.8,351.6 1569.3,354.2 1569.8,353.4 1570.3,353.2 1570.8,356.4 1571.3,350.1 1571.8,354.2 1572.3,357.4 1572.8,359.6 1573.3,359.3 1573.8,355.3 1574.3,358.5 1574.8,358.7 1575.3,360.8 1575.8,362.0 1576.3,354.3 1576.8,363.8 1577.3,363.1 1577.8,368.1 1578.3,362.5 1578.8,364.1 1579.3,361.6 1579.8,368.1 1580.3,368.6 1580.8,370.4 1581.3,366.3 1581.8,368.4 1582.3,365.1 1582.8,372.0 1583.3,374.6 1583.8,375.1 1584.3,372.9 1584.8,368.6 1585.3,370.7 1585.8,370.6 1586.3,376.6 1586.8,372.2 1587.3,370.6 1587.8,375.2 1588.3,391.9 1588.8,377.2 1589.3,374.9 1589.8,377.5 1590.3,376.6 1590.8,381.8 1591.3,377.5 1591.8,374.6 1592.3,382.9 1592.8,384.2 1593.3,384.1 1593.8,382.6 1594.3,382.5 1594.8,382.3 1595.3,382.9 1595.8,383.2 1596.3,383.5 1596.8,388.9 1597.3,390.0 1597.8,381.2 1598.3,387.6 1598.8,387.5 1599.3,390.9 1599.8,392.3 1600.3,380.9 1600.8,390.2 1601.3,400.5 1601.8,392.4 1602.3,395.5 1602.8,397.3 1603.3,397.9 1603.8,390.3 1604.3,392.3 1604.8,397.7 1605.3,412.9 1605.8,395.8 1606.3,395.3 1606.8,398.8 1607.3,397.0 1607.8,400.8 1608.3,395.4 1608.8,395.0 1609.3,404.0 1609.8,396.7 1610.3,403.8 1610.8,399.9 1611.3,397.5 1611.8,398.2 1612.3,405.0 1612.8,400.6 1613.3,394.0 1613.8,404.1 1614.3,401.2 1614.8,407.8 1615.3,401.3 1615.8,404.8 1616.3,402.1 1616.8,406.3 1617.3,408.0 1617.8,404.1 1618.3,412.8 1618.8,395.4 1619.3,400.0 1619.8,411.0 1620.3,398.9 1620.8,405.1 1621.3,406.6 1621.8,411.2 1622.3,420.6 1622.8,407.2 1623.3,408.8 1623.8,405.5 1624.3,436.4 1624.8,412.1 1625.3,413.5 1625.8,411.2 1626.3,409.2 1626.8,412.4 1627.3,403.1 1627.8,410.7 1628.3,407.8 1628.8,416.6 1629.3,421.6 1629.8,436.7 1630.3,417.4 1630.8,408.3 1631.3,412.7 1631.8,416.6 1632.3,413.3 1632.8,415.2 1633.3,416.4 1633.8,410.1 1634.3,419.3 1634.8,414.6 1635.3,416.3 1635.8,412.4 1636.3,417.7 1636.8,412.3 1637.3,425.6 1637.8,426.7 1638.3,424.0 1638.8,416.2 1639.3,420.9 1639.8,423.8 1640.3,420.6 1640.8,422.2 1641.3,420.7 1641.8,419.5 1642.3,413.6 1642.8,424.6 1643.3,435.8 1643.8,419.6 1644.3,428.5 1644.8,421.6 1645.3,424.9 1645.8,418.7 1646.3,424.2 1646.8,416.7 1647.3,429.2 1647.8,425.0 1648.3,422.2 1648.8,433.4 1649.3,428.8 1649.8,422.8 1650.3,424.7 1650.8,425.7 1651.3,427.3 1651.8,423.9 1652.3,427.1 1652.8,426.1 1653.3,430.4 1653.8,427.4 1654.3,427.0 1654.8,427.6 1655.3,438.7 1655.8,429.4 1656.3,433.0 1656.8,433.1 1657.3,435.9 1657.8,429.5 1658.3,427.4 1658.8,431.7 1659.3,435.7 1659.8,435.7 1660.3,443.4 1660.8,436.8 1661.3,430.6 1661.8,434.1 1662.3,429.2 1662.8,436.3 1663.3,435.7 1663.8,431.8 1664.3,433.3 1664.8,437.4 1665.3,442.7 1665.8,437.9 1666.3,433.7 1666.8,435.9 1667.3,442.8 1667.8,435.7 1668.3,445.0 1668.8,444.8 1669.3,444.4 1669.8,445.8 1670.3,452.7 1670.8,435.9 1671.3,439.5 1671.8,439.9 1672.3,442.1 1672.8,444.6 1673.3,442.8 1673.8,441.9 1674.3,447.6 1674.8,448.8 1675.3,448.2 1675.8,442.2 1676.3,446.4 1676.8,465.2 1677.3,446.1 1677.8,447.9 1678.3,444.9 1678.8,448.2 1679.3,449.7 1679.8,449.7 1680.3,461.6 1680.8,450.5 1681.3,447.1 1681.8,447.2 1682.3,450.9 1682.8,449.9 1683.3,452.2 1683.8,453.2 1684.3,444.3 1684.8,452.8 1685.3,454.9 1685.8,452.7 1686.3,449.9 1686.8,459.2 1687.3,449.5 1687.8,451.9 1688.3,456.9 1688.8,455.0 1689.3,452.6 1689.8,458.0 1690.3,452.7 1690.8,462.6 1691.3,451.1 1691.8,453.8 1692.3,456.4 1692.8,446.2 1693.3,451.1 1693.8,451.8 1694.3,453.2 1694.8,458.6 1695.3,458.2 1695.8,451.5 1696.3,453.6 1696.8,460.6 1697.3,455.1 1697.8,459.5 1698.3,462.1 1698.8,457.1 1699.3,462.3 1699.8,459.6 1700.3,456.7 1700.8,462.1 1701.3,462.3 1701.8,467.0 1702.3,459.4 1702.8,459.6 1703.3,463.0 1703.8,463.9 1704.3,465.3 1704.8,469.6 1705.3,464.3 1705.8,461.6 1706.3,467.8 1706.8,453.9 1707.3,462.4 1707.8,483.3 1708.3,470.4 1708.8,458.9 1709.3,478.7 1709.8,465.1 1710.3,464.4 1710.8,470.1 1711.3,466.1 1711.8,469.8 1712.3,466.9 1712.8,465.0 1713.3,478.6 1713.8,470.7 1714.3,466.6 1714.8,471.7 1715.3,471.4 1715.8,469.9 1716.3,468.2 1716.8,469.6 1717.3,468.8 1717.8,469.9 1718.3,474.0 1718.8,474.7 1719.3,462.0 1719.8,474.2 1720.3,472.4 1720.8,472.3 1721.3,472.4 1721.8,476.7 1722.3,478.0 1722.8,473.8 1723.3,470.1 1723.8,475.6 1724.3,480.7 1724.8,473.8 1725.3,481.4 1725.8,485.9 1726.3,468.9 1726.8,491.0 1727.3,478.4 1727.8,476.0 1728.3,471.8 1728.8,478.5 1729.3,480.0 1729.8,484.2 1730.3,473.9 1730.8,476.3 1731.3,482.0 1731.8,479.3 1732.3,479.1 1732.8,478.4 1733.3,477.1 1733.8,479.2 1734.3,484.8 1734.8,481.3 1735.3,486.7 1735.8,481.4 1736.3,482.8 1736.8,484.0 1737.3,484.2 1737.8,481.8 1738.3,487.3 1738.8,491.6 1739.3,488.8 1739.8,483.6 1740.3,507.3 1740.8,481.5 1741.3,483.7 1741.8,481.3 1742.3,482.9 1742.8,483.8 1743.3,488.0 1743.8,488.0 1744.3,486.2 1744.8,487.6 1745.3,491.2 1745.8,494.5 1746.3,483.5 1746.8,490.2 1747.3,491.1 1747.8,494.3 1748.3,498.0 1748.8,490.3 1749.3,494.4 1749.8,492.8 1750.3,498.6 1750.8,496.0 1751.3,496.8 1751.8,507.1 1752.3,498.5 1752.8,502.0 1753.3,519.0 1753.8,496.4 1754.3,505.6 1754.8,496.5 1755.3,505.3 1755.8,498.7 1756.3,491.0 1756.8,500.0 1757.3,501.8 1757.8,501.4 1758.3,502.0 1758.8,503.7 1759.3,499.3 1759.8,500.8 1760.3,502.3 1760.8,507.2 1761.3,506.5 1761.8,509.1 1762.3,505.4 1762.8,506.3 1763.3,501.4 1763.8,514.1 1764.3,507.6 1764.8,509.1 1765.3,504.2 1765.8,508.2 1766.3,508.5 1766.8,504.8 1767.3,512.6 1767.8,509.0 1768.3,511.5 1768.8,501.7 1769.3,514.8 1769.8,514.5 1770.3,506.6 1770.8,508.6 1771.3,514.2 1771.8,514.4 1772.3,513.8 1772.8,508.3 1773.3,514.2 1773.8,509.1 1774.3,516.4 1774.8,514.9 1775.3,514.9 1775.8,513.7 1776.3,512.5 1776.8,515.7 1777.3,519.0 1777.8,517.3 1778.3,517.7 1778.8,538.1 1779.3,518.6 1779.8,522.0 1780.3,525.6 1780.8,513.7 1781.3,524.2 1781.8,516.9 1782.3,524.4 1782.8,522.5 1783.3,521.4 1783.8,530.8 1784.3,520.2 1784.8,524.9 1785.3,522.6 1785.8,521.6" fill="none" stroke="#00ffff" stroke-width="4" stroke-linejoin="round" stroke-linecap="round"/>
<polyline points="1786.0,528.0 1786.8,556.0 1787.6,526.0 1788.4,556.0 1789.2,514.1 1790.0,556.0 1790.8,518.5 1791.6,556.0 1792.4,520.4 1793.2,556.0 1794.0,518.2 1794.8,556.0 1795.6,515.5 1796.4,556.0 1797.2,516.1 1798.0,556.0 1798.8,515.0 1799.6,546.4 1800.4,518.0 1801.2,556.0 1802.0,509.1 1802.8,556.0 1803.6,510.4 1804.4,660.0 1805.2,510.5 1806.0,660.0 1806.8,508.5 1807.6,528.7 1808.4,505.5 1809.2,660.0 1810.0,503.9 1810.8,521.8 1811.6,498.4 1812.4,660.0 1813.2,497.3 1814.0,660.0 1814.8,494.9 1815.6,660.0 1816.4,493.4 1817.2,660.0 1818.0,496.0 1818.8,660.0 1819.6,488.7 1820.4,660.0 1821.2,481.5 1822.0,660.0 1822.8,481.3 1823.6,660.0 1824.4,477.0 1825.2,660.0 1826.0,474.8 1826.8,660.0 1827.6,472.2 1828.4,492.4 1829.2,472.1 1830.0,660.0 1830.8,468.9 1831.6,660.0 1832.4,467.1 1833.2,660.0 1834.0,465.3 1834.8,660.0 1835.6,463.7 1836.4,660.0 1837.2,459.4 1838.0,660.0 1838.8,452.5 1839.6,660.0 1840.4,456.3 1841.0,660.0" fill="none" stroke="#00ffff" stroke-width="3.5" stroke-linejoin="round" stroke-linecap="round"/>
<line x1="1793" y1="550" x2="1793" y2="598" stroke="#00ffff" stroke-width="3.5" stroke-linecap="round"/></g>
<rect x="114.0" y="18.7" width="780.8" height="592.5999999999999" fill="none" stroke="#000" stroke-width="2.4"/>
<line x1="185.0" y1="611.3" x2="185.0" y2="622.3" stroke="#000" stroke-width="2.4"/>
<text x="185.0" y="657.5" text-anchor="middle" font-size="35">1000</text>
<line x1="326.9" y1="611.3" x2="326.9" y2="622.3" stroke="#000" stroke-width="2.4"/>
<text x="326.9" y="657.5" text-anchor="middle" font-size="35">1100</text>
<line x1="468.9" y1="611.3" x2="468.9" y2="622.3" stroke="#000" stroke-width="2.4"/>
<text x="468.9" y="657.5" text-anchor="middle" font-size="35">1200</text>
<line x1="610.9" y1="611.3" x2="610.9" y2="622.3" stroke="#000" stroke-width="2.4"/>
<text x="610.9" y="657.5" text-anchor="middle" font-size="35">1300</text>
<line x1="752.8" y1="611.3" x2="752.8" y2="622.3" stroke="#000" stroke-width="2.4"/>
<text x="752.8" y="657.5" text-anchor="middle" font-size="35">1400</text>
<line x1="894.8" y1="611.3" x2="894.8" y2="622.3" stroke="#000" stroke-width="2.4"/>
<text x="894.8" y="657.5" text-anchor="middle" font-size="35">1500</text>
<line x1="114.0" y1="611.3" x2="114.0" y2="617.3" stroke="#000" stroke-width="2.4"/>
<line x1="256.0" y1="611.3" x2="256.0" y2="617.3" stroke="#000" stroke-width="2.4"/>
<line x1="397.9" y1="611.3" x2="397.9" y2="617.3" stroke="#000" stroke-width="2.4"/>
<line x1="539.9" y1="611.3" x2="539.9" y2="617.3" stroke="#000" stroke-width="2.4"/>
<line x1="681.9" y1="611.3" x2="681.9" y2="617.3" stroke="#000" stroke-width="2.4"/>
<line x1="823.8" y1="611.3" x2="823.8" y2="617.3" stroke="#000" stroke-width="2.4"/>
<line x1="103.0" y1="611.3" x2="114.0" y2="611.3" stroke="#000" stroke-width="2.4"/>
<text transform="translate(95.5,622.3) scale(1,1.085)" text-anchor="end" font-size="35">-90</text>
<line x1="103.0" y1="537.2" x2="114.0" y2="537.2" stroke="#000" stroke-width="2.4"/>
<text transform="translate(95.5,548.2) scale(1,1.085)" text-anchor="end" font-size="35">-80</text>
<line x1="103.0" y1="463.1" x2="114.0" y2="463.1" stroke="#000" stroke-width="2.4"/>
<text transform="translate(95.5,474.1) scale(1,1.085)" text-anchor="end" font-size="35">-70</text>
<line x1="103.0" y1="389.1" x2="114.0" y2="389.1" stroke="#000" stroke-width="2.4"/>
<text transform="translate(95.5,400.1) scale(1,1.085)" text-anchor="end" font-size="35">-60</text>
<line x1="103.0" y1="315.0" x2="114.0" y2="315.0" stroke="#000" stroke-width="2.4"/>
<text transform="translate(95.5,326.0) scale(1,1.085)" text-anchor="end" font-size="35">-50</text>
<line x1="103.0" y1="240.9" x2="114.0" y2="240.9" stroke="#000" stroke-width="2.4"/>
<text transform="translate(95.5,251.9) scale(1,1.085)" text-anchor="end" font-size="35">-40</text>
<line x1="103.0" y1="166.8" x2="114.0" y2="166.8" stroke="#000" stroke-width="2.4"/>
<text transform="translate(95.5,177.8) scale(1,1.085)" text-anchor="end" font-size="35">-30</text>
<line x1="103.0" y1="92.8" x2="114.0" y2="92.8" stroke="#000" stroke-width="2.4"/>
<text transform="translate(95.5,103.8) scale(1,1.085)" text-anchor="end" font-size="35">-20</text>
<line x1="103.0" y1="18.7" x2="114.0" y2="18.7" stroke="#000" stroke-width="2.4"/>
<text transform="translate(95.5,29.7) scale(1,1.085)" text-anchor="end" font-size="35">-10</text>
<line x1="108.0" y1="574.3" x2="114.0" y2="574.3" stroke="#000" stroke-width="2.4"/>
<line x1="108.0" y1="500.2" x2="114.0" y2="500.2" stroke="#000" stroke-width="2.4"/>
<line x1="108.0" y1="426.1" x2="114.0" y2="426.1" stroke="#000" stroke-width="2.4"/>
<line x1="108.0" y1="352.0" x2="114.0" y2="352.0" stroke="#000" stroke-width="2.4"/>
<line x1="108.0" y1="278.0" x2="114.0" y2="278.0" stroke="#000" stroke-width="2.4"/>
<line x1="108.0" y1="203.9" x2="114.0" y2="203.9" stroke="#000" stroke-width="2.4"/>
<line x1="108.0" y1="129.8" x2="114.0" y2="129.8" stroke="#000" stroke-width="2.4"/>
<line x1="108.0" y1="55.7" x2="114.0" y2="55.7" stroke="#000" stroke-width="2.4"/>
<text x="487.7" y="691.5" text-anchor="middle" font-size="40.5" textLength="304" lengthAdjust="spacingAndGlyphs">Wavelength (nm)</text>
<text transform="translate(34.8,315.2) rotate(-90)" x="0" y="0" text-anchor="middle" font-size="41" textLength="277" lengthAdjust="spacingAndGlyphs">Intensity (dBm)</text>
<line x1="445.1" y1="40.2" x2="510.2" y2="40.2" stroke="#000000" stroke-width="4.2" stroke-linecap="round"/>
<text x="520" y="50.4" font-size="37" textLength="364" lengthAdjust="spacingAndGlyphs">226 W/246 W@976 nm</text>
<line x1="445.1" y1="85.8" x2="510.2" y2="85.8" stroke="#ff0000" stroke-width="4.2" stroke-linecap="round"/>
<text x="520" y="96.0" font-size="37" textLength="364" lengthAdjust="spacingAndGlyphs">438 W/486 W@976 nm</text>
<line x1="445.1" y1="131.4" x2="510.2" y2="131.4" stroke="#00ff00" stroke-width="4.2" stroke-linecap="round"/>
<text x="520" y="141.6" font-size="37" textLength="364" lengthAdjust="spacingAndGlyphs">591 W/648 W@976 nm</text>
<line x1="445.1" y1="177.0" x2="510.2" y2="177.0" stroke="#0000ff" stroke-width="4.2" stroke-linecap="round"/>
<text x="520" y="187.2" font-size="37" textLength="364" lengthAdjust="spacingAndGlyphs">734 W/817 W@976 nm</text>
<line x1="445.1" y1="222.6" x2="510.2" y2="222.6" stroke="#00ffff" stroke-width="4.2" stroke-linecap="round"/>
<text x="520" y="232.8" font-size="37" textLength="364" lengthAdjust="spacingAndGlyphs">803 W/908 W@976 nm</text>
<text x="127.1" y="70.5" font-size="46.5" textLength="56" lengthAdjust="spacingAndGlyphs">(a)</text>
<rect x="1049.7" y="20.9" width="790.5999999999999" height="599.6" fill="none" stroke="#000" stroke-width="2.4"/>
<line x1="1102.4" y1="620.5" x2="1102.4" y2="631.5" stroke="#000" stroke-width="2.4"/>
<text x="1102.4" y="664.7" text-anchor="middle" font-size="35.8">1000</text>
<line x1="1207.8" y1="620.5" x2="1207.8" y2="631.5" stroke="#000" stroke-width="2.4"/>
<text x="1207.8" y="664.7" text-anchor="middle" font-size="35.8">1100</text>
<line x1="1313.2" y1="620.5" x2="1313.2" y2="631.5" stroke="#000" stroke-width="2.4"/>
<text x="1313.2" y="664.7" text-anchor="middle" font-size="35.8">1200</text>
<line x1="1418.6" y1="620.5" x2="1418.6" y2="631.5" stroke="#000" stroke-width="2.4"/>
<text x="1418.6" y="664.7" text-anchor="middle" font-size="35.8">1300</text>
<line x1="1524.1" y1="620.5" x2="1524.1" y2="631.5" stroke="#000" stroke-width="2.4"/>
<text x="1524.1" y="664.7" text-anchor="middle" font-size="35.8">1400</text>
<line x1="1629.5" y1="620.5" x2="1629.5" y2="631.5" stroke="#000" stroke-width="2.4"/>
<text x="1629.5" y="664.7" text-anchor="middle" font-size="35.8">1500</text>
<line x1="1734.9" y1="620.5" x2="1734.9" y2="631.5" stroke="#000" stroke-width="2.4"/>
<text x="1734.9" y="664.7" text-anchor="middle" font-size="35.8">1600</text>
<line x1="1840.3" y1="620.5" x2="1840.3" y2="631.5" stroke="#000" stroke-width="2.4"/>
<text x="1840.3" y="664.7" text-anchor="middle" font-size="35.8">1700</text>
<line x1="1049.7" y1="620.5" x2="1049.7" y2="626.5" stroke="#000" stroke-width="2.4"/>
<line x1="1155.1" y1="620.5" x2="1155.1" y2="626.5" stroke="#000" stroke-width="2.4"/>
<line x1="1260.5" y1="620.5" x2="1260.5" y2="626.5" stroke="#000" stroke-width="2.4"/>
<line x1="1365.9" y1="620.5" x2="1365.9" y2="626.5" stroke="#000" stroke-width="2.4"/>
<line x1="1471.4" y1="620.5" x2="1471.4" y2="626.5" stroke="#000" stroke-width="2.4"/>
<line x1="1576.8" y1="620.5" x2="1576.8" y2="626.5" stroke="#000" stroke-width="2.4"/>
<line x1="1682.2" y1="620.5" x2="1682.2" y2="626.5" stroke="#000" stroke-width="2.4"/>
<line x1="1787.6" y1="620.5" x2="1787.6" y2="626.5" stroke="#000" stroke-width="2.4"/>
<line x1="1038.7" y1="577.7" x2="1049.7" y2="577.7" stroke="#000" stroke-width="2.4"/>
<text transform="translate(1033,588.6) scale(1,1)" text-anchor="end" font-size="35.6">-80</text>
<line x1="1038.7" y1="492.0" x2="1049.7" y2="492.0" stroke="#000" stroke-width="2.4"/>
<text transform="translate(1033,502.9) scale(1,1)" text-anchor="end" font-size="35.6">-70</text>
<line x1="1038.7" y1="406.4" x2="1049.7" y2="406.4" stroke="#000" stroke-width="2.4"/>
<text transform="translate(1033,417.3) scale(1,1)" text-anchor="end" font-size="35.6">-60</text>
<line x1="1038.7" y1="320.7" x2="1049.7" y2="320.7" stroke="#000" stroke-width="2.4"/>
<text transform="translate(1033,331.6) scale(1,1)" text-anchor="end" font-size="35.6">-50</text>
<line x1="1038.7" y1="235.0" x2="1049.7" y2="235.0" stroke="#000" stroke-width="2.4"/>
<text transform="translate(1033,245.9) scale(1,1)" text-anchor="end" font-size="35.6">-40</text>
<line x1="1038.7" y1="149.4" x2="1049.7" y2="149.4" stroke="#000" stroke-width="2.4"/>
<text transform="translate(1033,160.3) scale(1,1)" text-anchor="end" font-size="35.6">-30</text>
<line x1="1038.7" y1="63.7" x2="1049.7" y2="63.7" stroke="#000" stroke-width="2.4"/>
<text transform="translate(1033,74.6) scale(1,1)" text-anchor="end" font-size="35.6">-20</text>
<line x1="1043.7" y1="620.5" x2="1049.7" y2="620.5" stroke="#000" stroke-width="2.4"/>
<line x1="1043.7" y1="534.8" x2="1049.7" y2="534.8" stroke="#000" stroke-width="2.4"/>
<line x1="1043.7" y1="449.2" x2="1049.7" y2="449.2" stroke="#000" stroke-width="2.4"/>
<line x1="1043.7" y1="363.5" x2="1049.7" y2="363.5" stroke="#000" stroke-width="2.4"/>
<line x1="1043.7" y1="277.9" x2="1049.7" y2="277.9" stroke="#000" stroke-width="2.4"/>
<line x1="1043.7" y1="192.2" x2="1049.7" y2="192.2" stroke="#000" stroke-width="2.4"/>
<line x1="1043.7" y1="106.6" x2="1049.7" y2="106.6" stroke="#000" stroke-width="2.4"/>
<line x1="1043.7" y1="20.9" x2="1049.7" y2="20.9" stroke="#000" stroke-width="2.4"/>
<text x="1430.4" y="700.4" text-anchor="middle" font-size="41" textLength="325" lengthAdjust="spacingAndGlyphs">Wavelength (nm)</text>
<text transform="translate(972.2,321.2) rotate(-90)" x="0" y="0" text-anchor="middle" font-size="45" textLength="296" lengthAdjust="spacingAndGlyphs">Intensity (dBm)</text>
<line x1="1357.9" y1="49.2" x2="1429.4" y2="49.2" stroke="#000000" stroke-width="4.2" stroke-linecap="round"/>
<text x="1437.9" y="60.2" font-size="37" textLength="364" lengthAdjust="spacingAndGlyphs">234 W/246 W@976 nm</text>
<line x1="1357.9" y1="94.8" x2="1429.4" y2="94.8" stroke="#ff0000" stroke-width="4.2" stroke-linecap="round"/>
<text x="1437.9" y="105.8" font-size="37" textLength="364" lengthAdjust="spacingAndGlyphs">451 W/486 W@976 nm</text>
<line x1="1357.9" y1="140.4" x2="1429.4" y2="140.4" stroke="#00ff00" stroke-width="4.2" stroke-linecap="round"/>
<text x="1437.9" y="151.4" font-size="37" textLength="364" lengthAdjust="spacingAndGlyphs">800 W/908 W@976 nm</text>
<line x1="1357.9" y1="186.0" x2="1429.4" y2="186.0" stroke="#0000ff" stroke-width="4.2" stroke-linecap="round"/>
<text x="1437.9" y="197.0" font-size="37" textLength="382" lengthAdjust="spacingAndGlyphs">930 W/1055 W@976 nm</text>
<line x1="1357.9" y1="231.6" x2="1429.4" y2="231.6" stroke="#00ffff" stroke-width="4.2" stroke-linecap="round"/>
<text x="1437.9" y="242.6" font-size="37" textLength="401" lengthAdjust="spacingAndGlyphs">1049 W/1246 W@976 nm</text>
<text x="1057.5" y="66.8" font-size="42.5" textLength="54.4" lengthAdjust="spacingAndGlyphs">(b)</text>
</svg></body></html>
